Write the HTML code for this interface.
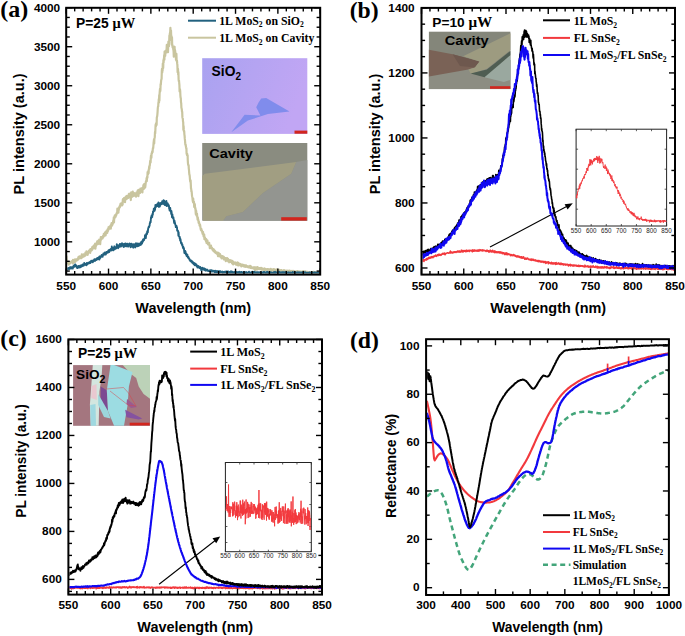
<!DOCTYPE html>
<html><head><meta charset="utf-8"><style>
html,body{margin:0;padding:0;background:#fff;}
svg{display:block;}
</style></head><body>
<svg width="685" height="636" viewBox="0 0 685 636">
<rect x="0" y="0" width="685" height="636" fill="#fff"/>
<clipPath id="ca"><rect x="67.2" y="8.8" width="252.0" height="264.8"/></clipPath>
<defs><linearGradient id="gsio" x1="0" y1="0" x2="1" y2="0.3"><stop offset="0" stop-color="#a9a2f0"/><stop offset="1" stop-color="#c1a6f4"/></linearGradient></defs>
<rect x="202.2" y="58.2" width="105.1" height="75.7" fill="url(#gsio)"/>
<polygon points="231.3,132.2 244.6,114.7 260.4,115.6 256.2,107.3 258.7,102.3 261.2,98.6 266.2,98.1 289.5,111.4 267.9,113.9 247.9,120.6" fill="#808cec"/>
<rect x="294.5" y="130.6" width="12.8" height="3.1" fill="#d2261e"/>
<rect x="202.2" y="143" width="105.1" height="77.7" fill="#8a8c80"/>
<polygon points="307.3,160 307.3,220.7 223,220.7 226.3,216.2 242.9,212.1 262.9,192.9 291.2,173.8 296.2,162.1" fill="#939590"/>
<polygon points="204.7,173.8 218.8,172.1 296.2,162.1 291.2,173.8 262.9,192.9 242.9,212.1 226.3,216.2 223,220.7 203,220.7 202.2,176.3" fill="#a19e82"/>
<rect x="281.2" y="217.2" width="25.6" height="3.4" fill="#d2261e"/>
<text x="211.6" y="76.1" font-family="Liberation Sans" font-size="13.8" font-weight="bold" text-anchor="start" fill="#000">SiO<tspan font-size="10" dy="3.8">2</tspan></text>
<text x="209.3" y="158" font-family="Liberation Sans" font-size="12.4" font-weight="bold" text-anchor="start" fill="#000" textLength="43.6" lengthAdjust="spacingAndGlyphs">Cavity</text>
<path d="M66.6 256.66 L66.8 259.68 L67 259.82 L67.2 263.25 L67.4 261.06 L67.6 261.95 L67.8 263.05 L68 261.89 L68.2 262.07 L68.4 262.22 L68.6 263.28 L68.8 264.52 L69 262.9 L69.2 262.04 L69.4 263.19 L69.6 262.34 L69.8 262.71 L70 263.51 L70.2 262.07 L70.4 262.56 L70.6 261.85 L70.8 262.31 L71 262.54 L71.2 261.57 L71.4 261.97 L71.6 261.97 L71.8 261.6 L72 261.13 L72.2 260.88 L72.4 261.74 L72.6 261.57 L72.8 263.35 L73 259.81 L73.2 261.61 L73.4 261.72 L73.6 262.37 L73.8 261.64 L74 260.54 L74.2 261.08 L74.4 261.39 L74.6 260.65 L74.8 261.37 L75 259.26 L75.2 261.9 L75.4 261.59 L75.6 260.11 L75.8 260.72 L76 260.18 L76.2 259.39 L76.4 259.98 L76.6 260.58 L76.8 259.39 L77 259.27 L77.2 259.39 L77.4 259.67 L77.6 260.21 L77.8 258.58 L78 259.37 L78.2 259.01 L78.4 257.23 L78.6 258.25 L78.8 258.36 L79 258.31 L79.2 258.47 L79.4 256.44 L79.6 258 L79.8 257.28 L80 256.54 L80.2 258.01 L80.4 258.06 L80.6 256.8 L80.8 257.91 L81 256.77 L81.2 257.02 L81.4 255.93 L81.6 258.03 L81.8 254.37 L82 256.39 L82.2 256.92 L82.4 254.5 L82.6 255.92 L82.8 255.89 L83 256.53 L83.2 256.76 L83.4 255.23 L83.6 254.26 L83.8 256.48 L84 256.22 L84.2 254.65 L84.4 255.22 L84.6 255.11 L84.8 255.14 L85 254.69 L85.2 255.6 L85.4 252.72 L85.6 255.01 L85.8 254.3 L86 253.63 L86.2 254.72 L86.4 251.47 L86.6 254.43 L86.8 253.6 L87 252.1 L87.2 253.35 L87.4 252.54 L87.6 254.98 L87.8 254.16 L88 252.75 L88.2 251.55 L88.4 251.52 L88.6 251.59 L88.8 251.22 L89 250.74 L89.2 250.86 L89.4 250.98 L89.6 250.6 L89.8 250.26 L90 249.87 L90.2 252.92 L90.4 249.01 L90.6 249.25 L90.8 250.42 L91 249.53 L91.2 250.05 L91.4 250.22 L91.6 250.47 L91.8 249.79 L92 247.94 L92.2 249.75 L92.4 246.81 L92.6 248.19 L92.8 247.62 L93 246.87 L93.2 248.26 L93.4 247.31 L93.6 248.27 L93.8 245.63 L94 247.69 L94.2 247.14 L94.4 246.57 L94.6 244.83 L94.8 245.77 L95 244.26 L95.2 243.51 L95.4 248.64 L95.6 246.12 L95.8 246.73 L96 244.27 L96.2 245.19 L96.4 244.97 L96.6 244.65 L96.8 243.81 L97 243.35 L97.2 241.24 L97.4 243.76 L97.6 243.34 L97.8 243.83 L98 242.15 L98.2 244.02 L98.4 241.51 L98.6 240.43 L98.8 242.49 L99 240.78 L99.2 239.72 L99.4 240.93 L99.6 241.37 L99.8 240.59 L100 240.62 L100.2 244.24 L100.4 240.49 L100.6 241.02 L100.8 237 L101 239.29 L101.2 239.49 L101.4 238.02 L101.6 237.22 L101.8 238.36 L102 237.34 L102.2 236.79 L102.4 238.46 L102.6 238.43 L102.8 237.05 L103 235.97 L103.2 236.8 L103.4 236.9 L103.6 236.44 L103.8 233.86 L104 234.86 L104.2 235.4 L104.4 235.45 L104.6 235.58 L104.8 235.11 L105 232.71 L105.2 232.94 L105.4 232.1 L105.6 235.31 L105.8 233.2 L106 233.37 L106.2 233.67 L106.4 231.84 L106.6 230.63 L106.8 231.21 L107 231.27 L107.2 232.93 L107.4 231.93 L107.6 229.38 L107.8 231.16 L108 230.98 L108.2 228.59 L108.4 229.44 L108.6 227.1 L108.8 229.41 L109 228.36 L109.2 226.84 L109.4 227.33 L109.6 228.17 L109.8 226.92 L110 227.65 L110.2 227.66 L110.4 225.67 L110.6 226.01 L110.8 228.69 L111 225.92 L111.2 224.41 L111.4 225.2 L111.6 223.15 L111.8 225.87 L112 224.58 L112.2 225.13 L112.4 224.54 L112.6 223.53 L112.8 223.88 L113 222.5 L113.2 221.01 L113.4 220.13 L113.6 220.41 L113.8 217.34 L114 222.4 L114.2 217.39 L114.4 219.01 L114.6 216.91 L114.8 215.48 L115 217.5 L115.2 216.7 L115.4 216.37 L115.6 216.79 L115.8 214.75 L116 215.57 L116.2 215.26 L116.4 213.65 L116.6 213.25 L116.8 213.9 L117 212.81 L117.2 212.52 L117.4 208.68 L117.6 211.58 L117.8 211.62 L118 210.54 L118.2 210.8 L118.4 212.57 L118.6 209.69 L118.8 210.11 L119 207.65 L119.2 207.26 L119.4 207.4 L119.6 206.28 L119.8 207.32 L120 205.66 L120.2 206.35 L120.4 204.22 L120.6 203.56 L120.8 204.57 L121 203.67 L121.2 203.9 L121.4 203.62 L121.6 203.65 L121.8 205.3 L122 205.44 L122.2 204.2 L122.4 202.33 L122.6 204.67 L122.8 200.02 L123 199.01 L123.2 202.01 L123.4 201.33 L123.6 200.84 L123.8 200.82 L124 198.12 L124.2 198.56 L124.4 201.78 L124.6 201.24 L124.8 198.45 L125 202.1 L125.2 197.5 L125.4 198.02 L125.6 199.08 L125.8 196.71 L126 197.56 L126.2 197.85 L126.4 197.35 L126.6 199.06 L126.8 198.49 L127 195.85 L127.2 196.32 L127.4 197.46 L127.6 196.96 L127.8 195.77 L128 197.44 L128.2 197.9 L128.4 195.64 L128.6 197.63 L128.8 193.94 L129 193.85 L129.2 196.88 L129.4 194.8 L129.6 194.46 L129.8 195.45 L130 194.73 L130.2 196.13 L130.4 193.38 L130.6 194.9 L130.8 200.07 L131 195.42 L131.2 192.3 L131.4 195.96 L131.6 195.78 L131.8 196.92 L132 194.97 L132.2 193.68 L132.4 196.67 L132.6 195.53 L132.8 191.69 L133 195.43 L133.2 193.88 L133.4 195.83 L133.6 193.54 L133.8 195.22 L134 194.27 L134.2 194.8 L134.4 193.83 L134.6 193.19 L134.8 193.86 L135 194.65 L135.2 194.28 L135.4 196.02 L135.6 194.17 L135.8 194.42 L136 196.57 L136.2 193.43 L136.4 194.05 L136.6 192.26 L136.8 193.14 L137 195.45 L137.2 193.34 L137.4 194.94 L137.6 191.01 L137.8 190.38 L138 192.82 L138.2 190.14 L138.4 196.12 L138.6 193.82 L138.8 189.88 L139 191.37 L139.2 190.59 L139.4 191.94 L139.6 191.06 L139.8 192.4 L140 193.05 L140.2 190.3 L140.4 188.66 L140.6 191.14 L140.8 189.84 L141 191.66 L141.2 189.47 L141.4 190.78 L141.6 189.82 L141.8 188.79 L142 188.17 L142.2 189.74 L142.4 192.31 L142.6 189.45 L142.8 187.7 L143 188.73 L143.2 187.53 L143.4 185.07 L143.6 187.24 L143.8 188.85 L144 185.61 L144.2 183.99 L144.4 186.17 L144.6 187.9 L144.8 186.11 L145 185.82 L145.2 187.4 L145.4 185.84 L145.6 183.87 L145.8 181.83 L146 181.76 L146.2 180.71 L146.4 181.54 L146.6 178.01 L146.8 181.18 L147 178.13 L147.2 176.45 L147.4 177.61 L147.6 172.01 L147.8 173.15 L148 172.52 L148.2 174.04 L148.4 170.91 L148.6 173.14 L148.8 169.02 L149 169.66 L149.2 166.57 L149.4 168.72 L149.6 165.3 L149.8 165.59 L150 162.82 L150.2 160.74 L150.4 161.17 L150.6 162.43 L150.8 157.68 L151 155.71 L151.2 156.79 L151.4 157.64 L151.6 153.32 L151.8 153.16 L152 153.4 L152.2 151.44 L152.4 151.53 L152.6 152.17 L152.8 149.05 L153 147.86 L153.2 148.27 L153.4 145.54 L153.6 142.57 L153.8 141.05 L154 139.4 L154.2 143.58 L154.4 138.4 L154.6 138.02 L154.8 136.71 L155 131.95 L155.2 133.33 L155.4 129.39 L155.6 124.79 L155.8 126.75 L156 123.4 L156.2 123.16 L156.4 122.82 L156.6 124.98 L156.8 117.77 L157 116.73 L157.2 116.11 L157.4 114.04 L157.6 111.64 L157.8 108.06 L158 106.61 L158.2 106.5 L158.4 102.79 L158.6 102.13 L158.8 99.19 L159 102.45 L159.2 95.21 L159.4 100.64 L159.6 93.63 L159.8 90.85 L160 88.79 L160.2 91.23 L160.4 90 L160.6 84.17 L160.8 84.96 L161 82.15 L161.2 80.19 L161.4 79.32 L161.6 78.96 L161.8 71.3 L162 68.91 L162.2 72.68 L162.4 70.44 L162.6 70.56 L162.8 63.62 L163 63.76 L163.2 68.09 L163.4 60.21 L163.6 62.7 L163.8 58.76 L164 58.42 L164.2 55 L164.4 59.81 L164.6 51.59 L164.8 52.22 L165 51.94 L165.2 55.9 L165.4 53.01 L165.6 53.1 L165.8 50.7 L166 50.55 L166.2 50.58 L166.4 52.5 L166.6 49.12 L166.8 44.78 L167 50.77 L167.2 48.15 L167.4 45.22 L167.6 47.27 L167.8 45.22 L168 52.17 L168.2 46.07 L168.4 41.56 L168.6 46.29 L168.8 42.51 L169 46.19 L169.2 41.9 L169.4 35.65 L169.6 36.99 L169.8 33.88 L170 33.12 L170.2 32.06 L170.4 27.74 L170.6 32.54 L170.8 29.99 L171 30.64 L171.2 35.89 L171.4 40.36 L171.6 36.33 L171.8 44.44 L172 37.5 L172.2 45.87 L172.4 44.93 L172.6 47.38 L172.8 46.23 L173 47.94 L173.2 49.2 L173.4 49.6 L173.6 51.81 L173.8 56.74 L174 50.32 L174.2 51.85 L174.4 48.37 L174.6 46.72 L174.8 55.98 L175 49.81 L175.2 51.41 L175.4 53.57 L175.6 56.18 L175.8 55.49 L176 59.93 L176.2 56.31 L176.4 53.75 L176.6 59.72 L176.8 61.25 L177 60.79 L177.2 63.68 L177.4 64.97 L177.6 72.13 L177.8 68.8 L178 69.05 L178.2 74.8 L178.4 72.14 L178.6 79.14 L178.8 81.09 L179 80.33 L179.2 82.92 L179.4 84.78 L179.6 91.49 L179.8 90.76 L180 89.26 L180.2 91.12 L180.4 95.56 L180.6 97.65 L180.8 98.03 L181 102.22 L181.2 103.16 L181.4 107.77 L181.6 108.41 L181.8 109.29 L182 111.72 L182.2 111.62 L182.4 117.15 L182.6 118.1 L182.8 118.45 L183 121.46 L183.2 122.11 L183.4 129.97 L183.6 126.14 L183.8 129.93 L184 131.53 L184.2 131.18 L184.4 134.58 L184.6 135.8 L184.8 138.69 L185 140.48 L185.2 143.17 L185.4 144.88 L185.6 144.34 L185.8 145.73 L186 147.18 L186.2 148.2 L186.4 148.1 L186.6 153.75 L186.8 153.92 L187 155.06 L187.2 153.88 L187.4 155.53 L187.6 155.16 L187.8 160.78 L188 163.56 L188.2 164.9 L188.4 165.27 L188.6 165.14 L188.8 168.57 L189 170.24 L189.2 173.09 L189.4 174.88 L189.6 174.88 L189.8 176.98 L190 179.88 L190.2 181.19 L190.4 181.88 L190.6 180.4 L190.8 184.42 L191 188.38 L191.2 188.88 L191.4 191.63 L191.6 191.12 L191.8 193.18 L192 195.6 L192.2 196.71 L192.4 197.47 L192.6 199.62 L192.8 201.03 L193 202.12 L193.2 198.66 L193.4 201.26 L193.6 202.35 L193.8 203.13 L194 202.12 L194.2 207.05 L194.4 204.54 L194.6 206.81 L194.8 204.03 L195 207.38 L195.2 208.42 L195.4 208.18 L195.6 211.17 L195.8 214.11 L196 210.4 L196.2 211.16 L196.4 215.43 L196.6 214.6 L196.8 214.19 L197 213.69 L197.2 217.12 L197.4 217.21 L197.6 219.71 L197.8 217.32 L198 218.98 L198.2 219.54 L198.4 220.38 L198.6 222.7 L198.8 223.12 L199 221.93 L199.2 223.28 L199.4 223.75 L199.6 225.76 L199.8 225.05 L200 224.49 L200.2 226.02 L200.4 226.94 L200.6 228.66 L200.8 229.63 L201 230.19 L201.2 229.62 L201.4 229.11 L201.6 230.94 L201.8 230.56 L202 230.57 L202.2 232.15 L202.4 232.78 L202.6 233.81 L202.8 232.28 L203 231.9 L203.2 234.85 L203.4 233.67 L203.6 236.34 L203.8 234.45 L204 235.48 L204.2 234.57 L204.4 239.27 L204.6 236.93 L204.8 237.77 L205 237.7 L205.2 238.42 L205.4 239.97 L205.6 239.57 L205.8 239.83 L206 241.48 L206.2 239.14 L206.4 242.13 L206.6 242.96 L206.8 240.17 L207 242.24 L207.2 240.94 L207.4 240.42 L207.6 242.04 L207.8 243.77 L208 244.31 L208.2 243.46 L208.4 243.25 L208.6 243.98 L208.8 243.98 L209 244.35 L209.2 242.85 L209.4 245.3 L209.6 245.68 L209.8 248.23 L210 246.99 L210.2 246.44 L210.4 246.9 L210.6 247.4 L210.8 246.64 L211 245.54 L211.2 247.09 L211.4 247.81 L211.6 248.37 L211.8 247.8 L212 247.83 L212.2 248.68 L212.4 249.2 L212.6 249.91 L212.8 249.35 L213 250.2 L213.2 249.06 L213.4 250.96 L213.6 250.35 L213.8 249.34 L214 250.57 L214.2 251.1 L214.4 250.21 L214.6 252.05 L214.8 251.27 L215 252.17 L215.2 251.04 L215.4 252.4 L215.6 252.96 L215.8 252.08 L216 252.48 L216.2 252.31 L216.4 253.29 L216.6 253.18 L216.8 253.76 L217 253.43 L217.2 252.52 L217.4 252.64 L217.6 253.56 L217.8 254.51 L218 256.23 L218.2 255.16 L218.4 254.02 L218.6 252.95 L218.8 255.29 L219 255 L219.2 254.09 L219.4 256.03 L219.6 255.41 L219.8 255.19 L220 254.04 L220.2 256.63 L220.4 256 L220.6 255.87 L220.8 255.4 L221 256.03 L221.2 257.5 L221.4 257.02 L221.6 258.38 L221.8 257.72 L222 257.25 L222.2 257.82 L222.4 257.34 L222.6 256.13 L222.8 256.95 L223 257.83 L223.2 256.91 L223.4 257.37 L223.6 256.89 L223.8 259.39 L224 257.07 L224.2 257.41 L224.4 257.65 L224.6 259.25 L224.8 259.48 L225 258.25 L225.2 259.26 L225.4 258.2 L225.6 259.02 L225.8 261.19 L226 259.97 L226.2 259.3 L226.4 258.4 L226.6 259.3 L226.8 258.61 L227 258.04 L227.2 260.31 L227.4 260.39 L227.6 260.19 L227.8 260.9 L228 258.94 L228.2 261.4 L228.4 259.59 L228.6 260.8 L228.8 260.95 L229 261.51 L229.2 262.3 L229.4 261.14 L229.6 260.68 L229.8 260.21 L230 261.33 L230.2 260.59 L230.4 260.29 L230.6 261.24 L230.8 261.98 L231 261.33 L231.2 260.86 L231.4 261.83 L231.6 260.88 L231.8 260.76 L232 263.03 L232.2 262.22 L232.4 263.57 L232.6 261.12 L232.8 263.03 L233 262.22 L233.2 264.37 L233.4 262.34 L233.6 262.25 L233.8 262.95 L234 262.85 L234.2 262.45 L234.4 263.51 L234.6 263.42 L234.8 263.63 L235 263.35 L235.2 262.63 L235.4 262.71 L235.6 263.69 L235.8 262.68 L236 264.6 L236.2 263.5 L236.4 262.98 L236.6 264.33 L236.8 263.66 L237 264.57 L237.2 263.95 L237.4 265.09 L237.6 263.66 L237.8 262.48 L238 263.01 L238.2 262.99 L238.4 264.59 L238.6 265.48 L238.8 264.17 L239 263.45 L239.2 264.89 L239.4 264.79 L239.6 264.29 L239.8 264.88 L240 264.67 L240.2 263.95 L240.4 265.25 L240.6 264.5 L240.8 264.26 L241 264.8 L241.2 266.06 L241.4 266.38 L241.6 266.06 L241.8 264.85 L242 264.56 L242.2 265.52 L242.4 265.24 L242.6 265.5 L242.8 264.72 L243 264.93 L243.2 264.86 L243.4 266.13 L243.6 266.37 L243.8 265.28 L244 266.16 L244.2 266.25 L244.4 265.41 L244.6 265.94 L244.8 266.51 L245 265.39 L245.2 266.89 L245.4 266.01 L245.6 266.23 L245.8 266.08 L246 265.34 L246.2 266.56 L246.4 266.38 L246.6 266.18 L246.8 266.35 L247 266.8 L247.2 266.49 L247.4 266.29 L247.6 266.72 L247.8 267.19 L248 266.79 L248.2 266.31 L248.4 267.37 L248.6 266.72 L248.8 267.31 L249 266.9 L249.2 266.45 L249.4 266.29 L249.6 266.56 L249.8 267.02 L250 265.82 L250.2 267.48 L250.4 267.96 L250.6 267.18 L250.8 266.69 L251 266.39 L251.2 267.59 L251.4 267.74 L251.6 267.56 L251.8 267.99 L252 267.2 L252.2 267.49 L252.4 267.85 L252.6 267.58 L252.8 268.05 L253 268.09 L253.2 267.67 L253.4 267.29 L253.6 267.47 L253.8 268.59 L254 267.25 L254.2 268.04 L254.4 267.45 L254.6 269.43 L254.8 267.73 L255 268.51 L255.2 267.59 L255.4 270.07 L255.6 267.44 L255.8 268.46 L256 267.55 L256.2 268.79 L256.4 267.61 L256.6 268.11 L256.8 267.47 L257 268.19 L257.2 268.45 L257.4 269.48 L257.6 267.17 L257.8 268.84 L258 268.58 L258.2 268.23 L258.4 268.48 L258.6 268.85 L258.8 268.63 L259 268.65 L259.2 268.25 L259.4 268.49 L259.6 269.02 L259.8 268.24 L260 268.49 L260.2 268.85 L260.4 269.02 L260.6 269.07 L260.8 268.76 L261 267.74 L261.2 269.35 L261.4 269.5 L261.6 269.63 L261.8 269.17 L262 269.47 L262.2 268.85 L262.4 268.41 L262.6 268.96 L262.8 268.93 L263 269.65 L263.2 269.56 L263.4 268.84 L263.6 268.91 L263.8 269.14 L264 269.22 L264.2 269.99 L264.4 268.94 L264.6 269.95 L264.8 268.48 L265 268.89 L265.2 270.21 L265.4 269.52 L265.6 269.37 L265.8 269.66 L266 269.24 L266.2 269.4 L266.4 269.51 L266.6 269.53 L266.8 269.62 L267 269.12 L267.2 269.65 L267.4 269.09 L267.6 269.81 L267.8 269.42 L268 269.66 L268.2 269.7 L268.4 269.16 L268.6 269.29 L268.8 269.52 L269 269.86 L269.2 270.14 L269.4 269.62 L269.6 269.3 L269.8 269.82 L270 269.69 L270.2 270.13 L270.4 270.39 L270.6 270.8 L270.8 268.9 L271 269.54 L271.2 269.77 L271.4 270.25 L271.6 270.21 L271.8 269.9 L272 270.3 L272.2 269.62 L272.4 269.73 L272.6 270.1 L272.8 269.4 L273 270.81 L273.2 269.59 L273.4 269.43 L273.6 270.21 L273.8 269.06 L274 269.85 L274.2 270.01 L274.4 270.79 L274.6 271.73 L274.8 270.25 L275 269.51 L275.2 270.33 L275.4 270.56 L275.6 269.76 L275.8 270.43 L276 271.09 L276.2 270.54 L276.4 269.9 L276.6 270.04 L276.8 269.5 L277 270.14 L277.2 270.09 L277.4 271.11 L277.6 269.63 L277.8 269.63 L278 270.55 L278.2 270.78 L278.4 270.21 L278.6 270.61 L278.8 270.87 L279 270.92 L279.2 270.75 L279.4 270.86 L279.6 269.82 L279.8 271.02 L280 270.71 L280.2 270.24 L280.4 270.47 L280.6 270.54 L280.8 270.43 L281 270.64 L281.2 270.55 L281.4 270.04 L281.6 271.85 L281.8 270.98 L282 271.91 L282.2 270.69 L282.4 271.64 L282.6 270.8 L282.8 271.65 L283 271.35 L283.2 271.29 L283.4 270.84 L283.6 271.05 L283.8 271.62 L284 270 L284.2 270.66 L284.4 270.4 L284.6 270.58 L284.8 271.35 L285 271.47 L285.2 270.98 L285.4 271.64 L285.6 270.75 L285.8 270.84 L286 271.2 L286.2 271.35 L286.4 271.11 L286.6 270.67 L286.8 271.48 L287 272.04 L287.2 271.05 L287.4 271.26 L287.6 270.73 L287.8 271.28 L288 270.86 L288.2 271.39 L288.4 272.06 L288.6 271.59 L288.8 271.01 L289 271.75 L289.2 270.56 L289.4 271.97 L289.6 271.55 L289.8 270.92 L290 271.28 L290.2 271.02 L290.4 272.4 L290.6 271.75 L290.8 271.02 L291 271.19 L291.2 271.59 L291.4 271.26 L291.6 271.65 L291.8 271.73 L292 270.89 L292.2 271.87 L292.4 272.37 L292.6 271.76 L292.8 271.91 L293 271.4 L293.2 271.41 L293.4 271.8 L293.6 271.26 L293.8 270.94 L294 272.08 L294.2 271.41 L294.4 271.82 L294.6 271.78 L294.8 271.93 L295 272.03 L295.2 272.01 L295.4 271.64 L295.6 272.16 L295.8 271.64 L296 271.97 L296.2 271.54 L296.4 271.87 L296.6 271.46 L296.8 272.49 L297 272.02 L297.2 271.55 L297.4 271.08 L297.6 271.57 L297.8 272.5 L298 271.63 L298.2 272.37 L298.4 271.85 L298.6 271.8 L298.8 271.49 L299 272.1 L299.2 272.44 L299.4 272.34 L299.6 272.24 L299.8 271.55 L300 272.07 L300.2 271.53 L300.4 271.66 L300.6 272.21 L300.8 271.59 L301 272.28 L301.2 271.94 L301.4 272.72 L301.6 272.02 L301.8 272.32 L302 272.55 L302.2 272.37 L302.4 272.41 L302.6 271.38 L302.8 272.54 L303 271.45 L303.2 271.87 L303.4 271.1 L303.6 272.03 L303.8 271.9 L304 272.09 L304.2 271.78 L304.4 272.14 L304.6 271.91 L304.8 272.15 L305 272.6 L305.2 271.32 L305.4 272.24 L305.6 272.21 L305.8 271.62 L306 272.1 L306.2 272.91 L306.4 272.46 L306.6 272.08 L306.8 272.64 L307 272.49 L307.2 271.8 L307.4 272.2 L307.6 272.35 L307.8 272.38 L308 272.53 L308.2 272.4 L308.4 272.43 L308.6 272.19 L308.8 272.27 L309 272.22 L309.2 272.66 L309.4 272.41 L309.6 272.22 L309.8 272.79 L310 273.5 L310.2 272.44 L310.4 273.04 L310.6 272.3 L310.8 272.62 L311 272.92 L311.2 273.02 L311.4 273.45 L311.6 272.38 L311.8 272.63 L312 273.17 L312.2 273.15 L312.4 272.28 L312.6 272.64 L312.8 273.06 L313 273.16 L313.2 272.28 L313.4 272.82 L313.6 271.78 L313.8 273.11 L314 273.43 L314.2 272.27 L314.4 272.64 L314.6 272.16 L314.8 272.56 L315 272.98 L315.2 273 L315.4 272.94 L315.6 272.22 L315.8 272.45 L316 273.56 L316.2 272.91 L316.4 272.65 L316.6 272.93 L316.8 272.61 L317 272.92 L317.2 272.56 L317.4 272.6 L317.6 272.26 L317.8 273.59 L318 273.19 L318.2 273.16 L318.4 273.26 L318.6 272.88 L318.8 272.51 L319 273.15 L319.2 273.23 L319.4 273.18 L319.6 272.83 L319.8 272.4" fill="none" stroke="#c9c59f" stroke-width="2.2" stroke-linejoin="round" stroke-linecap="round" clip-path="url(#ca)"/>
<path d="M66.6 270.35 L66.8 269.62 L67 269.36 L67.2 268.32 L67.4 268.99 L67.6 268.86 L67.8 268.9 L68 268.53 L68.2 268.73 L68.4 268.41 L68.6 267.9 L68.8 268.92 L69 268.83 L69.2 269.17 L69.4 268.24 L69.6 267.93 L69.8 267.79 L70 267.2 L70.2 268.47 L70.4 267.34 L70.6 267.25 L70.8 267.74 L71 268.61 L71.2 267.94 L71.4 267.27 L71.6 267.42 L71.8 268.11 L72 267.67 L72.2 267.32 L72.4 267.58 L72.6 268.03 L72.8 268.62 L73 266.84 L73.2 267.01 L73.4 266.76 L73.6 265.69 L73.8 266.26 L74 265.97 L74.2 266.92 L74.4 265.96 L74.6 264.88 L74.8 265.97 L75 265.24 L75.2 264.33 L75.4 265.03 L75.6 265.19 L75.8 265.35 L76 266.33 L76.2 265.44 L76.4 266.85 L76.6 267.64 L76.8 267.66 L77 267.89 L77.2 267.88 L77.4 268.06 L77.6 266.62 L77.8 267.63 L78 266.12 L78.2 266.73 L78.4 265.94 L78.6 267.49 L78.8 267.57 L79 266.65 L79.2 267.65 L79.4 266.21 L79.6 266.59 L79.8 266.5 L80 265.73 L80.2 266.49 L80.4 267.25 L80.6 265.49 L80.8 266.49 L81 265.81 L81.2 266.83 L81.4 266.01 L81.6 266.04 L81.8 265.95 L82 265.64 L82.2 264.62 L82.4 266.17 L82.6 264.49 L82.8 265.36 L83 265.52 L83.2 264.6 L83.4 265.12 L83.6 265.66 L83.8 264.89 L84 264.31 L84.2 263.04 L84.4 264.13 L84.6 264.3 L84.8 264.27 L85 263.94 L85.2 264.67 L85.4 264.03 L85.6 264.24 L85.8 264.64 L86 263.64 L86.2 263.9 L86.4 265.32 L86.6 264.46 L86.8 263.05 L87 263.71 L87.2 264.03 L87.4 264.36 L87.6 263.6 L87.8 263.09 L88 262.88 L88.2 263.65 L88.4 263.35 L88.6 262.74 L88.8 262.85 L89 262.62 L89.2 263.25 L89.4 262.26 L89.6 262.92 L89.8 263.06 L90 262.73 L90.2 261.79 L90.4 263.11 L90.6 261.7 L90.8 262.33 L91 261.47 L91.2 260.73 L91.4 261.92 L91.6 261.87 L91.8 261.53 L92 261.67 L92.2 260.96 L92.4 260.81 L92.6 261.09 L92.8 262.38 L93 261.56 L93.2 260.57 L93.4 261.19 L93.6 260.4 L93.8 260.31 L94 261.11 L94.2 260.07 L94.4 259.19 L94.6 259.61 L94.8 260.19 L95 260.12 L95.2 260.78 L95.4 259.33 L95.6 260.23 L95.8 259.92 L96 259.42 L96.2 260 L96.4 259.66 L96.6 258.61 L96.8 259.86 L97 258.14 L97.2 258.93 L97.4 258.79 L97.6 258.98 L97.8 258.05 L98 258.43 L98.2 258.25 L98.4 258.95 L98.6 257.55 L98.8 258.06 L99 257.71 L99.2 256.84 L99.4 259.6 L99.6 257.49 L99.8 256.34 L100 258.33 L100.2 256.39 L100.4 257.32 L100.6 257.56 L100.8 256.31 L101 256.34 L101.2 256.12 L101.4 256.28 L101.6 255.03 L101.8 255.17 L102 255.85 L102.2 256.59 L102.4 256.14 L102.6 256.82 L102.8 255.89 L103 254.82 L103.2 254.96 L103.4 253.34 L103.6 254 L103.8 253.79 L104 254.63 L104.2 254.77 L104.4 253.67 L104.6 253.48 L104.8 252.57 L105 253.52 L105.2 253.65 L105.4 253.65 L105.6 252.51 L105.8 254.55 L106 253.76 L106.2 252.57 L106.4 252.06 L106.6 252.07 L106.8 252.29 L107 251.99 L107.2 252.25 L107.4 252.32 L107.6 252.66 L107.8 252.33 L108 251.15 L108.2 251.42 L108.4 250.63 L108.6 250.32 L108.8 252.25 L109 250.15 L109.2 252.05 L109.4 249.97 L109.6 250.35 L109.8 250.92 L110 249.91 L110.2 250.09 L110.4 249.44 L110.6 249.12 L110.8 249.26 L111 248.73 L111.2 250.55 L111.4 248.9 L111.6 250.4 L111.8 246.53 L112 248.72 L112.2 249.07 L112.4 248.23 L112.6 249.31 L112.8 248.82 L113 247.92 L113.2 248.43 L113.4 250.38 L113.6 248.06 L113.8 248 L114 247.26 L114.2 247.66 L114.4 246.32 L114.6 247.18 L114.8 249.4 L115 248.09 L115.2 247.62 L115.4 247.94 L115.6 248.53 L115.8 247.31 L116 248.52 L116.2 247.56 L116.4 246.68 L116.6 247.96 L116.8 244.28 L117 245.77 L117.2 246.43 L117.4 245.31 L117.6 245.9 L117.8 245.4 L118 245.31 L118.2 248.23 L118.4 246.3 L118.6 245.63 L118.8 246.78 L119 245.33 L119.2 246.27 L119.4 245.73 L119.6 246.82 L119.8 244.04 L120 245.94 L120.2 245.32 L120.4 244.12 L120.6 246.08 L120.8 244.3 L121 246.5 L121.2 245.47 L121.4 245.61 L121.6 245.03 L121.8 245.74 L122 243.23 L122.2 244.96 L122.4 244.3 L122.6 245.11 L122.8 244.8 L123 245.38 L123.2 244.06 L123.4 246.47 L123.6 246.89 L123.8 244.61 L124 244.78 L124.2 245.05 L124.4 245.94 L124.6 246.52 L124.8 243.72 L125 244.27 L125.2 243.88 L125.4 243.85 L125.6 243.39 L125.8 245.21 L126 243.86 L126.2 246.28 L126.4 245.76 L126.6 244.04 L126.8 244.06 L127 244.47 L127.2 246.3 L127.4 244.3 L127.6 243.75 L127.8 245.08 L128 245.48 L128.2 244.58 L128.4 246.66 L128.6 245.45 L128.8 245.66 L129 244.52 L129.2 245.28 L129.4 245.2 L129.6 243.33 L129.8 245.65 L130 243.81 L130.2 245.42 L130.4 244.15 L130.6 247.29 L130.8 245.81 L131 246.31 L131.2 246.39 L131.4 244.42 L131.6 243.6 L131.8 245.38 L132 246.52 L132.2 245.84 L132.4 246.51 L132.6 246.69 L132.8 244.58 L133 246.2 L133.2 247.73 L133.4 245.52 L133.6 244.26 L133.8 245.88 L134 245.69 L134.2 246.48 L134.4 245.32 L134.6 246.19 L134.8 244.13 L135 246.82 L135.2 247.44 L135.4 247.15 L135.6 244.6 L135.8 246.18 L136 243.18 L136.2 246.02 L136.4 245.65 L136.6 244.75 L136.8 245.87 L137 245.61 L137.2 246.25 L137.4 245.43 L137.6 245.44 L137.8 243.4 L138 244.01 L138.2 244.53 L138.4 245.13 L138.6 244.75 L138.8 246.01 L139 243.77 L139.2 244.23 L139.4 244.56 L139.6 244.01 L139.8 244.55 L140 243.46 L140.2 245.16 L140.4 243.44 L140.6 244.62 L140.8 243.44 L141 244.69 L141.2 241.88 L141.4 243.49 L141.6 242.45 L141.8 242.89 L142 243.6 L142.2 241.23 L142.4 240.84 L142.6 240.91 L142.8 241.84 L143 239.55 L143.2 241.13 L143.4 239.52 L143.6 239.32 L143.8 239.72 L144 240.08 L144.2 238.76 L144.4 238.52 L144.6 238.59 L144.8 237.98 L145 235.21 L145.2 236.99 L145.4 237.06 L145.6 237.61 L145.8 238.08 L146 236.2 L146.2 235.09 L146.4 233.49 L146.6 234.02 L146.8 234.17 L147 234.11 L147.2 231.3 L147.4 231.86 L147.6 231.86 L147.8 232.34 L148 230 L148.2 228.5 L148.4 227.69 L148.6 227.38 L148.8 226.39 L149 227.33 L149.2 226.93 L149.4 225.88 L149.6 225.72 L149.8 223.21 L150 223.47 L150.2 221.92 L150.4 221.7 L150.6 222.33 L150.8 220.13 L151 217.23 L151.2 218.33 L151.4 217.03 L151.6 215.34 L151.8 215.47 L152 216.87 L152.2 217.1 L152.4 213.89 L152.6 215.11 L152.8 214.77 L153 211.37 L153.2 212.17 L153.4 211.62 L153.6 211.34 L153.8 208.62 L154 209.62 L154.2 210.86 L154.4 210.61 L154.6 210.84 L154.8 207.65 L155 209.97 L155.2 208.02 L155.4 205.05 L155.6 207.34 L155.8 205.56 L156 206.34 L156.2 205.24 L156.4 206.65 L156.6 205.25 L156.8 204.39 L157 205.82 L157.2 204.82 L157.4 203.9 L157.6 206.01 L157.8 203.82 L158 203.54 L158.2 203.68 L158.4 202.5 L158.6 203.71 L158.8 206.85 L159 203.34 L159.2 204.54 L159.4 203.14 L159.6 203.8 L159.8 206.51 L160 205.68 L160.2 203.72 L160.4 204.4 L160.6 203.22 L160.8 203.14 L161 202.81 L161.2 202.66 L161.4 204.05 L161.6 204.22 L161.8 203.89 L162 202.87 L162.2 201.16 L162.4 202.72 L162.6 201.49 L162.8 203.75 L163 203.28 L163.2 203.49 L163.4 202.06 L163.6 200.17 L163.8 203.79 L164 204.18 L164.2 200.7 L164.4 202.85 L164.6 204.28 L164.8 201.4 L165 205.16 L165.2 202.5 L165.4 201.64 L165.6 204.89 L165.8 203.59 L166 202.47 L166.2 204.55 L166.4 201.01 L166.6 205.99 L166.8 202.72 L167 204.29 L167.2 203.55 L167.4 204.79 L167.6 205.55 L167.8 203.56 L168 205.87 L168.2 204.79 L168.4 204.64 L168.6 205.71 L168.8 205.3 L169 206.21 L169.2 209.02 L169.4 208.19 L169.6 210.33 L169.8 209.91 L170 208.56 L170.2 207.95 L170.4 209.91 L170.6 211.54 L170.8 211.69 L171 211.13 L171.2 213.85 L171.4 210.97 L171.6 212.05 L171.8 214.22 L172 217.21 L172.2 215.57 L172.4 214.4 L172.6 216.84 L172.8 217.48 L173 218.34 L173.2 217.31 L173.4 217.43 L173.6 219.08 L173.8 220.01 L174 221.96 L174.2 223.11 L174.4 220.47 L174.6 221.31 L174.8 222.44 L175 222.83 L175.2 224.27 L175.4 224.88 L175.6 225.23 L175.8 227.04 L176 225.99 L176.2 225.63 L176.4 225.7 L176.6 226.9 L176.8 227.5 L177 227.24 L177.2 230.59 L177.4 230.71 L177.6 230.71 L177.8 230.87 L178 230.8 L178.2 232.14 L178.4 235.63 L178.6 232.12 L178.8 235.15 L179 236.39 L179.2 236.41 L179.4 236.57 L179.6 238.25 L179.8 237.02 L180 239.25 L180.2 240.71 L180.4 238.95 L180.6 239.78 L180.8 241.31 L181 242.72 L181.2 243.63 L181.4 243.6 L181.6 242.92 L181.8 243.07 L182 244.84 L182.2 245.49 L182.4 244.66 L182.6 246.18 L182.8 246.89 L183 247.98 L183.2 246.67 L183.4 248.48 L183.6 247.45 L183.8 248.55 L184 249.3 L184.2 251.09 L184.4 253.02 L184.6 250.91 L184.8 251.54 L185 252.38 L185.2 250.87 L185.4 253.01 L185.6 251.8 L185.8 254.49 L186 254.72 L186.2 254.36 L186.4 253.71 L186.6 255.99 L186.8 255.26 L187 255.49 L187.2 256.19 L187.4 254.79 L187.6 256.71 L187.8 257.44 L188 257.24 L188.2 257.39 L188.4 256.88 L188.6 258.31 L188.8 258.26 L189 258.39 L189.2 258.24 L189.4 259.5 L189.6 260.02 L189.8 259.65 L190 260.24 L190.2 260.76 L190.4 261.16 L190.6 260.45 L190.8 260.37 L191 260.45 L191.2 260.95 L191.4 261.51 L191.6 261.96 L191.8 261.26 L192 261.83 L192.2 261.27 L192.4 262.93 L192.6 262.04 L192.8 262.71 L193 262.2 L193.2 262.64 L193.4 262.57 L193.6 264.25 L193.8 263.57 L194 263.41 L194.2 263.1 L194.4 263.47 L194.6 264.36 L194.8 265.19 L195 263.47 L195.2 263.95 L195.4 264.56 L195.6 264.45 L195.8 264 L196 265.14 L196.2 265.72 L196.4 264.52 L196.6 265.71 L196.8 266.29 L197 266.44 L197.2 265.78 L197.4 267.46 L197.6 266.61 L197.8 265.98 L198 267.12 L198.2 266.08 L198.4 267.32 L198.6 266.27 L198.8 267.51 L199 266.89 L199.2 267.92 L199.4 267.83 L199.6 267.78 L199.8 267.69 L200 268.33 L200.2 266.93 L200.4 268.19 L200.6 268.29 L200.8 268.46 L201 268.69 L201.2 270.24 L201.4 268.51 L201.6 268.94 L201.8 268.7 L202 269.49 L202.2 267.78 L202.4 269.7 L202.6 268.6 L202.8 267.9 L203 268.56 L203.2 269.07 L203.4 269.32 L203.6 269.27 L203.8 269.75 L204 269.41 L204.2 269.46 L204.4 268.54 L204.6 269.84 L204.8 270.15 L205 269.53 L205.2 268.91 L205.4 269.22 L205.6 270.67 L205.8 269.67 L206 269.7 L206.2 269.68 L206.4 270.41 L206.6 269.88 L206.8 269.8 L207 269.56 L207.2 270.24 L207.4 270.78 L207.6 270.3 L207.8 270.8 L208 270.53 L208.2 270.55 L208.4 270.61 L208.6 270.58 L208.8 271.05 L209 270.85 L209.2 270.42 L209.4 270.76 L209.6 270.7 L209.8 270.98 L210 270.88 L210.2 271.01 L210.4 270.23 L210.6 271.05 L210.8 271.48 L211 270.37 L211.2 271.66 L211.4 271.13 L211.6 270.94 L211.8 270.29 L212 271.54 L212.2 270.7 L212.4 270.92 L212.6 271.39 L212.8 270.75 L213 270.8 L213.2 270.75 L213.4 271.21 L213.6 271.52 L213.8 271.47 L214 271.49 L214.2 271.2 L214.4 271.42 L214.6 271.11 L214.8 272.23 L215 271.51 L215.2 270.66 L215.4 271.04 L215.6 272.14 L215.8 270.96 L216 271.35 L216.2 271.71 L216.4 271.12 L216.6 272.01 L216.8 272.27 L217 271.29 L217.2 272.09 L217.4 271.29 L217.6 271.27 L217.8 271.78 L218 271.79 L218.2 271.47 L218.4 272.06 L218.6 271.16 L218.8 271.42 L219 271.34 L219.2 272.08 L219.4 272.11 L219.6 272.07 L219.8 271.31 L220 271.88 L220.2 272.02 L220.4 271.23 L220.6 271.55 L220.8 272.13 L221 272.16 L221.2 272 L221.4 272.12 L221.6 272.05 L221.8 271.99 L222 271.9 L222.2 271.62 L222.4 271.87 L222.6 271.82 L222.8 272.88 L223 272.1 L223.2 272 L223.4 271.93 L223.6 271.98 L223.8 271.93 L224 272.25 L224.2 272.04 L224.4 272.37 L224.6 271.8 L224.8 272.21 L225 272.42 L225.2 271.65 L225.4 272.16 L225.6 272.2 L225.8 271.99 L226 271.94 L226.2 271.43 L226.4 272.57 L226.6 271.79 L226.8 271.69 L227 272.41 L227.2 271.48 L227.4 272.54 L227.6 272.34 L227.8 272.41 L228 272.13 L228.2 271.75 L228.4 271.5 L228.6 272.76 L228.8 272.04 L229 272.03 L229.2 272.82 L229.4 272 L229.6 272.16 L229.8 272.16 L230 272.21 L230.2 271.88 L230.4 272.06 L230.6 272.75 L230.8 272.56 L231 271.19 L231.2 271.57 L231.4 272.42 L231.6 272.26 L231.8 272.17 L232 272.7 L232.2 271.66 L232.4 272.77 L232.6 272.38 L232.8 272.54 L233 272.44 L233.2 272.66 L233.4 272.26 L233.6 272.16 L233.8 272.65 L234 272.43 L234.2 271.92 L234.4 272.87 L234.6 272.83 L234.8 272.92 L235 272.42 L235.2 272.53 L235.4 272.27 L235.6 272.06 L235.8 272.44 L236 272.48 L236.2 272.18 L236.4 273.09 L236.6 271.85 L236.8 272.14 L237 272.2 L237.2 272.91 L237.4 272.36 L237.6 272.34 L237.8 272.14 L238 272.19 L238.2 271.99 L238.4 272.84 L238.6 272.69 L238.8 272.83 L239 272.24 L239.2 273.39 L239.4 272.13 L239.6 271.75 L239.8 272.39 L240 272.54 L240.2 272.77 L240.4 272.13 L240.6 272.71 L240.8 273.12 L241 272.2 L241.2 272.24 L241.4 271.9 L241.6 272.6 L241.8 272.82 L242 272.79 L242.2 272.82 L242.4 273.03 L242.6 272.57 L242.8 272.86 L243 272.18 L243.2 272.24 L243.4 272.61 L243.6 272.23 L243.8 272.73 L244 273.02 L244.2 272.67 L244.4 272.27 L244.6 272.26 L244.8 273.02 L245 272.25 L245.2 272.57 L245.4 272.44 L245.6 272.55 L245.8 272.93 L246 272.34 L246.2 272.03 L246.4 273.06 L246.6 272.62 L246.8 272.8 L247 272.53 L247.2 272.82 L247.4 272.99 L247.6 273.03 L247.8 272.44 L248 272.42 L248.2 272.68 L248.4 272.62 L248.6 272.75 L248.8 272.29 L249 271.72 L249.2 272.71 L249.4 272.82 L249.6 272.78 L249.8 273.14 L250 272.85 L250.2 272.41 L250.4 272.9 L250.6 272.52 L250.8 273 L251 272.63 L251.2 272.71 L251.4 272.63 L251.6 272.57 L251.8 272.02 L252 272.57 L252.2 271.74 L252.4 272.73 L252.6 272.91 L252.8 273.29 L253 272.69 L253.2 272.3 L253.4 271.99 L253.6 273.25 L253.8 272.05 L254 272.88 L254.2 271.74 L254.4 272.54 L254.6 272.8 L254.8 272.68 L255 272.55 L255.2 272.27 L255.4 272.24 L255.6 272.92 L255.8 272.72 L256 272.51 L256.2 272.64 L256.4 272.24 L256.6 272.93 L256.8 273.02 L257 272.29 L257.2 272.61 L257.4 272.95 L257.6 272.35 L257.8 273.3 L258 273.11 L258.2 272.48 L258.4 272.93 L258.6 273.17 L258.8 272.14 L259 272.8 L259.2 272.53 L259.4 272.51 L259.6 272.84 L259.8 272.42 L260 272.09 L260.2 272.09 L260.4 272.58 L260.6 272.82 L260.8 272.59 L261 272.54 L261.2 272.59 L261.4 273.05 L261.6 272.79 L261.8 272.34 L262 272.5 L262.2 273.03 L262.4 272.4 L262.6 272.47 L262.8 272.6 L263 272.23 L263.2 272.93 L263.4 271.84 L263.6 273.13 L263.8 272.46 L264 272.17 L264.2 272.72 L264.4 272.02 L264.6 272.81 L264.8 272.89 L265 272.42 L265.2 272.49 L265.4 272.96 L265.6 272.39 L265.8 272.64 L266 272.75 L266.2 273.18 L266.4 272.46 L266.6 272.65 L266.8 273.03 L267 271.74 L267.2 272.54 L267.4 271.97 L267.6 271.99 L267.8 273.33 L268 272.72 L268.2 273.17 L268.4 272.56 L268.6 272.84 L268.8 272.5 L269 272.46 L269.2 272.63 L269.4 272.7 L269.6 273.19 L269.8 272.59 L270 272.79 L270.2 272.57 L270.4 272.71 L270.6 272.2 L270.8 273.05 L271 272.48 L271.2 272.68 L271.4 272.59 L271.6 273.01 L271.8 272.85 L272 272.68 L272.2 272.73 L272.4 272.79 L272.6 272.94 L272.8 272.85 L273 273.13 L273.2 273.25 L273.4 272.9 L273.6 272.22 L273.8 273.29 L274 273.44 L274.2 272.56 L274.4 272.54 L274.6 271.97 L274.8 272.96 L275 272.34 L275.2 273.33 L275.4 271.83 L275.6 272.72 L275.8 272.93 L276 272.56 L276.2 272.42 L276.4 272.79 L276.6 272.52 L276.8 272.59 L277 272.69 L277.2 272.51 L277.4 272.63 L277.6 272.98 L277.8 272.58 L278 272.77 L278.2 272.45 L278.4 273.03 L278.6 272.27 L278.8 273.05 L279 271.67 L279.2 272.41 L279.4 272.17 L279.6 273.08 L279.8 272.82 L280 272.27 L280.2 272.53 L280.4 273.19 L280.6 272.71 L280.8 272.92 L281 272.21 L281.2 272.21 L281.4 272.93 L281.6 273.53 L281.8 272.55 L282 272.94 L282.2 272.41 L282.4 273.17 L282.6 272.58 L282.8 272.59 L283 272.08 L283.2 272.6 L283.4 272.8 L283.6 273.22 L283.8 272.34 L284 273.08 L284.2 272.63 L284.4 272.65 L284.6 272.42 L284.8 272.16 L285 272.33 L285.2 273.31 L285.4 272.34 L285.6 272.6 L285.8 273.13 L286 272.02 L286.2 272.91 L286.4 272.58 L286.6 272.82 L286.8 273.05 L287 272.7 L287.2 272.69 L287.4 273.01 L287.6 272.98 L287.8 272.51 L288 272.7 L288.2 272.3 L288.4 273.21 L288.6 272.35 L288.8 272.83 L289 273.37 L289.2 273.05 L289.4 272.67 L289.6 272.53 L289.8 272.56 L290 273.09 L290.2 272.9 L290.4 272.78 L290.6 273.68 L290.8 272.5 L291 272.62 L291.2 272.66 L291.4 272.87 L291.6 272.9 L291.8 272.7 L292 273.05 L292.2 272.98 L292.4 272.7 L292.6 271.96 L292.8 273.07 L293 272.48 L293.2 272.58 L293.4 272.75 L293.6 272.38 L293.8 272.53 L294 272.82 L294.2 272.68 L294.4 272.91 L294.6 272.51 L294.8 272.72 L295 272.44 L295.2 272.7 L295.4 272.9 L295.6 272.72 L295.8 272.32 L296 272.74 L296.2 272.86 L296.4 273.19 L296.6 272.8 L296.8 272.67 L297 272.42 L297.2 273.49 L297.4 272.49 L297.6 272.44 L297.8 272.77 L298 272.2 L298.2 273.19 L298.4 272.89 L298.6 272.99 L298.8 272.5 L299 272.66 L299.2 273.12 L299.4 273.14 L299.6 273.8 L299.8 273.21 L300 272.2 L300.2 272.87 L300.4 272.72 L300.6 273.22 L300.8 272.82 L301 273.01 L301.2 272.74 L301.4 273.06 L301.6 273.35 L301.8 272.65 L302 272.17 L302.2 272.51 L302.4 273.39 L302.6 272.94 L302.8 272.76 L303 272.54 L303.2 273.22 L303.4 272.97 L303.6 272.83 L303.8 272.69 L304 272.82 L304.2 272.77 L304.4 273.07 L304.6 273.31 L304.8 272.22 L305 272.39 L305.2 272.85 L305.4 272.91 L305.6 272.36 L305.8 272.68 L306 272.75 L306.2 272.74 L306.4 272.73 L306.6 272.86 L306.8 273.19 L307 273.14 L307.2 273.09 L307.4 272.99 L307.6 272.66 L307.8 272.74 L308 273.13 L308.2 272.94 L308.4 273.17 L308.6 272.99 L308.8 272.93 L309 273.05 L309.2 272.39 L309.4 272.86 L309.6 272.71 L309.8 273.2 L310 272.69 L310.2 272.99 L310.4 272.77 L310.6 273.08 L310.8 273.16 L311 272.85 L311.2 272.95 L311.4 272.98 L311.6 273.18 L311.8 272.81 L312 272.94 L312.2 272.78 L312.4 272.61 L312.6 272.98 L312.8 273.07 L313 272.66 L313.2 273.45 L313.4 272.68 L313.6 273.18 L313.8 273.06 L314 272.37 L314.2 272.93 L314.4 272.41 L314.6 272.9 L314.8 273.16 L315 273.55 L315.2 273.2 L315.4 272.44 L315.6 272.83 L315.8 273.44 L316 273.01 L316.2 273.53 L316.4 272.71 L316.6 272.77 L316.8 272.5 L317 272.83 L317.2 273.37 L317.4 272.65 L317.6 273.23 L317.8 273.11 L318 273.22 L318.2 272.88 L318.4 272.97 L318.6 273.67 L318.8 272.55 L319 273.22 L319.2 273.47 L319.4 273.12 L319.6 273.52 L319.8 271.99" fill="none" stroke="#22617f" stroke-width="1.9" stroke-linejoin="round" stroke-linecap="round" clip-path="url(#ca)"/>
<line x1="74.67" y1="274.6" x2="74.67" y2="271" stroke="#000" stroke-width="1.4"/>
<line x1="74.67" y1="7.8" x2="74.67" y2="11.4" stroke="#000" stroke-width="1.4"/>
<line x1="83.13" y1="274.6" x2="83.13" y2="271" stroke="#000" stroke-width="1.4"/>
<line x1="83.13" y1="7.8" x2="83.13" y2="11.4" stroke="#000" stroke-width="1.4"/>
<line x1="91.6" y1="274.6" x2="91.6" y2="271" stroke="#000" stroke-width="1.4"/>
<line x1="91.6" y1="7.8" x2="91.6" y2="11.4" stroke="#000" stroke-width="1.4"/>
<line x1="100.07" y1="274.6" x2="100.07" y2="271" stroke="#000" stroke-width="1.4"/>
<line x1="100.07" y1="7.8" x2="100.07" y2="11.4" stroke="#000" stroke-width="1.4"/>
<line x1="117" y1="274.6" x2="117" y2="271" stroke="#000" stroke-width="1.4"/>
<line x1="117" y1="7.8" x2="117" y2="11.4" stroke="#000" stroke-width="1.4"/>
<line x1="125.47" y1="274.6" x2="125.47" y2="271" stroke="#000" stroke-width="1.4"/>
<line x1="125.47" y1="7.8" x2="125.47" y2="11.4" stroke="#000" stroke-width="1.4"/>
<line x1="133.93" y1="274.6" x2="133.93" y2="271" stroke="#000" stroke-width="1.4"/>
<line x1="133.93" y1="7.8" x2="133.93" y2="11.4" stroke="#000" stroke-width="1.4"/>
<line x1="142.4" y1="274.6" x2="142.4" y2="271" stroke="#000" stroke-width="1.4"/>
<line x1="142.4" y1="7.8" x2="142.4" y2="11.4" stroke="#000" stroke-width="1.4"/>
<line x1="159.33" y1="274.6" x2="159.33" y2="271" stroke="#000" stroke-width="1.4"/>
<line x1="159.33" y1="7.8" x2="159.33" y2="11.4" stroke="#000" stroke-width="1.4"/>
<line x1="167.8" y1="274.6" x2="167.8" y2="271" stroke="#000" stroke-width="1.4"/>
<line x1="167.8" y1="7.8" x2="167.8" y2="11.4" stroke="#000" stroke-width="1.4"/>
<line x1="176.27" y1="274.6" x2="176.27" y2="271" stroke="#000" stroke-width="1.4"/>
<line x1="176.27" y1="7.8" x2="176.27" y2="11.4" stroke="#000" stroke-width="1.4"/>
<line x1="184.73" y1="274.6" x2="184.73" y2="271" stroke="#000" stroke-width="1.4"/>
<line x1="184.73" y1="7.8" x2="184.73" y2="11.4" stroke="#000" stroke-width="1.4"/>
<line x1="201.67" y1="274.6" x2="201.67" y2="271" stroke="#000" stroke-width="1.4"/>
<line x1="201.67" y1="7.8" x2="201.67" y2="11.4" stroke="#000" stroke-width="1.4"/>
<line x1="210.13" y1="274.6" x2="210.13" y2="271" stroke="#000" stroke-width="1.4"/>
<line x1="210.13" y1="7.8" x2="210.13" y2="11.4" stroke="#000" stroke-width="1.4"/>
<line x1="218.6" y1="274.6" x2="218.6" y2="271" stroke="#000" stroke-width="1.4"/>
<line x1="218.6" y1="7.8" x2="218.6" y2="11.4" stroke="#000" stroke-width="1.4"/>
<line x1="227.07" y1="274.6" x2="227.07" y2="271" stroke="#000" stroke-width="1.4"/>
<line x1="227.07" y1="7.8" x2="227.07" y2="11.4" stroke="#000" stroke-width="1.4"/>
<line x1="244" y1="274.6" x2="244" y2="271" stroke="#000" stroke-width="1.4"/>
<line x1="244" y1="7.8" x2="244" y2="11.4" stroke="#000" stroke-width="1.4"/>
<line x1="252.47" y1="274.6" x2="252.47" y2="271" stroke="#000" stroke-width="1.4"/>
<line x1="252.47" y1="7.8" x2="252.47" y2="11.4" stroke="#000" stroke-width="1.4"/>
<line x1="260.93" y1="274.6" x2="260.93" y2="271" stroke="#000" stroke-width="1.4"/>
<line x1="260.93" y1="7.8" x2="260.93" y2="11.4" stroke="#000" stroke-width="1.4"/>
<line x1="269.4" y1="274.6" x2="269.4" y2="271" stroke="#000" stroke-width="1.4"/>
<line x1="269.4" y1="7.8" x2="269.4" y2="11.4" stroke="#000" stroke-width="1.4"/>
<line x1="286.33" y1="274.6" x2="286.33" y2="271" stroke="#000" stroke-width="1.4"/>
<line x1="286.33" y1="7.8" x2="286.33" y2="11.4" stroke="#000" stroke-width="1.4"/>
<line x1="294.8" y1="274.6" x2="294.8" y2="271" stroke="#000" stroke-width="1.4"/>
<line x1="294.8" y1="7.8" x2="294.8" y2="11.4" stroke="#000" stroke-width="1.4"/>
<line x1="303.27" y1="274.6" x2="303.27" y2="271" stroke="#000" stroke-width="1.4"/>
<line x1="303.27" y1="7.8" x2="303.27" y2="11.4" stroke="#000" stroke-width="1.4"/>
<line x1="311.73" y1="274.6" x2="311.73" y2="271" stroke="#000" stroke-width="1.4"/>
<line x1="311.73" y1="7.8" x2="311.73" y2="11.4" stroke="#000" stroke-width="1.4"/>
<line x1="66.2" y1="274.6" x2="66.2" y2="268.6" stroke="#000" stroke-width="1.4"/>
<line x1="66.2" y1="7.8" x2="66.2" y2="13.8" stroke="#000" stroke-width="1.4"/>
<line x1="108.53" y1="274.6" x2="108.53" y2="268.6" stroke="#000" stroke-width="1.4"/>
<line x1="108.53" y1="7.8" x2="108.53" y2="13.8" stroke="#000" stroke-width="1.4"/>
<line x1="150.87" y1="274.6" x2="150.87" y2="268.6" stroke="#000" stroke-width="1.4"/>
<line x1="150.87" y1="7.8" x2="150.87" y2="13.8" stroke="#000" stroke-width="1.4"/>
<line x1="193.2" y1="274.6" x2="193.2" y2="268.6" stroke="#000" stroke-width="1.4"/>
<line x1="193.2" y1="7.8" x2="193.2" y2="13.8" stroke="#000" stroke-width="1.4"/>
<line x1="235.53" y1="274.6" x2="235.53" y2="268.6" stroke="#000" stroke-width="1.4"/>
<line x1="235.53" y1="7.8" x2="235.53" y2="13.8" stroke="#000" stroke-width="1.4"/>
<line x1="277.87" y1="274.6" x2="277.87" y2="268.6" stroke="#000" stroke-width="1.4"/>
<line x1="277.87" y1="7.8" x2="277.87" y2="13.8" stroke="#000" stroke-width="1.4"/>
<line x1="320.2" y1="274.6" x2="320.2" y2="268.6" stroke="#000" stroke-width="1.4"/>
<line x1="320.2" y1="7.8" x2="320.2" y2="13.8" stroke="#000" stroke-width="1.4"/>
<line x1="66.2" y1="271.08" x2="69.8" y2="271.08" stroke="#000" stroke-width="1.4"/>
<line x1="320.2" y1="271.08" x2="316.6" y2="271.08" stroke="#000" stroke-width="1.4"/>
<line x1="66.2" y1="261.33" x2="69.8" y2="261.33" stroke="#000" stroke-width="1.4"/>
<line x1="320.2" y1="261.33" x2="316.6" y2="261.33" stroke="#000" stroke-width="1.4"/>
<line x1="66.2" y1="251.57" x2="69.8" y2="251.57" stroke="#000" stroke-width="1.4"/>
<line x1="320.2" y1="251.57" x2="316.6" y2="251.57" stroke="#000" stroke-width="1.4"/>
<line x1="66.2" y1="232.06" x2="69.8" y2="232.06" stroke="#000" stroke-width="1.4"/>
<line x1="320.2" y1="232.06" x2="316.6" y2="232.06" stroke="#000" stroke-width="1.4"/>
<line x1="66.2" y1="222.31" x2="69.8" y2="222.31" stroke="#000" stroke-width="1.4"/>
<line x1="320.2" y1="222.31" x2="316.6" y2="222.31" stroke="#000" stroke-width="1.4"/>
<line x1="66.2" y1="212.55" x2="69.8" y2="212.55" stroke="#000" stroke-width="1.4"/>
<line x1="320.2" y1="212.55" x2="316.6" y2="212.55" stroke="#000" stroke-width="1.4"/>
<line x1="66.2" y1="193.04" x2="69.8" y2="193.04" stroke="#000" stroke-width="1.4"/>
<line x1="320.2" y1="193.04" x2="316.6" y2="193.04" stroke="#000" stroke-width="1.4"/>
<line x1="66.2" y1="183.29" x2="69.8" y2="183.29" stroke="#000" stroke-width="1.4"/>
<line x1="320.2" y1="183.29" x2="316.6" y2="183.29" stroke="#000" stroke-width="1.4"/>
<line x1="66.2" y1="173.53" x2="69.8" y2="173.53" stroke="#000" stroke-width="1.4"/>
<line x1="320.2" y1="173.53" x2="316.6" y2="173.53" stroke="#000" stroke-width="1.4"/>
<line x1="66.2" y1="154.02" x2="69.8" y2="154.02" stroke="#000" stroke-width="1.4"/>
<line x1="320.2" y1="154.02" x2="316.6" y2="154.02" stroke="#000" stroke-width="1.4"/>
<line x1="66.2" y1="144.27" x2="69.8" y2="144.27" stroke="#000" stroke-width="1.4"/>
<line x1="320.2" y1="144.27" x2="316.6" y2="144.27" stroke="#000" stroke-width="1.4"/>
<line x1="66.2" y1="134.51" x2="69.8" y2="134.51" stroke="#000" stroke-width="1.4"/>
<line x1="320.2" y1="134.51" x2="316.6" y2="134.51" stroke="#000" stroke-width="1.4"/>
<line x1="66.2" y1="115" x2="69.8" y2="115" stroke="#000" stroke-width="1.4"/>
<line x1="320.2" y1="115" x2="316.6" y2="115" stroke="#000" stroke-width="1.4"/>
<line x1="66.2" y1="105.25" x2="69.8" y2="105.25" stroke="#000" stroke-width="1.4"/>
<line x1="320.2" y1="105.25" x2="316.6" y2="105.25" stroke="#000" stroke-width="1.4"/>
<line x1="66.2" y1="95.5" x2="69.8" y2="95.5" stroke="#000" stroke-width="1.4"/>
<line x1="320.2" y1="95.5" x2="316.6" y2="95.5" stroke="#000" stroke-width="1.4"/>
<line x1="66.2" y1="75.98" x2="69.8" y2="75.98" stroke="#000" stroke-width="1.4"/>
<line x1="320.2" y1="75.98" x2="316.6" y2="75.98" stroke="#000" stroke-width="1.4"/>
<line x1="66.2" y1="66.23" x2="69.8" y2="66.23" stroke="#000" stroke-width="1.4"/>
<line x1="320.2" y1="66.23" x2="316.6" y2="66.23" stroke="#000" stroke-width="1.4"/>
<line x1="66.2" y1="56.48" x2="69.8" y2="56.48" stroke="#000" stroke-width="1.4"/>
<line x1="320.2" y1="56.48" x2="316.6" y2="56.48" stroke="#000" stroke-width="1.4"/>
<line x1="66.2" y1="36.97" x2="69.8" y2="36.97" stroke="#000" stroke-width="1.4"/>
<line x1="320.2" y1="36.97" x2="316.6" y2="36.97" stroke="#000" stroke-width="1.4"/>
<line x1="66.2" y1="27.21" x2="69.8" y2="27.21" stroke="#000" stroke-width="1.4"/>
<line x1="320.2" y1="27.21" x2="316.6" y2="27.21" stroke="#000" stroke-width="1.4"/>
<line x1="66.2" y1="17.45" x2="69.8" y2="17.45" stroke="#000" stroke-width="1.4"/>
<line x1="320.2" y1="17.45" x2="316.6" y2="17.45" stroke="#000" stroke-width="1.4"/>
<line x1="66.2" y1="241.82" x2="72.2" y2="241.82" stroke="#000" stroke-width="1.4"/>
<line x1="320.2" y1="241.82" x2="314.2" y2="241.82" stroke="#000" stroke-width="1.4"/>
<line x1="66.2" y1="202.8" x2="72.2" y2="202.8" stroke="#000" stroke-width="1.4"/>
<line x1="320.2" y1="202.8" x2="314.2" y2="202.8" stroke="#000" stroke-width="1.4"/>
<line x1="66.2" y1="163.78" x2="72.2" y2="163.78" stroke="#000" stroke-width="1.4"/>
<line x1="320.2" y1="163.78" x2="314.2" y2="163.78" stroke="#000" stroke-width="1.4"/>
<line x1="66.2" y1="124.76" x2="72.2" y2="124.76" stroke="#000" stroke-width="1.4"/>
<line x1="320.2" y1="124.76" x2="314.2" y2="124.76" stroke="#000" stroke-width="1.4"/>
<line x1="66.2" y1="85.74" x2="72.2" y2="85.74" stroke="#000" stroke-width="1.4"/>
<line x1="320.2" y1="85.74" x2="314.2" y2="85.74" stroke="#000" stroke-width="1.4"/>
<line x1="66.2" y1="46.72" x2="72.2" y2="46.72" stroke="#000" stroke-width="1.4"/>
<line x1="320.2" y1="46.72" x2="314.2" y2="46.72" stroke="#000" stroke-width="1.4"/>
<line x1="66.2" y1="7.7" x2="72.2" y2="7.7" stroke="#000" stroke-width="1.4"/>
<line x1="320.2" y1="7.7" x2="314.2" y2="7.7" stroke="#000" stroke-width="1.4"/>
<rect x="66.2" y="7.8" width="254" height="266.8" fill="none" stroke="#000" stroke-width="2"/>
<text x="66.2" y="289.7" font-family="Liberation Sans" font-size="11.8" font-weight="bold" text-anchor="middle" fill="#000">550</text>
<text x="108.53" y="289.7" font-family="Liberation Sans" font-size="11.8" font-weight="bold" text-anchor="middle" fill="#000">600</text>
<text x="150.87" y="289.7" font-family="Liberation Sans" font-size="11.8" font-weight="bold" text-anchor="middle" fill="#000">650</text>
<text x="193.2" y="289.7" font-family="Liberation Sans" font-size="11.8" font-weight="bold" text-anchor="middle" fill="#000">700</text>
<text x="235.53" y="289.7" font-family="Liberation Sans" font-size="11.8" font-weight="bold" text-anchor="middle" fill="#000">750</text>
<text x="277.87" y="289.7" font-family="Liberation Sans" font-size="11.8" font-weight="bold" text-anchor="middle" fill="#000">800</text>
<text x="320.2" y="289.7" font-family="Liberation Sans" font-size="11.8" font-weight="bold" text-anchor="middle" fill="#000">850</text>
<text x="60.2" y="245.62" font-family="Liberation Sans" font-size="11.8" font-weight="bold" text-anchor="end" fill="#000">1000</text>
<text x="60.2" y="206.6" font-family="Liberation Sans" font-size="11.8" font-weight="bold" text-anchor="end" fill="#000">1500</text>
<text x="60.2" y="167.58" font-family="Liberation Sans" font-size="11.8" font-weight="bold" text-anchor="end" fill="#000">2000</text>
<text x="60.2" y="128.56" font-family="Liberation Sans" font-size="11.8" font-weight="bold" text-anchor="end" fill="#000">2500</text>
<text x="60.2" y="89.54" font-family="Liberation Sans" font-size="11.8" font-weight="bold" text-anchor="end" fill="#000">3000</text>
<text x="60.2" y="50.52" font-family="Liberation Sans" font-size="11.8" font-weight="bold" text-anchor="end" fill="#000">3500</text>
<text x="60.2" y="11.5" font-family="Liberation Sans" font-size="11.8" font-weight="bold" text-anchor="end" fill="#000">4000</text>
<text x="193.2" y="313.2" font-family="Liberation Sans" font-size="14.3" font-weight="bold" text-anchor="middle" fill="#000" textLength="115.8" lengthAdjust="spacingAndGlyphs">Wavelength (nm)</text>
<text x="24.2" y="194.4" font-family="Liberation Sans" font-size="14.4" font-weight="bold" text-anchor="start" fill="#000" textLength="121" lengthAdjust="spacingAndGlyphs" transform="rotate(-90 24.2 194.4)">PL intensity (a.u.)</text>
<text x="0.3" y="16.5" font-family="Liberation Serif" font-size="22.8" font-weight="bold" text-anchor="start" fill="#000" textLength="28" lengthAdjust="spacingAndGlyphs">(a)</text>
<text x="76" y="28.4" font-family="Liberation Sans" font-size="13.8" font-weight="bold" text-anchor="start" fill="#000">P=25 <tspan font-family="Liberation Serif" font-size="14.5">μW</tspan></text>
<line x1="188" y1="20.7" x2="216" y2="20.7" stroke="#22617f" stroke-width="2"/>
<line x1="188" y1="37.7" x2="216" y2="37.7" stroke="#c9c59f" stroke-width="2"/>
<text x="219.2" y="24.5" font-family="Liberation Serif" font-size="11.8" font-weight="bold"><tspan>1L MoS</tspan><tspan font-size="7.6" dy="2.8">2</tspan><tspan dy="-2.8"> on SiO</tspan><tspan font-size="7.6" dy="2.8">2</tspan></text>
<text x="219.2" y="41.9" font-family="Liberation Serif" font-size="11.8" font-weight="bold"><tspan>1L MoS</tspan><tspan font-size="7.6" dy="2.8">2</tspan><tspan dy="-2.8"> on Cavity</tspan></text>
<clipPath id="cb"><rect x="422.5" y="8.9" width="251.5" height="264.70000000000005"/></clipPath>
<rect x="428.9" y="31.7" width="81.5" height="57.4" fill="#84867a"/>
<polygon points="428.9,70 510.4,60 510.4,89.1 428.9,89.1" fill="#8c8d82"/>
<polygon points="428.9,49.7 452.6,54.3 479.5,61.5 474.9,67.4 468.4,69.4 428.9,76.6" fill="#7a6256"/>
<polygon points="452.6,54.3 479.5,61.5 474.9,67.4 460,66" fill="#6e584e"/>
<polygon points="463.1,56.2 510.4,33.3 510.4,50.3 486.8,68.7 471,74 468.4,69.4 474.9,67.4 479.5,61.5" fill="#9d9b80"/>
<polygon points="470.5,73.5 486.8,69.5 510.4,51 510.4,55.2 488.5,75.8 484.5,77.2" fill="#4f5d52"/>
<polygon points="484.5,77.2 510.4,55.2 510.4,80 503.8,81.9" fill="#9aa89f"/>
<rect x="490" y="86.2" width="20.3" height="2.6" fill="#d2261e"/>
<text x="444.7" y="44.8" font-family="Liberation Sans" font-size="12.8" font-weight="bold" text-anchor="start" fill="#000" textLength="44" lengthAdjust="spacingAndGlyphs">Cavity</text>
<rect x="576.1" y="129.2" width="90.5" height="96.80000000000001" fill="#fff" stroke="#222" stroke-width="1"/>
<line x1="576.1" y1="226" x2="576.1" y2="224" stroke="#333" stroke-width="0.8"/>
<line x1="576.1" y1="129.2" x2="576.1" y2="131.2" stroke="#333" stroke-width="0.8"/>
<text x="576.1" y="233.4" font-family="Liberation Sans" font-size="6.4" font-weight="normal" text-anchor="middle" fill="#222" textLength="10.5" lengthAdjust="spacingAndGlyphs">550</text>
<line x1="591.18" y1="226" x2="591.18" y2="224" stroke="#333" stroke-width="0.8"/>
<line x1="591.18" y1="129.2" x2="591.18" y2="131.2" stroke="#333" stroke-width="0.8"/>
<text x="591.18" y="233.4" font-family="Liberation Sans" font-size="6.4" font-weight="normal" text-anchor="middle" fill="#222" textLength="10.5" lengthAdjust="spacingAndGlyphs">600</text>
<line x1="606.27" y1="226" x2="606.27" y2="224" stroke="#333" stroke-width="0.8"/>
<line x1="606.27" y1="129.2" x2="606.27" y2="131.2" stroke="#333" stroke-width="0.8"/>
<text x="606.27" y="233.4" font-family="Liberation Sans" font-size="6.4" font-weight="normal" text-anchor="middle" fill="#222" textLength="10.5" lengthAdjust="spacingAndGlyphs">650</text>
<line x1="621.35" y1="226" x2="621.35" y2="224" stroke="#333" stroke-width="0.8"/>
<line x1="621.35" y1="129.2" x2="621.35" y2="131.2" stroke="#333" stroke-width="0.8"/>
<text x="621.35" y="233.4" font-family="Liberation Sans" font-size="6.4" font-weight="normal" text-anchor="middle" fill="#222" textLength="10.5" lengthAdjust="spacingAndGlyphs">700</text>
<line x1="636.43" y1="226" x2="636.43" y2="224" stroke="#333" stroke-width="0.8"/>
<line x1="636.43" y1="129.2" x2="636.43" y2="131.2" stroke="#333" stroke-width="0.8"/>
<text x="636.43" y="233.4" font-family="Liberation Sans" font-size="6.4" font-weight="normal" text-anchor="middle" fill="#222" textLength="10.5" lengthAdjust="spacingAndGlyphs">750</text>
<line x1="651.52" y1="226" x2="651.52" y2="224" stroke="#333" stroke-width="0.8"/>
<line x1="651.52" y1="129.2" x2="651.52" y2="131.2" stroke="#333" stroke-width="0.8"/>
<text x="651.52" y="233.4" font-family="Liberation Sans" font-size="6.4" font-weight="normal" text-anchor="middle" fill="#222" textLength="10.5" lengthAdjust="spacingAndGlyphs">800</text>
<line x1="666.6" y1="226" x2="666.6" y2="224" stroke="#333" stroke-width="0.8"/>
<line x1="666.6" y1="129.2" x2="666.6" y2="131.2" stroke="#333" stroke-width="0.8"/>
<text x="666.6" y="233.4" font-family="Liberation Sans" font-size="6.4" font-weight="normal" text-anchor="middle" fill="#222" textLength="10.5" lengthAdjust="spacingAndGlyphs">850</text>
<line x1="576.1" y1="149.2" x2="578.1" y2="149.2" stroke="#333" stroke-width="0.8"/>
<line x1="666.6" y1="149.2" x2="664.6" y2="149.2" stroke="#333" stroke-width="0.8"/>
<line x1="576.1" y1="169.2" x2="578.1" y2="169.2" stroke="#333" stroke-width="0.8"/>
<line x1="666.6" y1="169.2" x2="664.6" y2="169.2" stroke="#333" stroke-width="0.8"/>
<line x1="576.1" y1="189.2" x2="578.1" y2="189.2" stroke="#333" stroke-width="0.8"/>
<line x1="666.6" y1="189.2" x2="664.6" y2="189.2" stroke="#333" stroke-width="0.8"/>
<line x1="576.1" y1="209.2" x2="578.1" y2="209.2" stroke="#333" stroke-width="0.8"/>
<line x1="666.6" y1="209.2" x2="664.6" y2="209.2" stroke="#333" stroke-width="0.8"/>
<path d="M576.4 197.12 L576.6 195.58 L576.8 198.26 L577 194.39 L577.2 194.17 L577.4 195.31 L577.6 191.59 L577.8 191.32 L578 191.64 L578.2 190.36 L578.4 188.65 L578.6 189.3 L578.8 188.52 L579 189.19 L579.2 185.71 L579.4 186.42 L579.6 188.3 L579.8 188.72 L580 183.79 L580.2 186.14 L580.4 183.49 L580.6 183.17 L580.8 182.66 L581 182.78 L581.2 184.21 L581.4 183.36 L581.6 182.01 L581.8 180.97 L582 181 L582.2 180.39 L582.4 181.16 L582.6 178.73 L582.8 179.14 L583 178.55 L583.2 178.16 L583.4 178.12 L583.6 177.6 L583.8 178.75 L584 176.29 L584.2 178.17 L584.4 175.06 L584.6 174.36 L584.8 174.74 L585 174.65 L585.2 174.07 L585.4 175.1 L585.6 174.42 L585.8 173.03 L586 171.35 L586.2 171.22 L586.4 172.97 L586.6 170.75 L586.8 168 L587 168.44 L587.2 168.12 L587.4 170.23 L587.6 167.88 L587.8 170.97 L588 168.11 L588.2 166.87 L588.4 165.6 L588.6 167.32 L588.8 165.08 L589 163.81 L589.2 165.57 L589.4 164.39 L589.6 165.88 L589.8 163.64 L590 159.07 L590.2 164.43 L590.4 160.06 L590.6 165.12 L590.8 165.34 L591 161.65 L591.2 160.31 L591.4 159.76 L591.6 163.11 L591.8 161.26 L592 160.48 L592.2 160.87 L592.4 164.35 L592.6 161.48 L592.8 161.95 L593 161.84 L593.2 162.06 L593.4 161.96 L593.6 159.01 L593.8 159.61 L594 158.58 L594.2 158.48 L594.4 161.24 L594.6 158.49 L594.8 159.03 L595 157.95 L595.2 158.01 L595.4 160.14 L595.6 158.15 L595.8 158.04 L596 159.56 L596.2 159.56 L596.4 160.01 L596.6 159.03 L596.8 155.99 L597 159.77 L597.2 159.58 L597.4 160.43 L597.6 157.52 L597.8 162.87 L598 157.01 L598.2 160.18 L598.4 159.18 L598.6 158.42 L598.8 160.59 L599 158.98 L599.2 155.86 L599.4 157.84 L599.6 160.56 L599.8 163.53 L600 157.87 L600.2 160.37 L600.4 162.87 L600.6 161.77 L600.8 160.47 L601 159.08 L601.2 158.76 L601.4 160.63 L601.6 161.47 L601.8 158.82 L602 159.95 L602.2 163.31 L602.4 162.48 L602.6 162.22 L602.8 163.03 L603 162.68 L603.2 165.62 L603.4 166.98 L603.6 167.92 L603.8 166.11 L604 166.44 L604.2 167.81 L604.4 168.5 L604.6 168.37 L604.8 168.27 L605 165.77 L605.2 164.61 L605.4 168.63 L605.6 167.47 L605.8 167.82 L606 166.88 L606.2 166.57 L606.4 170.91 L606.6 169.82 L606.8 167.87 L607 170.35 L607.2 170.54 L607.4 171.19 L607.6 174.04 L607.8 171.04 L608 169.55 L608.2 171.83 L608.4 171.19 L608.6 173.29 L608.8 173.16 L609 173.73 L609.2 172.79 L609.4 174.59 L609.6 173.65 L609.8 175.51 L610 174.74 L610.2 173.97 L610.4 176.68 L610.6 175.37 L610.8 178.82 L611 177.81 L611.2 178.25 L611.4 178.14 L611.6 178.32 L611.8 175.49 L612 180.91 L612.2 178.49 L612.4 181.33 L612.6 179.53 L612.8 180.61 L613 180.89 L613.2 180.18 L613.4 181.75 L613.6 183.02 L613.8 182.2 L614 181.45 L614.2 182.77 L614.4 184.26 L614.6 185.84 L614.8 185.82 L615 185.47 L615.2 184.17 L615.4 187.06 L615.6 186.29 L615.8 186.34 L616 188.22 L616.2 188.23 L616.4 188.46 L616.6 186.72 L616.8 187.81 L617 186.81 L617.2 189.62 L617.4 189.8 L617.6 191.33 L617.8 190.81 L618 190.47 L618.2 193.97 L618.4 190.44 L618.6 190.45 L618.8 191.75 L619 193.54 L619.2 192.87 L619.4 193.16 L619.6 192.74 L619.8 196.29 L620 194.17 L620.2 194.04 L620.4 195.61 L620.6 195.21 L620.8 196.31 L621 198.58 L621.2 196.9 L621.4 197.78 L621.6 197.83 L621.8 198.45 L622 200.03 L622.2 200.1 L622.4 199.51 L622.6 199.25 L622.8 200.56 L623 202.04 L623.2 201.48 L623.4 201.74 L623.6 200.27 L623.8 203.73 L624 201.38 L624.2 201.97 L624.4 203.31 L624.6 204.1 L624.8 204.45 L625 203.92 L625.2 204.73 L625.4 204.74 L625.6 203.81 L625.8 205.75 L626 205.61 L626.2 207.08 L626.4 206.8 L626.6 208.24 L626.8 208.25 L627 208.75 L627.2 209.34 L627.4 209.1 L627.6 208.51 L627.8 210.29 L628 208.29 L628.2 209.43 L628.4 210.57 L628.6 209.69 L628.8 210.91 L629 209.68 L629.2 210.17 L629.4 211.44 L629.6 211.82 L629.8 212.5 L630 211.51 L630.2 212.07 L630.4 212.58 L630.6 212.63 L630.8 211.19 L631 212.07 L631.2 214.12 L631.4 211.85 L631.6 213.75 L631.8 212.98 L632 214.46 L632.2 213.04 L632.4 213.96 L632.6 212.3 L632.8 214.24 L633 215.4 L633.2 213.3 L633.4 215.83 L633.6 214.34 L633.8 215.08 L634 212.89 L634.2 216.37 L634.4 214.85 L634.6 215.29 L634.8 214.82 L635 215.21 L635.2 217.16 L635.4 215.91 L635.6 217.22 L635.8 216.47 L636 217.03 L636.2 216.46 L636.4 217.35 L636.6 219.24 L636.8 217.78 L637 217.78 L637.2 217.1 L637.4 218.41 L637.6 218.79 L637.8 216.45 L638 216.81 L638.2 219.67 L638.4 218.44 L638.6 218.3 L638.8 218.73 L639 219.23 L639.2 219.08 L639.4 218.36 L639.6 220.21 L639.8 218.69 L640 218.08 L640.2 218.39 L640.4 218.79 L640.6 218.66 L640.8 218.87 L641 219.31 L641.2 216.63 L641.4 218.59 L641.6 219.95 L641.8 219.7 L642 218.82 L642.2 218.91 L642.4 220.28 L642.6 219.28 L642.8 219.11 L643 220.93 L643.2 219.31 L643.4 220.14 L643.6 219.63 L643.8 219.74 L644 219.04 L644.2 219.16 L644.4 220.73 L644.6 219 L644.8 220.08 L645 219.03 L645.2 219.76 L645.4 219.94 L645.6 218.81 L645.8 220.85 L646 219.92 L646.2 220.97 L646.4 219.44 L646.6 220.8 L646.8 221.86 L647 220.36 L647.2 219.76 L647.4 220.6 L647.6 220.39 L647.8 220.16 L648 220.26 L648.2 219.96 L648.4 220.7 L648.6 220.15 L648.8 219.84 L649 221.06 L649.2 220.39 L649.4 222.41 L649.6 220.38 L649.8 220.07 L650 220.22 L650.2 220.89 L650.4 220.16 L650.6 219.78 L650.8 221.84 L651 219.83 L651.2 221.79 L651.4 220.84 L651.6 220.01 L651.8 221.94 L652 220.65 L652.2 220.1 L652.4 220.87 L652.6 221.73 L652.8 221.33 L653 221.44 L653.2 222.1 L653.4 221.04 L653.6 221.16 L653.8 220.75 L654 219.91 L654.2 220.83 L654.4 222.07 L654.6 219.75 L654.8 221.89 L655 221.15 L655.2 220.35 L655.4 221.03 L655.6 222.23 L655.8 220.61 L656 221.56 L656.2 221.8 L656.4 220.41 L656.6 221.48 L656.8 221.42 L657 220.73 L657.2 221.53 L657.4 220.82 L657.6 220.68 L657.8 220.23 L658 221.36 L658.2 220.8 L658.4 220.72 L658.6 220.32 L658.8 220.18 L659 220.58 L659.2 221.63 L659.4 220.58 L659.6 222.13 L659.8 221.42 L660 221.25 L660.2 220.32 L660.4 222.49 L660.6 220.16 L660.8 221.52 L661 222.31 L661.2 221.01 L661.4 220.68 L661.6 221.14 L661.8 221.78 L662 222.08 L662.2 221.56 L662.4 220.41 L662.6 220.68 L662.8 221.28 L663 220.26 L663.2 220.97 L663.4 222.67 L663.6 220.4 L663.8 221.92 L664 220.48 L664.2 220.88 L664.4 221.07 L664.6 220.08 L664.8 221.04 L665 222 L665.2 221.6 L665.4 221.58 L665.6 220.55 L665.8 221 L666 221.24 L666.2 221.57" fill="none" stroke="#f2393d" stroke-width="0.9" stroke-linejoin="round" stroke-linecap="round"/>
<line x1="490" y1="247.1" x2="567.5" y2="206.1" stroke="#000" stroke-width="1.1"/>
<polygon points="572.8,203.3 564.6,204.3 567.6,209.4" fill="#000"/>
<path d="M422 260.86 L422.2 261.25 L422.4 260.94 L422.6 260.36 L422.8 259.57 L423 261.02 L423.2 261.04 L423.4 259.77 L423.6 261.11 L423.8 260.1 L424 261.4 L424.2 260.4 L424.4 259.9 L424.6 260.52 L424.8 259.94 L425 259.86 L425.2 259.76 L425.4 259.57 L425.6 259.84 L425.8 259.84 L426 259.55 L426.2 260.12 L426.4 258.62 L426.6 258.93 L426.8 259.43 L427 258.45 L427.2 259.6 L427.4 259.13 L427.6 258.65 L427.8 258.89 L428 258.3 L428.2 257.82 L428.4 258.79 L428.6 258.75 L428.8 258.29 L429 258.15 L429.2 257.12 L429.4 257.63 L429.6 257.71 L429.8 257.95 L430 258.39 L430.2 257.46 L430.4 257.26 L430.6 257.97 L430.8 257.4 L431 256.77 L431.2 257.86 L431.4 256.85 L431.6 256.91 L431.8 256.62 L432 257.18 L432.2 257.43 L432.4 256.71 L432.6 256.98 L432.8 256.52 L433 257.72 L433.2 257.28 L433.4 256.27 L433.6 256.71 L433.8 256.83 L434 256.53 L434.2 255.93 L434.4 256.14 L434.6 256.48 L434.8 256.29 L435 255.64 L435.2 256.17 L435.4 255.46 L435.6 254.9 L435.8 255.88 L436 256.17 L436.2 255.88 L436.4 256.29 L436.6 256.36 L436.8 255.68 L437 255.18 L437.2 255.39 L437.4 254.71 L437.6 255.29 L437.8 255.21 L438 255.28 L438.2 255.65 L438.4 254.15 L438.6 255.39 L438.8 254.76 L439 255.31 L439.2 254.98 L439.4 254.39 L439.6 255.2 L439.8 254.43 L440 254.95 L440.2 254.4 L440.4 254.4 L440.6 254.62 L440.8 255.38 L441 254.79 L441.2 254.43 L441.4 255.14 L441.6 254.36 L441.8 254.17 L442 253.82 L442.2 254.29 L442.4 254.22 L442.6 253.82 L442.8 253.22 L443 253.98 L443.2 254.05 L443.4 253.78 L443.6 253.49 L443.8 253.39 L444 253.62 L444.2 254.41 L444.4 253.82 L444.6 252.98 L444.8 253.97 L445 253.44 L445.2 254.65 L445.4 253.42 L445.6 253.49 L445.8 253.57 L446 253.57 L446.2 253.43 L446.4 253.39 L446.6 253.23 L446.8 253.05 L447 253.09 L447.2 252.69 L447.4 252.95 L447.6 252.85 L447.8 252.92 L448 252.88 L448.2 252.98 L448.4 253.21 L448.6 252.83 L448.8 252.98 L449 253.02 L449.2 252.73 L449.4 252.77 L449.6 252.96 L449.8 252 L450 253.03 L450.2 252.49 L450.4 251.01 L450.6 252.88 L450.8 252.06 L451 252.97 L451.2 252.1 L451.4 252.41 L451.6 252.78 L451.8 252.09 L452 251.97 L452.2 252.34 L452.4 252.97 L452.6 252.82 L452.8 252.93 L453 252.44 L453.2 252.46 L453.4 252.7 L453.6 252.44 L453.8 251.8 L454 252.49 L454.2 251.89 L454.4 251.71 L454.6 252.12 L454.8 251.99 L455 252.4 L455.2 252.1 L455.4 251.76 L455.6 251.9 L455.8 251.65 L456 251.74 L456.2 252.43 L456.4 252.02 L456.6 251.64 L456.8 251.64 L457 251.5 L457.2 251.66 L457.4 251.05 L457.6 251.97 L457.8 251.55 L458 251.97 L458.2 252.07 L458.4 251.75 L458.6 251.13 L458.8 251.02 L459 251.92 L459.2 251.91 L459.4 250.89 L459.6 251.07 L459.8 251.96 L460 251.48 L460.2 252.35 L460.4 251.65 L460.6 251.81 L460.8 251.34 L461 251.16 L461.2 250.69 L461.4 250.1 L461.6 251.81 L461.8 251.64 L462 251.04 L462.2 251.72 L462.4 250.57 L462.6 251.93 L462.8 251.41 L463 251.94 L463.2 250.41 L463.4 251.79 L463.6 251.55 L463.8 251.27 L464 250.71 L464.2 251.25 L464.4 251.19 L464.6 250.78 L464.8 250.42 L465 250.54 L465.2 250.77 L465.4 251.5 L465.6 251.51 L465.8 251.72 L466 251.17 L466.2 250.28 L466.4 250.58 L466.6 250.38 L466.8 250.77 L467 251.49 L467.2 250.78 L467.4 250.65 L467.6 251.07 L467.8 251.15 L468 251.24 L468.2 250.37 L468.4 250.38 L468.6 250.56 L468.8 251.09 L469 250.83 L469.2 250.29 L469.4 251.57 L469.6 250.46 L469.8 250.64 L470 250.64 L470.2 250.3 L470.4 250.64 L470.6 250.67 L470.8 250.75 L471 250.77 L471.2 250.37 L471.4 250.19 L471.6 251.08 L471.8 250.48 L472 251.07 L472.2 250.77 L472.4 251.76 L472.6 250.5 L472.8 249.79 L473 250.38 L473.2 251.06 L473.4 251.36 L473.6 251.29 L473.8 250.79 L474 251.21 L474.2 250.04 L474.4 250.22 L474.6 250.05 L474.8 250.74 L475 251.05 L475.2 250.48 L475.4 250.64 L475.6 250.24 L475.8 250.28 L476 250.5 L476.2 251.13 L476.4 250.65 L476.6 250.66 L476.8 250.91 L477 250.71 L477.2 250.09 L477.4 251.2 L477.6 250.35 L477.8 250.42 L478 250.37 L478.2 250.68 L478.4 250.31 L478.6 250.57 L478.8 251.18 L479 250.05 L479.2 249.57 L479.4 250.98 L479.6 250.53 L479.8 250.71 L480 250.73 L480.2 250.25 L480.4 250.49 L480.6 249.64 L480.8 250.38 L481 250.46 L481.2 249.9 L481.4 250.12 L481.6 250.38 L481.8 250.58 L482 250.37 L482.2 251.08 L482.4 250.79 L482.6 250.83 L482.8 249.68 L483 250.3 L483.2 250.59 L483.4 250.33 L483.6 250.62 L483.8 250.27 L484 250.16 L484.2 250.53 L484.4 250.6 L484.6 250.44 L484.8 250.57 L485 251.04 L485.2 250.85 L485.4 251 L485.6 250.92 L485.8 250.72 L486 250.54 L486.2 251.53 L486.4 250.79 L486.6 251.1 L486.8 250.49 L487 250.15 L487.2 250.26 L487.4 250.69 L487.6 250.32 L487.8 251.23 L488 250.71 L488.2 250.7 L488.4 251.66 L488.6 250.8 L488.8 250.78 L489 252.21 L489.2 251.22 L489.4 251.1 L489.6 250.88 L489.8 251.67 L490 251.66 L490.2 250.07 L490.4 251.17 L490.6 251.33 L490.8 251.49 L491 250.68 L491.2 251.27 L491.4 252.08 L491.6 251.85 L491.8 250.92 L492 251.54 L492.2 251.09 L492.4 251.82 L492.6 250.17 L492.8 251.91 L493 251.66 L493.2 252.04 L493.4 251.07 L493.6 251.51 L493.8 251.17 L494 251.91 L494.2 251.82 L494.4 252.62 L494.6 252.12 L494.8 250.81 L495 251.99 L495.2 251.93 L495.4 252.37 L495.6 252.24 L495.8 251.62 L496 251.86 L496.2 252.53 L496.4 251.72 L496.6 252.16 L496.8 251.66 L497 252.66 L497.2 252.7 L497.4 252.25 L497.6 251.82 L497.8 252.06 L498 252.22 L498.2 252.19 L498.4 252.49 L498.6 251.74 L498.8 251.86 L499 252.04 L499.2 252.88 L499.4 252 L499.6 252.63 L499.8 252.98 L500 251.97 L500.2 251.79 L500.4 251.85 L500.6 252.94 L500.8 252.92 L501 252.69 L501.2 252.36 L501.4 252.88 L501.6 252.2 L501.8 253.13 L502 252.98 L502.2 253 L502.4 253.67 L502.6 252.6 L502.8 252.61 L503 253.34 L503.2 253.69 L503.4 252.8 L503.6 252.8 L503.8 253.23 L504 253.61 L504.2 253.04 L504.4 253.86 L504.6 254.42 L504.8 253.45 L505 253.3 L505.2 254.56 L505.4 253.02 L505.6 254.17 L505.8 254.16 L506 253.06 L506.2 254.08 L506.4 254.47 L506.6 253.68 L506.8 252.86 L507 253.59 L507.2 254.84 L507.4 253.56 L507.6 254.52 L507.8 253.53 L508 253.93 L508.2 253.85 L508.4 254.18 L508.6 254.5 L508.8 254.35 L509 253.98 L509.2 254.38 L509.4 254.39 L509.6 254.33 L509.8 254.3 L510 254.3 L510.2 254.77 L510.4 255.66 L510.6 254.77 L510.8 254.9 L511 254.45 L511.2 254.63 L511.4 255.58 L511.6 254.83 L511.8 255.23 L512 255.47 L512.2 254.87 L512.4 255.68 L512.6 255.56 L512.8 255.55 L513 254.95 L513.2 255.44 L513.4 254.57 L513.6 255.53 L513.8 255.59 L514 255.39 L514.2 255.79 L514.4 255.05 L514.6 255.42 L514.8 255.12 L515 255.87 L515.2 255.67 L515.4 256.38 L515.6 255.63 L515.8 256.25 L516 256.07 L516.2 256.25 L516.4 256.51 L516.6 256.91 L516.8 256.87 L517 255.72 L517.2 256.6 L517.4 255.96 L517.6 256.61 L517.8 256.14 L518 257.01 L518.2 256.98 L518.4 256.7 L518.6 256.28 L518.8 256.06 L519 256.2 L519.2 256.75 L519.4 257.19 L519.6 257.39 L519.8 257.48 L520 256.66 L520.2 257.09 L520.4 257.55 L520.6 257.46 L520.8 257.21 L521 256.74 L521.2 258.16 L521.4 257.37 L521.6 256.73 L521.8 257.66 L522 257.66 L522.2 257.52 L522.4 257.6 L522.6 257.15 L522.8 258.33 L523 257.74 L523.2 256.98 L523.4 257.76 L523.6 256.74 L523.8 258.05 L524 257.67 L524.2 258.21 L524.4 258.46 L524.6 258.15 L524.8 259.29 L525 258.35 L525.2 258.6 L525.4 258.4 L525.6 258.31 L525.8 258.13 L526 259.02 L526.2 258.89 L526.4 259.29 L526.6 258.39 L526.8 258.36 L527 258.64 L527.2 258.81 L527.4 258.77 L527.6 258.03 L527.8 258.85 L528 259.05 L528.2 259.19 L528.4 258.89 L528.6 259.06 L528.8 259.62 L529 259.71 L529.2 259.24 L529.4 259.24 L529.6 259.29 L529.8 259.71 L530 259.44 L530.2 259.48 L530.4 260.08 L530.6 259.23 L530.8 259.08 L531 259.52 L531.2 260.41 L531.4 259.89 L531.6 259 L531.8 260.12 L532 259.86 L532.2 259.93 L532.4 259.16 L532.6 259.58 L532.8 259.68 L533 260.32 L533.2 259.61 L533.4 259.64 L533.6 259.41 L533.8 260.45 L534 259.97 L534.2 260.53 L534.4 260.18 L534.6 260.53 L534.8 259.94 L535 260.61 L535.2 260.15 L535.4 260.1 L535.6 260.9 L535.8 259.96 L536 260.6 L536.2 260.74 L536.4 260.73 L536.6 260.69 L536.8 261.15 L537 260.45 L537.2 261.44 L537.4 261.46 L537.6 260.98 L537.8 260.86 L538 260.41 L538.2 260.56 L538.4 260.69 L538.6 261.12 L538.8 261.78 L539 260.41 L539.2 261.56 L539.4 261.26 L539.6 261.38 L539.8 261.34 L540 261 L540.2 261.17 L540.4 261.41 L540.6 261.92 L540.8 261.32 L541 262.09 L541.2 262.02 L541.4 261.45 L541.6 261.75 L541.8 262.18 L542 261.13 L542.2 261.33 L542.4 262.11 L542.6 262.11 L542.8 261.48 L543 261.4 L543.2 262.09 L543.4 262.46 L543.6 261.71 L543.8 261.55 L544 262.5 L544.2 262.4 L544.4 261.52 L544.6 261.69 L544.8 262 L545 262.6 L545.2 262.52 L545.4 262.22 L545.6 261.42 L545.8 263.38 L546 261.97 L546.2 263.09 L546.4 263.08 L546.6 262.67 L546.8 262.63 L547 262.12 L547.2 261.99 L547.4 262.12 L547.6 261.93 L547.8 262.52 L548 262.01 L548.2 263.27 L548.4 263.79 L548.6 261.63 L548.8 262.11 L549 263.04 L549.2 262.9 L549.4 262.67 L549.6 262.77 L549.8 263.05 L550 262.67 L550.2 263.21 L550.4 263.52 L550.6 263.56 L550.8 263.83 L551 263.16 L551.2 263.28 L551.4 262.32 L551.6 263.01 L551.8 262.7 L552 263.69 L552.2 264.03 L552.4 263.03 L552.6 263.04 L552.8 262.99 L553 263.22 L553.2 262.9 L553.4 263.71 L553.6 263.2 L553.8 264.07 L554 263.74 L554.2 263.23 L554.4 263.14 L554.6 263.83 L554.8 263.27 L555 262.71 L555.2 263.37 L555.4 263.13 L555.6 264.46 L555.8 263.53 L556 263.32 L556.2 262.57 L556.4 264.15 L556.6 263.87 L556.8 263.64 L557 263.57 L557.2 263.77 L557.4 264.05 L557.6 263.81 L557.8 263.53 L558 263.87 L558.2 262.8 L558.4 263.55 L558.6 263.66 L558.8 263.53 L559 263.78 L559.2 264.22 L559.4 263.86 L559.6 263.3 L559.8 264.1 L560 264.4 L560.2 264.43 L560.4 264.32 L560.6 264.53 L560.8 264.03 L561 262.91 L561.2 263.91 L561.4 263.59 L561.6 264.23 L561.8 264.48 L562 263.91 L562.2 264.65 L562.4 263.67 L562.6 264.55 L562.8 263.86 L563 263.99 L563.2 263.81 L563.4 264.48 L563.6 265.08 L563.8 264.15 L564 264.27 L564.2 264.68 L564.4 264.1 L564.6 264.51 L564.8 264.39 L565 264.12 L565.2 263.98 L565.4 265.04 L565.6 264.55 L565.8 264.26 L566 265.12 L566.2 264.68 L566.4 264.17 L566.6 264.19 L566.8 264.67 L567 264.46 L567.2 264.92 L567.4 264.23 L567.6 264.17 L567.8 264.73 L568 265.16 L568.2 264.66 L568.4 266.01 L568.6 265.9 L568.8 264.9 L569 264.58 L569.2 265.09 L569.4 264.8 L569.6 265.01 L569.8 265.25 L570 265.1 L570.2 264.27 L570.4 265.96 L570.6 264.79 L570.8 265.11 L571 265.49 L571.2 265.26 L571.4 265.3 L571.6 265.48 L571.8 264.77 L572 265.46 L572.2 265.72 L572.4 265.24 L572.6 265.9 L572.8 266.07 L573 265.3 L573.2 265.84 L573.4 265.54 L573.6 265.97 L573.8 265.35 L574 264.83 L574.2 265.93 L574.4 265.84 L574.6 265.73 L574.8 265.16 L575 265.32 L575.2 265.75 L575.4 265.63 L575.6 265.26 L575.8 265.58 L576 265.9 L576.2 265.34 L576.4 265.62 L576.6 265.38 L576.8 266.11 L577 265.69 L577.2 265.73 L577.4 266.19 L577.6 265.97 L577.8 265.59 L578 266.3 L578.2 265.21 L578.4 265.3 L578.6 266.02 L578.8 265.8 L579 266.41 L579.2 266.02 L579.4 266 L579.6 266.4 L579.8 265.73 L580 265.36 L580.2 266.31 L580.4 265.7 L580.6 266.22 L580.8 265.68 L581 265.99 L581.2 265.89 L581.4 265.74 L581.6 265.84 L581.8 266.33 L582 266.1 L582.2 266.41 L582.4 265.79 L582.6 265.85 L582.8 265.66 L583 265.79 L583.2 266.17 L583.4 266.17 L583.6 266.43 L583.8 266.7 L584 266.51 L584.2 266.19 L584.4 265.92 L584.6 266.98 L584.8 266.57 L585 265.12 L585.2 266.44 L585.4 266.79 L585.6 266.19 L585.8 266.58 L586 266.36 L586.2 266.58 L586.4 266.4 L586.6 266.67 L586.8 266.48 L587 266.71 L587.2 266.28 L587.4 266.72 L587.6 266.33 L587.8 265.73 L588 266.6 L588.2 266.61 L588.4 266.17 L588.6 267.15 L588.8 266.4 L589 266.9 L589.2 266.46 L589.4 266.7 L589.6 266.82 L589.8 267.08 L590 266.38 L590.2 266.14 L590.4 267.39 L590.6 266.72 L590.8 267.7 L591 266.68 L591.2 266.09 L591.4 266.9 L591.6 267.08 L591.8 266.92 L592 266.61 L592.2 266.98 L592.4 266.26 L592.6 266.21 L592.8 266.78 L593 267.15 L593.2 265.85 L593.4 266.98 L593.6 266.71 L593.8 266.49 L594 266.95 L594.2 266.86 L594.4 266.95 L594.6 267.22 L594.8 267.14 L595 267.42 L595.2 267.4 L595.4 266.69 L595.6 266.95 L595.8 266.08 L596 266.75 L596.2 266.34 L596.4 266.71 L596.6 266.93 L596.8 267.19 L597 266.82 L597.2 268.05 L597.4 267.07 L597.6 266.38 L597.8 267.87 L598 266.97 L598.2 266.94 L598.4 267.42 L598.6 266.84 L598.8 267.75 L599 267.96 L599.2 267.74 L599.4 267.25 L599.6 266.96 L599.8 267.5 L600 267.62 L600.2 267.43 L600.4 267.35 L600.6 267.86 L600.8 267.27 L601 266.76 L601.2 266.66 L601.4 267.43 L601.6 267.97 L601.8 267.33 L602 267.19 L602.2 267.04 L602.4 267.81 L602.6 266.69 L602.8 267.02 L603 267.99 L603.2 267.24 L603.4 267.32 L603.6 267.98 L603.8 267.93 L604 267.55 L604.2 267.97 L604.4 266.54 L604.6 266.95 L604.8 267.43 L605 266.97 L605.2 267.12 L605.4 267.03 L605.6 267.49 L605.8 267.1 L606 267.9 L606.2 267.49 L606.4 268.05 L606.6 266.81 L606.8 266.58 L607 267.45 L607.2 267.48 L607.4 267.82 L607.6 267.85 L607.8 267.28 L608 268 L608.2 267.42 L608.4 267.4 L608.6 267.97 L608.8 267.9 L609 267.63 L609.2 267.62 L609.4 268.49 L609.6 267.5 L609.8 267.61 L610 267.66 L610.2 267.33 L610.4 268.2 L610.6 268.36 L610.8 267.85 L611 266.81 L611.2 266.84 L611.4 267.67 L611.6 267.3 L611.8 267.35 L612 267.51 L612.2 267.34 L612.4 267.48 L612.6 267.61 L612.8 267.84 L613 267.76 L613.2 267.75 L613.4 266.53 L613.6 267.39 L613.8 268.26 L614 268.2 L614.2 268.47 L614.4 267.35 L614.6 267.43 L614.8 267.63 L615 268.18 L615.2 267.69 L615.4 267.86 L615.6 267.74 L615.8 267.77 L616 267.48 L616.2 268.06 L616.4 266.41 L616.6 267.71 L616.8 267.45 L617 267.84 L617.2 268.2 L617.4 267.6 L617.6 268.24 L617.8 267.78 L618 267.99 L618.2 267.76 L618.4 267.98 L618.6 268.43 L618.8 267.44 L619 267.46 L619.2 267.42 L619.4 267.21 L619.6 267.35 L619.8 268.41 L620 267.82 L620.2 268.19 L620.4 267.96 L620.6 268.74 L620.8 268.08 L621 268 L621.2 268.82 L621.4 267.4 L621.6 267.5 L621.8 267.61 L622 267.35 L622.2 267.92 L622.4 268.1 L622.6 268.58 L622.8 266.94 L623 268.42 L623.2 268.66 L623.4 267.63 L623.6 268.18 L623.8 268.74 L624 267.65 L624.2 268.08 L624.4 268.1 L624.6 267.85 L624.8 268.02 L625 267.72 L625.2 267.44 L625.4 268.35 L625.6 268.02 L625.8 268.45 L626 267.94 L626.2 267.76 L626.4 267.62 L626.6 267.59 L626.8 267.79 L627 268.23 L627.2 268.37 L627.4 268.31 L627.6 267.81 L627.8 268.23 L628 268.81 L628.2 268.06 L628.4 268.11 L628.6 268.41 L628.8 268.63 L629 267.67 L629.2 268.21 L629.4 268.49 L629.6 267.79 L629.8 268.34 L630 268.2 L630.2 268.2 L630.4 268.21 L630.6 268.3 L630.8 267.86 L631 267.64 L631.2 268.45 L631.4 268.67 L631.6 269.05 L631.8 268.07 L632 268.44 L632.2 268.18 L632.4 267.93 L632.6 268.38 L632.8 268.13 L633 268.23 L633.2 267.95 L633.4 267.78 L633.6 268.07 L633.8 268.83 L634 268.49 L634.2 268.61 L634.4 268.09 L634.6 267.71 L634.8 268.56 L635 268.09 L635.2 267.98 L635.4 267.91 L635.6 268.68 L635.8 268.85 L636 268.9 L636.2 269.21 L636.4 268.04 L636.6 268.06 L636.8 267.94 L637 269.12 L637.2 267.85 L637.4 268.43 L637.6 268.73 L637.8 267.48 L638 268.78 L638.2 268.87 L638.4 268.44 L638.6 267.96 L638.8 268.82 L639 268.6 L639.2 268.92 L639.4 268.18 L639.6 267.56 L639.8 268.4 L640 268.71 L640.2 267.73 L640.4 268.02 L640.6 267.84 L640.8 268.72 L641 267.51 L641.2 268.95 L641.4 267.94 L641.6 268.76 L641.8 268.26 L642 268.1 L642.2 268.22 L642.4 268.61 L642.6 268.16 L642.8 268.48 L643 268.17 L643.2 268.48 L643.4 268.41 L643.6 268.95 L643.8 267.79 L644 268.61 L644.2 268.62 L644.4 268.13 L644.6 268.02 L644.8 268.52 L645 268.87 L645.2 268.61 L645.4 268.79 L645.6 267.7 L645.8 269.21 L646 268.9 L646.2 268.23 L646.4 267.95 L646.6 268.66 L646.8 268.78 L647 268.4 L647.2 268.29 L647.4 268.68 L647.6 268.58 L647.8 268.88 L648 269.04 L648.2 268.39 L648.4 268.85 L648.6 268.11 L648.8 269.1 L649 267.83 L649.2 268.21 L649.4 268.31 L649.6 268.92 L649.8 268.16 L650 268.99 L650.2 268.69 L650.4 268.9 L650.6 269.28 L650.8 268.3 L651 268.47 L651.2 269.43 L651.4 268.87 L651.6 267.96 L651.8 269.05 L652 268.62 L652.2 268.79 L652.4 269.03 L652.6 268.38 L652.8 269.09 L653 268.91 L653.2 268.13 L653.4 268.06 L653.6 268.83 L653.8 269.02 L654 268.14 L654.2 269.05 L654.4 268.82 L654.6 269.26 L654.8 269.16 L655 268.18 L655.2 269.51 L655.4 268.21 L655.6 268.42 L655.8 268.21 L656 268.39 L656.2 268.57 L656.4 268.52 L656.6 268.53 L656.8 268.47 L657 268.15 L657.2 269.08 L657.4 268.85 L657.6 269.3 L657.8 268.54 L658 268.54 L658.2 268.67 L658.4 269.36 L658.6 268.69 L658.8 268.92 L659 269.02 L659.2 269.2 L659.4 268.03 L659.6 268.91 L659.8 268.4 L660 268.92 L660.2 268.85 L660.4 268.57 L660.6 268.5 L660.8 269.22 L661 268.39 L661.2 269.16 L661.4 269.22 L661.6 268.75 L661.8 268.69 L662 268.49 L662.2 268.12 L662.4 268.79 L662.6 268.56 L662.8 269.73 L663 268.45 L663.2 268.93 L663.4 269.13 L663.6 269.51 L663.8 269.16 L664 268.99 L664.2 269.38 L664.4 269.28 L664.6 268.83 L664.8 268.74 L665 268.25 L665.2 268.41 L665.4 267.71 L665.6 268.37 L665.8 268.5 L666 268.98 L666.2 268.06 L666.4 269.14 L666.6 269.34 L666.8 269.19 L667 268.93 L667.2 269.35 L667.4 268.82 L667.6 269.57 L667.8 268.41 L668 268.99 L668.2 268.6 L668.4 269.5 L668.6 269.35 L668.8 269.49 L669 268.95 L669.2 269.23 L669.4 268.93 L669.6 268.3 L669.8 269.2 L670 268.95 L670.2 268.7 L670.4 268.16 L670.6 269.15 L670.8 268.77 L671 268.17 L671.2 268.5 L671.4 268.96 L671.6 268.93 L671.8 269.08 L672 269.65 L672.2 268.65 L672.4 268.42 L672.6 268.47 L672.8 268.16 L673 269.17 L673.2 269.22 L673.4 269.99 L673.6 269.14 L673.8 269.2" fill="none" stroke="#f2393d" stroke-width="1.5" stroke-linejoin="round" stroke-linecap="round" clip-path="url(#cb)"/>
<path d="M422 254.88 L422.2 253.01 L422.4 253.32 L422.6 253.52 L422.8 252.42 L423 252.96 L423.2 252.84 L423.4 251.29 L423.6 253.47 L423.8 253.02 L424 251.91 L424.2 252.19 L424.4 252.67 L424.6 251.95 L424.8 251.88 L425 250.78 L425.2 252.4 L425.4 251.98 L425.6 252.06 L425.8 250.5 L426 253.13 L426.2 251.84 L426.4 251.35 L426.6 253.35 L426.8 251.57 L427 250.35 L427.2 251.19 L427.4 249.56 L427.6 252.33 L427.8 251.04 L428 250.71 L428.2 252.19 L428.4 249.82 L428.6 251.6 L428.8 249.32 L429 250.44 L429.2 249.9 L429.4 252.08 L429.6 252.24 L429.8 250.36 L430 251.27 L430.2 250.29 L430.4 250.83 L430.6 249.59 L430.8 248.66 L431 248.47 L431.2 250.24 L431.4 251.75 L431.6 249.93 L431.8 249.12 L432 251.13 L432.2 249.56 L432.4 249.33 L432.6 249.34 L432.8 248.89 L433 248.62 L433.2 247.51 L433.4 249.1 L433.6 248.45 L433.8 249.47 L434 247.97 L434.2 246.48 L434.4 247.96 L434.6 249.44 L434.8 247.46 L435 246.89 L435.2 246.49 L435.4 246.49 L435.6 247.03 L435.8 246.11 L436 248.39 L436.2 246.66 L436.4 246.88 L436.6 247.96 L436.8 247.89 L437 246.2 L437.2 246.56 L437.4 246.79 L437.6 245.81 L437.8 244.23 L438 246.31 L438.2 246.39 L438.4 245.82 L438.6 244.44 L438.8 244.97 L439 244.46 L439.2 244.59 L439.4 245.92 L439.6 245.99 L439.8 245.05 L440 244.79 L440.2 244.76 L440.4 243.96 L440.6 243.75 L440.8 243.04 L441 243.47 L441.2 245.5 L441.4 244.04 L441.6 242.75 L441.8 242.47 L442 241.95 L442.2 242.98 L442.4 242.84 L442.6 240.94 L442.8 242.63 L443 241.47 L443.2 243.22 L443.4 241.85 L443.6 243.2 L443.8 240.95 L444 240.95 L444.2 241.36 L444.4 241.93 L444.6 241.3 L444.8 239.38 L445 240.6 L445.2 240.27 L445.4 239.66 L445.6 239.28 L445.8 241.46 L446 239.18 L446.2 238.56 L446.4 239.84 L446.6 239.16 L446.8 238.77 L447 239.44 L447.2 238.96 L447.4 238.65 L447.6 239.05 L447.8 238.18 L448 237.08 L448.2 237.13 L448.4 236.77 L448.6 237.29 L448.8 235.78 L449 234.8 L449.2 236.53 L449.4 234.86 L449.6 234 L449.8 236.15 L450 234.8 L450.2 235.81 L450.4 234.51 L450.6 233.66 L450.8 233.28 L451 233.78 L451.2 233.77 L451.4 232.94 L451.6 233.24 L451.8 231.66 L452 233.01 L452.2 230.83 L452.4 232.24 L452.6 232.9 L452.8 233.04 L453 233.42 L453.2 229.65 L453.4 231.83 L453.6 232.02 L453.8 231.48 L454 229.13 L454.2 230.28 L454.4 231.55 L454.6 227.61 L454.8 229.44 L455 229.83 L455.2 227.55 L455.4 228.64 L455.6 226.51 L455.8 226.48 L456 226.16 L456.2 226.96 L456.4 226.33 L456.6 227.18 L456.8 224.75 L457 225.33 L457.2 226.24 L457.4 225.47 L457.6 223.03 L457.8 224.95 L458 223.33 L458.2 223.99 L458.4 223.58 L458.6 224.3 L458.8 222.72 L459 220.15 L459.2 220.38 L459.4 222.47 L459.6 221.01 L459.8 222.31 L460 220.99 L460.2 219.49 L460.4 221.3 L460.6 218.78 L460.8 217.01 L461 221.51 L461.2 216.53 L461.4 219.21 L461.6 219.25 L461.8 217.99 L462 215.5 L462.2 218.38 L462.4 215.13 L462.6 214.92 L462.8 215.77 L463 216.82 L463.2 215.91 L463.4 216.2 L463.6 214.35 L463.8 214.35 L464 212.85 L464.2 213.51 L464.4 214.28 L464.6 212.85 L464.8 213.46 L465 211.84 L465.2 211.47 L465.4 211.9 L465.6 211.27 L465.8 211.89 L466 211.03 L466.2 212.62 L466.4 209.84 L466.6 209.48 L466.8 208.1 L467 209.07 L467.2 209.54 L467.4 207.4 L467.6 207.9 L467.8 208.51 L468 207.07 L468.2 206.19 L468.4 207.71 L468.6 206.2 L468.8 206.19 L469 206.77 L469.2 206.33 L469.4 204 L469.6 203.35 L469.8 203.97 L470 203 L470.2 200.28 L470.4 203.97 L470.6 201.91 L470.8 202.41 L471 199.48 L471.2 202.28 L471.4 199.38 L471.6 199.59 L471.8 197.46 L472 198.68 L472.2 198.19 L472.4 197.84 L472.6 198.28 L472.8 197.39 L473 198.24 L473.2 195.93 L473.4 194.86 L473.6 195.82 L473.8 196.35 L474 196.85 L474.2 195.94 L474.4 192.12 L474.6 194.71 L474.8 195.87 L475 193.66 L475.2 192.56 L475.4 193.38 L475.6 191.97 L475.8 193.24 L476 192.05 L476.2 193.69 L476.4 192.17 L476.6 190.2 L476.8 191.75 L477 191.93 L477.2 189.58 L477.4 189.5 L477.6 186.62 L477.8 190.81 L478 188.47 L478.2 186.07 L478.4 186.3 L478.6 188.2 L478.8 189.33 L479 187.89 L479.2 188.43 L479.4 185.98 L479.6 185.4 L479.8 188.3 L480 187.51 L480.2 186.55 L480.4 188.18 L480.6 184.8 L480.8 185.34 L481 187.17 L481.2 188.11 L481.4 185.31 L481.6 187.48 L481.8 184.05 L482 185.18 L482.2 184.28 L482.4 182.09 L482.6 184.54 L482.8 185.33 L483 183.62 L483.2 183.57 L483.4 185.5 L483.6 181.57 L483.8 181.06 L484 182.12 L484.2 181.2 L484.4 184.7 L484.6 183.08 L484.8 181.26 L485 181.49 L485.2 186.35 L485.4 181.24 L485.6 180.9 L485.8 182.31 L486 182.67 L486.2 181.96 L486.4 180.21 L486.6 179.74 L486.8 182.16 L487 181.11 L487.2 178.71 L487.4 182.67 L487.6 181.99 L487.8 180.42 L488 180.28 L488.2 180.89 L488.4 179.46 L488.6 178.4 L488.8 180.72 L489 178.07 L489.2 180.62 L489.4 177.86 L489.6 179.72 L489.8 179.58 L490 182.27 L490.2 178.07 L490.4 177.48 L490.6 178.53 L490.8 177.77 L491 178.49 L491.2 179.91 L491.4 180.36 L491.6 181.61 L491.8 178.07 L492 182.94 L492.2 181.94 L492.4 178.72 L492.6 175.63 L492.8 178.81 L493 178.99 L493.2 175.49 L493.4 178.9 L493.6 178.45 L493.8 177.55 L494 179.55 L494.2 180.05 L494.4 177.81 L494.6 178.77 L494.8 177.4 L495 177.12 L495.2 178.28 L495.4 178.82 L495.6 177.12 L495.8 174.58 L496 178.56 L496.2 175.24 L496.4 177.65 L496.6 179.97 L496.8 177.21 L497 175.36 L497.2 174.82 L497.4 178.54 L497.6 176.61 L497.8 177.23 L498 177.55 L498.2 175.84 L498.4 175.13 L498.6 173.82 L498.8 170.24 L499 172.1 L499.2 173.75 L499.4 173.06 L499.6 173.32 L499.8 171.88 L500 171.61 L500.2 171.82 L500.4 168.51 L500.6 168.6 L500.8 165.75 L501 168.81 L501.2 166.48 L501.4 166.26 L501.6 166.95 L501.8 165.29 L502 162.56 L502.2 162.91 L502.4 158.47 L502.6 160.41 L502.8 158.97 L503 155.22 L503.2 158.94 L503.4 154.71 L503.6 155.92 L503.8 153.13 L504 154.35 L504.2 153.8 L504.4 149.24 L504.6 146.99 L504.8 148.15 L505 148.63 L505.2 145.5 L505.4 143.97 L505.6 144.68 L505.8 138.16 L506 140.53 L506.2 138.23 L506.4 139.95 L506.6 137.12 L506.8 135.37 L507 135.56 L507.2 132.55 L507.4 133.93 L507.6 131.67 L507.8 131.09 L508 129.39 L508.2 131.1 L508.4 128.23 L508.6 128.23 L508.8 127.05 L509 123.69 L509.2 125.01 L509.4 123.53 L509.6 122.37 L509.8 120.02 L510 118.88 L510.2 119.96 L510.4 121.39 L510.6 114.92 L510.8 116.32 L511 113.64 L511.2 114.69 L511.4 113.06 L511.6 113.22 L511.8 105.23 L512 108.3 L512.2 106.67 L512.4 107.37 L512.6 105.34 L512.8 104.59 L513 106.13 L513.2 107.47 L513.4 97.76 L513.6 101.47 L513.8 101.65 L514 100.05 L514.2 98.33 L514.4 95.32 L514.6 94.93 L514.8 96.87 L515 96.28 L515.2 93.11 L515.4 89.98 L515.6 90.37 L515.8 88.31 L516 88.38 L516.2 86.08 L516.4 83.15 L516.6 83.21 L516.8 79 L517 81.37 L517.2 80.53 L517.4 74.3 L517.6 75.89 L517.8 71.5 L518 74.04 L518.2 72.13 L518.4 68.29 L518.6 69.21 L518.8 64.75 L519 62.68 L519.2 61.14 L519.4 60.27 L519.6 58.13 L519.8 57.33 L520 53.96 L520.2 55.05 L520.4 53.87 L520.6 49.06 L520.8 45.54 L521 48.58 L521.2 48.12 L521.4 44.16 L521.6 40.7 L521.8 43.02 L522 44.82 L522.2 36.81 L522.4 41.08 L522.6 38.72 L522.8 36.94 L523 39.24 L523.2 34.84 L523.4 37.72 L523.6 39.38 L523.8 36.44 L524 33.67 L524.2 31.18 L524.4 31.71 L524.6 29.96 L524.8 37.08 L525 33 L525.2 31.25 L525.4 30.65 L525.6 31.1 L525.8 32.63 L526 30.62 L526.2 37.01 L526.4 31.81 L526.6 31.88 L526.8 34.4 L527 37.03 L527.2 37.01 L527.4 33.47 L527.6 35.49 L527.8 35.75 L528 37.1 L528.2 37.1 L528.4 35.14 L528.6 35.08 L528.8 38.76 L529 36.48 L529.2 42.49 L529.4 40.23 L529.6 38.52 L529.8 40.56 L530 40.72 L530.2 42.08 L530.4 44.95 L530.6 40.52 L530.8 40.28 L531 45.63 L531.2 45.29 L531.4 46.81 L531.6 48.28 L531.8 47.92 L532 51.02 L532.2 48.59 L532.4 51.76 L532.6 51.13 L532.8 51.8 L533 56.74 L533.2 58.02 L533.4 54.27 L533.6 57.4 L533.8 61.76 L534 64.84 L534.2 62.81 L534.4 65.31 L534.6 64.35 L534.8 73.8 L535 71.3 L535.2 73.76 L535.4 74.95 L535.6 77.19 L535.8 78.25 L536 78.12 L536.2 81.98 L536.4 82.43 L536.6 86.54 L536.8 84.33 L537 86.43 L537.2 90.46 L537.4 93.32 L537.6 92.8 L537.8 92.8 L538 95.53 L538.2 96.41 L538.4 102.49 L538.6 102.18 L538.8 104.43 L539 104.21 L539.2 104.2 L539.4 108.98 L539.6 111.46 L539.8 111.12 L540 111.67 L540.2 115.38 L540.4 114.52 L540.6 118.39 L540.8 117.65 L541 119.15 L541.2 123.88 L541.4 125.52 L541.6 130.33 L541.8 128.61 L542 131.21 L542.2 131.25 L542.4 132.36 L542.6 135.84 L542.8 141.5 L543 140.35 L543.2 145.65 L543.4 147.55 L543.6 146.11 L543.8 150.64 L544 149.62 L544.2 152.39 L544.4 151.51 L544.6 154.71 L544.8 152.95 L545 156.74 L545.2 156.29 L545.4 158.09 L545.6 160.57 L545.8 161.11 L546 162 L546.2 164.51 L546.4 165.88 L546.6 163.78 L546.8 168.02 L547 169.45 L547.2 168.55 L547.4 171.53 L547.6 170.22 L547.8 175.61 L548 174.38 L548.2 175.87 L548.4 179.01 L548.6 178.3 L548.8 180.64 L549 179.53 L549.2 181.49 L549.4 181.59 L549.6 184.56 L549.8 187.6 L550 187.75 L550.2 189.98 L550.4 188.64 L550.6 190.18 L550.8 192.09 L551 194.85 L551.2 195.91 L551.4 196.75 L551.6 198.95 L551.8 199.25 L552 200.73 L552.2 203.72 L552.4 202.49 L552.6 204.66 L552.8 207.62 L553 206.81 L553.2 208.65 L553.4 208.04 L553.6 212.23 L553.8 207.94 L554 210.21 L554.2 211.15 L554.4 215.21 L554.6 214.43 L554.8 214.44 L555 213.96 L555.2 216.67 L555.4 217.11 L555.6 216.88 L555.8 216.67 L556 217.85 L556.2 220.1 L556.4 220.91 L556.6 221.31 L556.8 221.72 L557 220.52 L557.2 223.23 L557.4 222.63 L557.6 224.45 L557.8 225.51 L558 224.81 L558.2 224.98 L558.4 227.76 L558.6 227.58 L558.8 227 L559 224.92 L559.2 228.63 L559.4 229.85 L559.6 230.84 L559.8 229.37 L560 229.86 L560.2 230.53 L560.4 232.34 L560.6 230.64 L560.8 232.2 L561 231.78 L561.2 233.45 L561.4 231.97 L561.6 234.4 L561.8 233.9 L562 234.59 L562.2 235.77 L562.4 236.79 L562.6 234.28 L562.8 237.42 L563 237.35 L563.2 236.87 L563.4 238.95 L563.6 238.1 L563.8 239.56 L564 238.04 L564.2 238.13 L564.4 240.54 L564.6 241.81 L564.8 240.64 L565 241.22 L565.2 240.22 L565.4 239.72 L565.6 241.1 L565.8 243.07 L566 240.15 L566.2 241.77 L566.4 240.72 L566.6 242.94 L566.8 243.95 L567 242.23 L567.2 243.3 L567.4 245.19 L567.6 244.14 L567.8 243.32 L568 243.51 L568.2 243.11 L568.4 245.92 L568.6 244.75 L568.8 246.63 L569 246.68 L569.2 245.5 L569.4 245.83 L569.6 247.22 L569.8 246.84 L570 247.14 L570.2 245.61 L570.4 248.09 L570.6 246.68 L570.8 245.62 L571 247.27 L571.2 248.37 L571.4 250.02 L571.6 248 L571.8 247.33 L572 250.53 L572.2 248.96 L572.4 248.75 L572.6 248.2 L572.8 248.41 L573 250.72 L573.2 249.35 L573.4 249.26 L573.6 249.43 L573.8 251.37 L574 249.65 L574.2 250.83 L574.4 250.66 L574.6 250.77 L574.8 249.95 L575 251.39 L575.2 252.33 L575.4 251.05 L575.6 250.44 L575.8 250.25 L576 251.63 L576.2 251.37 L576.4 251.63 L576.6 251.85 L576.8 250.73 L577 252.74 L577.2 252.4 L577.4 252.26 L577.6 252.63 L577.8 253.33 L578 252.72 L578.2 252.09 L578.4 253.87 L578.6 252.66 L578.8 252.53 L579 251.96 L579.2 253.36 L579.4 252.61 L579.6 253.15 L579.8 254.05 L580 253.82 L580.2 254.73 L580.4 254.26 L580.6 253.79 L580.8 253.96 L581 253.92 L581.2 254.95 L581.4 254.55 L581.6 254.31 L581.8 255.42 L582 254.92 L582.2 254.58 L582.4 253.85 L582.6 255.5 L582.8 255.44 L583 255.39 L583.2 255.11 L583.4 254.9 L583.6 255.47 L583.8 255.93 L584 255.75 L584.2 255.83 L584.4 255.67 L584.6 256.4 L584.8 256.41 L585 255.74 L585.2 257 L585.4 257.12 L585.6 257.22 L585.8 256.59 L586 256.63 L586.2 255.97 L586.4 257.53 L586.6 255.4 L586.8 256.82 L587 256.94 L587.2 257.93 L587.4 257.36 L587.6 256.71 L587.8 256.44 L588 257.05 L588.2 257.76 L588.4 257.79 L588.6 257.68 L588.8 257.38 L589 257.81 L589.2 258.79 L589.4 257.29 L589.6 258.2 L589.8 259.45 L590 258.73 L590.2 258.04 L590.4 258.93 L590.6 257.95 L590.8 258.58 L591 259.78 L591.2 260.09 L591.4 257.5 L591.6 259.34 L591.8 260.31 L592 258.54 L592.2 259.19 L592.4 260.16 L592.6 258.75 L592.8 259.5 L593 259.18 L593.2 257.88 L593.4 259.59 L593.6 259.26 L593.8 260.12 L594 261.02 L594.2 260.05 L594.4 259.35 L594.6 259.99 L594.8 259.87 L595 260.51 L595.2 258.79 L595.4 259.04 L595.6 258.47 L595.8 260.42 L596 260.02 L596.2 259.63 L596.4 259.62 L596.6 259.78 L596.8 259.58 L597 260.06 L597.2 259.98 L597.4 261.37 L597.6 260.66 L597.8 259.9 L598 260.12 L598.2 261.42 L598.4 260.94 L598.6 260.88 L598.8 261.22 L599 261.88 L599.2 259.96 L599.4 260.33 L599.6 259.68 L599.8 261.29 L600 260.73 L600.2 260.57 L600.4 260.55 L600.6 261.6 L600.8 261.07 L601 260.84 L601.2 262.12 L601.4 260.57 L601.6 260.46 L601.8 263.17 L602 261.16 L602.2 261.08 L602.4 261 L602.6 261.45 L602.8 262.12 L603 262.14 L603.2 262.03 L603.4 261.51 L603.6 260.72 L603.8 261.97 L604 262.85 L604.2 262.58 L604.4 261.78 L604.6 262.47 L604.8 261.7 L605 261.96 L605.2 261.2 L605.4 261.86 L605.6 262.2 L605.8 262.03 L606 262.7 L606.2 263.49 L606.4 263.14 L606.6 262.08 L606.8 261.82 L607 261.91 L607.2 261.73 L607.4 262.44 L607.6 262.73 L607.8 262.6 L608 262.64 L608.2 262.65 L608.4 262.49 L608.6 262.11 L608.8 263.79 L609 263.36 L609.2 262.09 L609.4 262.12 L609.6 262.37 L609.8 262.81 L610 263.65 L610.2 263.52 L610.4 263.58 L610.6 263.62 L610.8 263.66 L611 263.44 L611.2 263.28 L611.4 262.93 L611.6 261.89 L611.8 262.98 L612 264.28 L612.2 262.77 L612.4 262.74 L612.6 263.84 L612.8 263.25 L613 262.91 L613.2 264.27 L613.4 263.69 L613.6 263.8 L613.8 262.96 L614 263.68 L614.2 263.63 L614.4 263.91 L614.6 264.18 L614.8 264.19 L615 263.59 L615.2 263.95 L615.4 262.79 L615.6 263.97 L615.8 264.02 L616 263.35 L616.2 263.12 L616.4 263.61 L616.6 262.88 L616.8 263.91 L617 263.9 L617.2 263.12 L617.4 263.79 L617.6 264.47 L617.8 264.48 L618 264.47 L618.2 263.75 L618.4 263.65 L618.6 263.63 L618.8 264.29 L619 265.43 L619.2 264.85 L619.4 264.98 L619.6 264.85 L619.8 262.97 L620 263.9 L620.2 263.77 L620.4 264.86 L620.6 265.16 L620.8 263.68 L621 264.14 L621.2 264.49 L621.4 263.84 L621.6 263.77 L621.8 263.76 L622 264.77 L622.2 263.65 L622.4 264.96 L622.6 264.32 L622.8 264.75 L623 265.27 L623.2 263.89 L623.4 263.81 L623.6 264.61 L623.8 263.71 L624 263.92 L624.2 264.32 L624.4 264.51 L624.6 263.64 L624.8 264.2 L625 264.82 L625.2 265.32 L625.4 263.25 L625.6 265.32 L625.8 265.07 L626 263.85 L626.2 263.63 L626.4 264.82 L626.6 264.31 L626.8 264.68 L627 265.14 L627.2 264.39 L627.4 264.73 L627.6 264.94 L627.8 265.21 L628 265.77 L628.2 265.75 L628.4 264.85 L628.6 264.57 L628.8 266.2 L629 265.14 L629.2 265.02 L629.4 264.09 L629.6 265.26 L629.8 264.31 L630 264.52 L630.2 264 L630.4 264.51 L630.6 264.89 L630.8 263.93 L631 264.32 L631.2 264.84 L631.4 264.12 L631.6 264.14 L631.8 264.41 L632 264.07 L632.2 265.32 L632.4 264.35 L632.6 265.44 L632.8 265.55 L633 264.26 L633.2 265.03 L633.4 264.72 L633.6 264.33 L633.8 264.84 L634 264.9 L634.2 265.5 L634.4 265.7 L634.6 264.41 L634.8 264.85 L635 265.43 L635.2 265.84 L635.4 263.63 L635.6 265.92 L635.8 265.05 L636 266.1 L636.2 264.91 L636.4 264.67 L636.6 265.22 L636.8 265.92 L637 265.23 L637.2 263.78 L637.4 265.65 L637.6 264.26 L637.8 264.65 L638 264.55 L638.2 264.15 L638.4 264.51 L638.6 264.69 L638.8 264.92 L639 265.27 L639.2 265.11 L639.4 264.42 L639.6 265.22 L639.8 265.94 L640 265.93 L640.2 265.44 L640.4 265.75 L640.6 265.92 L640.8 266.22 L641 266.43 L641.2 265.21 L641.4 265.25 L641.6 266.32 L641.8 266.38 L642 266.37 L642.2 264.02 L642.4 265.32 L642.6 263.49 L642.8 265.92 L643 265.51 L643.2 265.52 L643.4 265.41 L643.6 266.29 L643.8 265.34 L644 266.15 L644.2 265.86 L644.4 265.75 L644.6 265.83 L644.8 265.62 L645 264.9 L645.2 266 L645.4 266.01 L645.6 265.5 L645.8 266.03 L646 266.14 L646.2 264.83 L646.4 265.53 L646.6 265.36 L646.8 265.09 L647 265.83 L647.2 265.14 L647.4 265.39 L647.6 265.81 L647.8 265.88 L648 265.87 L648.2 267.03 L648.4 265.39 L648.6 265.85 L648.8 264.98 L649 266 L649.2 266.41 L649.4 266.46 L649.6 265.35 L649.8 265.57 L650 266.51 L650.2 265.7 L650.4 266.34 L650.6 265.19 L650.8 266.61 L651 266.4 L651.2 266.07 L651.4 265.32 L651.6 265.71 L651.8 265.91 L652 265.98 L652.2 265.77 L652.4 265.71 L652.6 265.96 L652.8 266.68 L653 264.66 L653.2 265.04 L653.4 264.95 L653.6 265.47 L653.8 264.85 L654 266.22 L654.2 265.96 L654.4 265.75 L654.6 265.51 L654.8 266.01 L655 266.03 L655.2 266.13 L655.4 265.51 L655.6 266.33 L655.8 265.08 L656 266.7 L656.2 264.14 L656.4 265.62 L656.6 265.27 L656.8 266.46 L657 265.11 L657.2 267.08 L657.4 265.09 L657.6 267.22 L657.8 266.29 L658 266.05 L658.2 266.3 L658.4 267.34 L658.6 266.58 L658.8 264.73 L659 266.77 L659.2 266.21 L659.4 265.12 L659.6 266.54 L659.8 265.38 L660 266.21 L660.2 266.24 L660.4 265.73 L660.6 266.5 L660.8 265.52 L661 266.25 L661.2 265.82 L661.4 266.04 L661.6 267.29 L661.8 266.23 L662 265.53 L662.2 266.11 L662.4 265.73 L662.6 266.2 L662.8 266.29 L663 266.25 L663.2 266.26 L663.4 265.89 L663.6 266.49 L663.8 266.85 L664 265.87 L664.2 266.21 L664.4 266.29 L664.6 266.99 L664.8 266.9 L665 265.84 L665.2 266.32 L665.4 265.41 L665.6 265.73 L665.8 266.31 L666 266.68 L666.2 266.87 L666.4 266.14 L666.6 265.53 L666.8 266.57 L667 266.24 L667.2 266.6 L667.4 266.45 L667.6 266.78 L667.8 266.75 L668 266.87 L668.2 266.12 L668.4 266.97 L668.6 266.1 L668.8 266.45 L669 267.5 L669.2 266.63 L669.4 265.75 L669.6 267.3 L669.8 267.02 L670 267.11 L670.2 266.57 L670.4 266.66 L670.6 266.34 L670.8 266.07 L671 267.38 L671.2 266.28 L671.4 266.22 L671.6 266.25 L671.8 267.6 L672 267.03 L672.2 266.32 L672.4 266.51 L672.6 266.84 L672.8 267.06 L673 265.63 L673.2 267.09 L673.4 266.45 L673.6 266.19 L673.8 266.37" fill="none" stroke="#000" stroke-width="1.6" stroke-linejoin="round" stroke-linecap="round" clip-path="url(#cb)"/>
<path d="M422 256.58 L422.2 257.3 L422.4 254.69 L422.6 255.05 L422.8 254.2 L423 258 L423.2 257.33 L423.4 257.63 L423.6 256.36 L423.8 256.41 L424 254.51 L424.2 257 L424.4 254.35 L424.6 254.64 L424.8 254.78 L425 254.33 L425.2 255.63 L425.4 254.62 L425.6 254.66 L425.8 254.45 L426 255.69 L426.2 253.94 L426.4 254.22 L426.6 254.65 L426.8 252.79 L427 253.7 L427.2 254.48 L427.4 254.93 L427.6 253.98 L427.8 253.16 L428 254.89 L428.2 253.35 L428.4 253.47 L428.6 253.5 L428.8 253.18 L429 252.65 L429.2 253.43 L429.4 251.89 L429.6 252.35 L429.8 252.31 L430 251.74 L430.2 252.51 L430.4 252.45 L430.6 252.27 L430.8 251.95 L431 252.45 L431.2 253.36 L431.4 252.62 L431.6 248.81 L431.8 252.5 L432 249.69 L432.2 249.65 L432.4 251.24 L432.6 249.79 L432.8 252.28 L433 251.39 L433.2 249.91 L433.4 249.03 L433.6 250.7 L433.8 251.39 L434 250.24 L434.2 251.74 L434.4 250.39 L434.6 250.51 L434.8 249.37 L435 249.87 L435.2 249.19 L435.4 247.53 L435.6 251.42 L435.8 248.87 L436 248.99 L436.2 249.98 L436.4 248.72 L436.6 248.69 L436.8 248.75 L437 247.14 L437.2 249.51 L437.4 248.29 L437.6 247.24 L437.8 248.55 L438 247.87 L438.2 246.49 L438.4 247.4 L438.6 247.11 L438.8 247.29 L439 247.18 L439.2 247.36 L439.4 245.38 L439.6 246.38 L439.8 245.34 L440 246.55 L440.2 244.64 L440.4 243.66 L440.6 245.19 L440.8 247.93 L441 246.42 L441.2 245.24 L441.4 247.42 L441.6 244.66 L441.8 244.51 L442 245.38 L442.2 244.69 L442.4 244.16 L442.6 243.62 L442.8 243.86 L443 244.81 L443.2 242.32 L443.4 242.79 L443.6 244.63 L443.8 245.65 L444 241.14 L444.2 243.22 L444.4 244.28 L444.6 242.26 L444.8 241.74 L445 243.4 L445.2 241.43 L445.4 241.08 L445.6 241.06 L445.8 240.06 L446 238.86 L446.2 242.28 L446.4 242.65 L446.6 240.98 L446.8 240.36 L447 240.89 L447.2 240 L447.4 238.2 L447.6 238.55 L447.8 240.04 L448 239 L448.2 237.59 L448.4 237.5 L448.6 239.77 L448.8 236.98 L449 239.55 L449.2 238.65 L449.4 236.87 L449.6 237.36 L449.8 237.63 L450 237.62 L450.2 237.27 L450.4 238.27 L450.6 237.5 L450.8 235.72 L451 235.83 L451.2 234.79 L451.4 234.94 L451.6 235.32 L451.8 232.44 L452 234.81 L452.2 234.39 L452.4 233.89 L452.6 232.46 L452.8 232.97 L453 232.48 L453.2 232.97 L453.4 230.07 L453.6 232.1 L453.8 232.69 L454 230.89 L454.2 230.53 L454.4 232.1 L454.6 233.94 L454.8 231.37 L455 231.12 L455.2 230.13 L455.4 230.64 L455.6 230.13 L455.8 228.09 L456 229.27 L456.2 229.58 L456.4 227.4 L456.6 228.33 L456.8 229.03 L457 228.4 L457.2 226.93 L457.4 229.03 L457.6 227.52 L457.8 225.71 L458 223.39 L458.2 224.98 L458.4 225.2 L458.6 224.27 L458.8 224.43 L459 226.01 L459.2 224.73 L459.4 225.04 L459.6 221.48 L459.8 222.81 L460 224.07 L460.2 221.17 L460.4 224.16 L460.6 219.99 L460.8 220.41 L461 222.71 L461.2 217.91 L461.4 221.2 L461.6 218.35 L461.8 218.14 L462 219.28 L462.2 218.82 L462.4 219.24 L462.6 218.03 L462.8 217.51 L463 216.09 L463.2 217.55 L463.4 213.77 L463.6 217.31 L463.8 216.43 L464 217.54 L464.2 217.24 L464.4 213.33 L464.6 215.52 L464.8 213.41 L465 213.43 L465.2 214.69 L465.4 213.94 L465.6 213.57 L465.8 212.54 L466 212.52 L466.2 210.48 L466.4 210.73 L466.6 211.97 L466.8 209.31 L467 209.64 L467.2 211.06 L467.4 209.67 L467.6 208.28 L467.8 209.37 L468 210.31 L468.2 206.94 L468.4 205.85 L468.6 207.61 L468.8 205.9 L469 206.18 L469.2 205.49 L469.4 204.64 L469.6 205.34 L469.8 205.23 L470 203.08 L470.2 205.44 L470.4 205.46 L470.6 202.97 L470.8 203.04 L471 204.4 L471.2 200.18 L471.4 200.05 L471.6 200.57 L471.8 200.61 L472 201.09 L472.2 200.18 L472.4 196.89 L472.6 200.51 L472.8 200.35 L473 196.97 L473.2 198.68 L473.4 196.68 L473.6 196.63 L473.8 195.91 L474 198.72 L474.2 195 L474.4 195.82 L474.6 196.34 L474.8 194.04 L475 194.59 L475.2 194.49 L475.4 196.74 L475.6 192.24 L475.8 193.75 L476 193.78 L476.2 192.8 L476.4 194.83 L476.6 192.61 L476.8 191.71 L477 193.23 L477.2 193.59 L477.4 190.3 L477.6 192.5 L477.8 192 L478 190.67 L478.2 189.33 L478.4 191.49 L478.6 190.9 L478.8 188.36 L479 188.75 L479.2 191.76 L479.4 188.04 L479.6 185.79 L479.8 188.09 L480 188.52 L480.2 189.11 L480.4 187.27 L480.6 190.49 L480.8 186.71 L481 187.49 L481.2 188.6 L481.4 186.91 L481.6 183.08 L481.8 187.44 L482 186.59 L482.2 185.02 L482.4 187.53 L482.6 187.23 L482.8 184.71 L483 183.17 L483.2 182.51 L483.4 184.73 L483.6 183.99 L483.8 184.49 L484 180.6 L484.2 184.38 L484.4 182.41 L484.6 183.54 L484.8 187.26 L485 183.82 L485.2 185.2 L485.4 184.16 L485.6 184.55 L485.8 183.58 L486 183.04 L486.2 184.75 L486.4 181.1 L486.6 181.97 L486.8 183.54 L487 182.94 L487.2 185.62 L487.4 182.58 L487.6 182.29 L487.8 182.79 L488 179.94 L488.2 184.29 L488.4 181.49 L488.6 182.82 L488.8 180.54 L489 179.62 L489.2 181.44 L489.4 181.12 L489.6 182.17 L489.8 180.51 L490 184.9 L490.2 181.33 L490.4 179.33 L490.6 180.88 L490.8 182.99 L491 181.08 L491.2 179.34 L491.4 179.96 L491.6 181.84 L491.8 182.86 L492 179.46 L492.2 182.7 L492.4 179.39 L492.6 183.53 L492.8 180.06 L493 178.51 L493.2 179.92 L493.4 180.22 L493.6 181.36 L493.8 181.79 L494 181 L494.2 178.6 L494.4 180.13 L494.6 179.39 L494.8 180.02 L495 179.17 L495.2 178.5 L495.4 183.44 L495.6 178.89 L495.8 176.55 L496 178.52 L496.2 180.77 L496.4 179.66 L496.6 177.52 L496.8 180.25 L497 181.94 L497.2 176.27 L497.4 178.27 L497.6 179.19 L497.8 179.73 L498 178.09 L498.2 178.79 L498.4 175.33 L498.6 178.92 L498.8 174.91 L499 172.73 L499.2 175.43 L499.4 174.73 L499.6 172.59 L499.8 172.61 L500 173.3 L500.2 171.26 L500.4 170.16 L500.6 171.58 L500.8 170.4 L501 167.08 L501.2 167.66 L501.4 165.71 L501.6 166.19 L501.8 166.03 L502 165.47 L502.2 162.27 L502.4 162.39 L502.6 159.69 L502.8 161.32 L503 159.46 L503.2 157.57 L503.4 157.69 L503.6 153.15 L503.8 153.49 L504 154.18 L504.2 155.31 L504.4 151.23 L504.6 151.75 L504.8 152.1 L505 147.89 L505.2 148.59 L505.4 145.78 L505.6 149.1 L505.8 144.54 L506 144.41 L506.2 140.5 L506.4 140.77 L506.6 138 L506.8 139.61 L507 133.68 L507.2 137.7 L507.4 133.03 L507.6 132.14 L507.8 128.28 L508 128.29 L508.2 126.5 L508.4 124.49 L508.6 123.57 L508.8 118.72 L509 114.37 L509.2 119.34 L509.4 113.58 L509.6 115.88 L509.8 110.59 L510 110.78 L510.2 114.63 L510.4 112 L510.6 107.53 L510.8 105.16 L511 106.71 L511.2 99.47 L511.4 105.37 L511.6 100.29 L511.8 98.69 L512 99.49 L512.2 97.1 L512.4 95.95 L512.6 98.15 L512.8 95.42 L513 93.1 L513.2 94.49 L513.4 94.03 L513.6 93.58 L513.8 90.61 L514 88.82 L514.2 91.72 L514.4 88.38 L514.6 89.52 L514.8 84.07 L515 83.93 L515.2 85.54 L515.4 84.86 L515.6 84.5 L515.8 84.74 L516 84.14 L516.2 79.57 L516.4 79.36 L516.6 79.93 L516.8 77.73 L517 76.37 L517.2 79.35 L517.4 76.67 L517.6 69.39 L517.8 70.75 L518 70.17 L518.2 73.64 L518.4 65.27 L518.6 68.84 L518.8 67.04 L519 64.21 L519.2 66.11 L519.4 62.64 L519.6 58.96 L519.8 58.76 L520 63.08 L520.2 57.91 L520.4 61.02 L520.6 57.49 L520.8 52.44 L521 51.66 L521.2 55 L521.4 56.4 L521.6 51.79 L521.8 50.19 L522 49.43 L522.2 48.8 L522.4 48.3 L522.6 46.66 L522.8 46.57 L523 46.12 L523.2 47.74 L523.4 47.12 L523.6 52.26 L523.8 56.28 L524 56.75 L524.2 54.44 L524.4 58.9 L524.6 59.63 L524.8 51.91 L525 57.11 L525.2 55.57 L525.4 51.57 L525.6 47.72 L525.8 52.83 L526 53.16 L526.2 52.4 L526.4 52.55 L526.6 52.67 L526.8 50.6 L527 53.46 L527.2 54.68 L527.4 53.17 L527.6 51.18 L527.8 58.83 L528 55.58 L528.2 54.01 L528.4 60.14 L528.6 62.14 L528.8 61.52 L529 62.7 L529.2 65.62 L529.4 62.11 L529.6 65.66 L529.8 65.39 L530 69.73 L530.2 68.98 L530.4 75.56 L530.6 72.69 L530.8 71.15 L531 71.53 L531.2 79.57 L531.4 80.79 L531.6 79.3 L531.8 79.82 L532 83.02 L532.2 81.96 L532.4 76.88 L532.6 82.81 L532.8 86.43 L533 88.89 L533.2 90.23 L533.4 92.3 L533.6 89.82 L533.8 91.86 L534 93.64 L534.2 97.15 L534.4 93.78 L534.6 96.36 L534.8 101.24 L535 100.29 L535.2 102.85 L535.4 100.46 L535.6 106.01 L535.8 109.12 L536 109.46 L536.2 110.36 L536.4 111.36 L536.6 113.09 L536.8 114.75 L537 119.52 L537.2 119.73 L537.4 118.27 L537.6 120.16 L537.8 121.21 L538 120.95 L538.2 125 L538.4 125.26 L538.6 129.11 L538.8 128.39 L539 130.53 L539.2 132.84 L539.4 131.9 L539.6 135.86 L539.8 134.14 L540 138.17 L540.2 137.58 L540.4 138.55 L540.6 142.67 L540.8 142.44 L541 142.84 L541.2 145.05 L541.4 147.11 L541.6 150.67 L541.8 149.54 L542 151.86 L542.2 155.71 L542.4 159.36 L542.6 157.31 L542.8 160.75 L543 163.97 L543.2 164.28 L543.4 167.63 L543.6 168.24 L543.8 167.1 L544 172.73 L544.2 172.74 L544.4 177.87 L544.6 175.86 L544.8 179.41 L545 179.75 L545.2 180.17 L545.4 181.29 L545.6 183.87 L545.8 185.9 L546 185.75 L546.2 187.91 L546.4 189.49 L546.6 190.63 L546.8 195.11 L547 195.76 L547.2 193.12 L547.4 198.01 L547.6 198.41 L547.8 200.95 L548 200.01 L548.2 200.95 L548.4 202.23 L548.6 201.75 L548.8 204.14 L549 207.16 L549.2 207.4 L549.4 208.57 L549.6 207.38 L549.8 207.43 L550 206.89 L550.2 210.08 L550.4 213.12 L550.6 213.05 L550.8 213.1 L551 214.32 L551.2 214.04 L551.4 214.03 L551.6 215.39 L551.8 213.35 L552 213.83 L552.2 214.83 L552.4 214.47 L552.6 217.69 L552.8 218.03 L553 218.6 L553.2 218.43 L553.4 219.31 L553.6 218.68 L553.8 222.77 L554 222.41 L554.2 222.29 L554.4 223.81 L554.6 222.09 L554.8 223.87 L555 223.78 L555.2 224.05 L555.4 224.87 L555.6 225.46 L555.8 223.8 L556 227.75 L556.2 225.07 L556.4 227.1 L556.6 226.8 L556.8 227.05 L557 227.38 L557.2 227.92 L557.4 228.76 L557.6 230.45 L557.8 230.91 L558 229.93 L558.2 234.04 L558.4 231.06 L558.6 232.17 L558.8 232.27 L559 233.19 L559.2 231.7 L559.4 232.88 L559.6 232.37 L559.8 234.25 L560 234.46 L560.2 235.91 L560.4 235.25 L560.6 236.85 L560.8 236.17 L561 239.09 L561.2 236.87 L561.4 238.16 L561.6 236.67 L561.8 238.42 L562 241.02 L562.2 236.79 L562.4 240.53 L562.6 240.03 L562.8 239.78 L563 241.56 L563.2 239.83 L563.4 240.43 L563.6 241.3 L563.8 243.04 L564 241.14 L564.2 242.7 L564.4 242.77 L564.6 243.15 L564.8 244.5 L565 242.51 L565.2 243.52 L565.4 243.69 L565.6 245.47 L565.8 246.61 L566 245.41 L566.2 246.02 L566.4 246.03 L566.6 245.76 L566.8 245.79 L567 245.39 L567.2 248.74 L567.4 246.8 L567.6 247.03 L567.8 247.55 L568 247.19 L568.2 247.24 L568.4 247.95 L568.6 248.56 L568.8 248 L569 249.62 L569.2 247.14 L569.4 249.14 L569.6 250.06 L569.8 249.35 L570 248.26 L570.2 249.76 L570.4 248.91 L570.6 250.26 L570.8 251.16 L571 251.7 L571.2 249.63 L571.4 250.09 L571.6 250.13 L571.8 251.18 L572 251.79 L572.2 249.59 L572.4 252.19 L572.6 252.99 L572.8 249.66 L573 251.97 L573.2 251.2 L573.4 251.68 L573.6 251.42 L573.8 252.99 L574 252.89 L574.2 252.51 L574.4 252.93 L574.6 254.53 L574.8 252.11 L575 252.51 L575.2 251.2 L575.4 252.61 L575.6 253.24 L575.8 252.03 L576 254.41 L576.2 253.63 L576.4 253.47 L576.6 252.99 L576.8 254.35 L577 253.7 L577.2 255.09 L577.4 253.5 L577.6 254.69 L577.8 254.2 L578 255.57 L578.2 254.54 L578.4 255.79 L578.6 254.98 L578.8 254.77 L579 255.73 L579.2 255.93 L579.4 255.85 L579.6 255.96 L579.8 256.78 L580 255.68 L580.2 254.59 L580.4 256.09 L580.6 256.9 L580.8 255.31 L581 256.34 L581.2 257.29 L581.4 256.15 L581.6 256.68 L581.8 256.38 L582 257.11 L582.2 257.25 L582.4 255.88 L582.6 256.32 L582.8 258.42 L583 258.75 L583.2 257.56 L583.4 258.29 L583.6 257.23 L583.8 256.74 L584 257.8 L584.2 259.52 L584.4 258.57 L584.6 257.52 L584.8 259.2 L585 259 L585.2 258.52 L585.4 257.69 L585.6 257.65 L585.8 258.73 L586 257.72 L586.2 259.08 L586.4 257.64 L586.6 257.97 L586.8 260.32 L587 258.69 L587.2 258.05 L587.4 258.82 L587.6 259.53 L587.8 259.48 L588 258.84 L588.2 259.5 L588.4 260.23 L588.6 258.86 L588.8 258.03 L589 258.93 L589.2 258.66 L589.4 259.1 L589.6 260.14 L589.8 257.12 L590 260.05 L590.2 261.04 L590.4 261.25 L590.6 260.4 L590.8 258.78 L591 259.96 L591.2 259.97 L591.4 259.48 L591.6 258.56 L591.8 260.46 L592 260.75 L592.2 259.65 L592.4 262.52 L592.6 259.12 L592.8 261.02 L593 259.42 L593.2 260.07 L593.4 260.53 L593.6 259.12 L593.8 260.6 L594 259.11 L594.2 260.98 L594.4 260.91 L594.6 261.6 L594.8 260.41 L595 261.03 L595.2 259.92 L595.4 260.85 L595.6 260.72 L595.8 260.82 L596 260.67 L596.2 259.98 L596.4 261.28 L596.6 260.89 L596.8 260.18 L597 261.42 L597.2 262.31 L597.4 260.87 L597.6 260.4 L597.8 261.89 L598 261.31 L598.2 261.85 L598.4 261.38 L598.6 262.59 L598.8 262.57 L599 260.41 L599.2 260.96 L599.4 261.68 L599.6 262.86 L599.8 261.89 L600 262.87 L600.2 262.27 L600.4 262.25 L600.6 260.7 L600.8 262.22 L601 261.87 L601.2 261.71 L601.4 261.56 L601.6 261.23 L601.8 262.14 L602 263.15 L602.2 262.2 L602.4 261.82 L602.6 262.09 L602.8 261.65 L603 262.14 L603.2 262.83 L603.4 262.79 L603.6 262.92 L603.8 262.58 L604 262.76 L604.2 261.89 L604.4 263.75 L604.6 261.98 L604.8 262.64 L605 263.18 L605.2 261.08 L605.4 263.6 L605.6 262.68 L605.8 262.36 L606 263.06 L606.2 263.22 L606.4 263.18 L606.6 264.06 L606.8 262.83 L607 262.79 L607.2 261.8 L607.4 263.54 L607.6 264.21 L607.8 263.72 L608 262.37 L608.2 262.64 L608.4 262.47 L608.6 264.05 L608.8 264.36 L609 263.21 L609.2 263.02 L609.4 263.2 L609.6 262.48 L609.8 263.82 L610 263.41 L610.2 264.92 L610.4 263.22 L610.6 263.75 L610.8 264.57 L611 263.8 L611.2 263.11 L611.4 264.56 L611.6 264.43 L611.8 264.06 L612 263.31 L612.2 263.65 L612.4 263.12 L612.6 263.19 L612.8 264.23 L613 264.23 L613.2 264.78 L613.4 264.86 L613.6 264 L613.8 262.88 L614 264.7 L614.2 264.5 L614.4 263.8 L614.6 264.33 L614.8 264.66 L615 264.7 L615.2 264.04 L615.4 264.79 L615.6 262.74 L615.8 263.41 L616 264.74 L616.2 264.15 L616.4 265.03 L616.6 264.5 L616.8 264.33 L617 264.51 L617.2 263.88 L617.4 264.91 L617.6 265.27 L617.8 264.93 L618 265.2 L618.2 263.63 L618.4 264.87 L618.6 264.72 L618.8 265.63 L619 264.02 L619.2 265.24 L619.4 264.43 L619.6 264.96 L619.8 264.59 L620 264.55 L620.2 264.55 L620.4 264.59 L620.6 264.87 L620.8 263.87 L621 264.31 L621.2 263.93 L621.4 265.08 L621.6 264.75 L621.8 264.83 L622 264.08 L622.2 264.68 L622.4 265.08 L622.6 265.01 L622.8 265.49 L623 265.92 L623.2 265.17 L623.4 266.9 L623.6 264.93 L623.8 266 L624 263.59 L624.2 264.17 L624.4 265.23 L624.6 264.61 L624.8 265.36 L625 264.88 L625.2 264.24 L625.4 265.92 L625.6 265.05 L625.8 265.18 L626 264.66 L626.2 265.35 L626.4 265.33 L626.6 264.75 L626.8 264.54 L627 265.26 L627.2 264.59 L627.4 264.64 L627.6 265.26 L627.8 265.37 L628 265.83 L628.2 265.57 L628.4 266.51 L628.6 264.87 L628.8 264.54 L629 264.39 L629.2 264.38 L629.4 265.08 L629.6 264.92 L629.8 264.49 L630 265.83 L630.2 265.73 L630.4 264.56 L630.6 264.47 L630.8 266.09 L631 264.86 L631.2 265.21 L631.4 264.67 L631.6 265.57 L631.8 264.53 L632 265.93 L632.2 266.2 L632.4 264.56 L632.6 266.22 L632.8 265.78 L633 265.69 L633.2 266.51 L633.4 265.31 L633.6 264.8 L633.8 265.87 L634 265 L634.2 265.96 L634.4 265.73 L634.6 265.19 L634.8 266.13 L635 265.7 L635.2 265.17 L635.4 266.04 L635.6 265.02 L635.8 266.26 L636 265.79 L636.2 265.71 L636.4 266.13 L636.6 267.07 L636.8 265.01 L637 266.88 L637.2 266.06 L637.4 266.56 L637.6 265.99 L637.8 265.91 L638 265.78 L638.2 265.56 L638.4 266.54 L638.6 264.92 L638.8 267.33 L639 266.09 L639.2 266.07 L639.4 266.03 L639.6 266.67 L639.8 265.69 L640 266.86 L640.2 266.2 L640.4 265.95 L640.6 265.82 L640.8 267.12 L641 264.9 L641.2 265.44 L641.4 265.82 L641.6 265.5 L641.8 266.4 L642 265.78 L642.2 265.85 L642.4 265.83 L642.6 265.1 L642.8 265.7 L643 265.56 L643.2 266.9 L643.4 266.96 L643.6 266.79 L643.8 265.41 L644 265.81 L644.2 264.86 L644.4 264.97 L644.6 265.81 L644.8 265.24 L645 266.07 L645.2 266.49 L645.4 266.12 L645.6 265.54 L645.8 266.17 L646 266.39 L646.2 266.06 L646.4 265.71 L646.6 265.4 L646.8 266.48 L647 266.76 L647.2 265.87 L647.4 266 L647.6 266.07 L647.8 265.9 L648 266.36 L648.2 266.53 L648.4 264.97 L648.6 265.34 L648.8 266.76 L649 266.23 L649.2 266.18 L649.4 266.01 L649.6 266.8 L649.8 266.12 L650 267.09 L650.2 266.57 L650.4 265.51 L650.6 267.03 L650.8 266.14 L651 266.65 L651.2 265.39 L651.4 265.8 L651.6 267.39 L651.8 266.8 L652 266.35 L652.2 267.4 L652.4 266.01 L652.6 267.01 L652.8 266.06 L653 265.91 L653.2 265.96 L653.4 266.78 L653.6 265.85 L653.8 267.11 L654 266.19 L654.2 266.48 L654.4 265.79 L654.6 266.51 L654.8 266.46 L655 265.93 L655.2 267.16 L655.4 267.21 L655.6 267.19 L655.8 266.63 L656 266.16 L656.2 267.24 L656.4 266.04 L656.6 266.99 L656.8 265.5 L657 266.73 L657.2 266.72 L657.4 266.01 L657.6 266.93 L657.8 266.87 L658 266.19 L658.2 267.08 L658.4 265.15 L658.6 266.96 L658.8 266.32 L659 266.73 L659.2 266.59 L659.4 268.25 L659.6 266.94 L659.8 267.14 L660 266.77 L660.2 267.47 L660.4 267.33 L660.6 266.07 L660.8 266.45 L661 265.91 L661.2 268.46 L661.4 266.91 L661.6 266.76 L661.8 267.14 L662 267.95 L662.2 266.42 L662.4 268 L662.6 267.28 L662.8 265.91 L663 267.78 L663.2 266.87 L663.4 266.52 L663.6 267.24 L663.8 267.07 L664 267.13 L664.2 265.4 L664.4 267.27 L664.6 267.26 L664.8 266.38 L665 266.44 L665.2 266.73 L665.4 266.97 L665.6 266.79 L665.8 266.58 L666 266.99 L666.2 266.68 L666.4 265.92 L666.6 268.03 L666.8 267.49 L667 266.73 L667.2 267.01 L667.4 266.64 L667.6 265.64 L667.8 267.74 L668 267.15 L668.2 267.99 L668.4 266.92 L668.6 267.38 L668.8 267.34 L669 267.25 L669.2 266.68 L669.4 266.82 L669.6 266.78 L669.8 266.62 L670 266.9 L670.2 267.55 L670.4 268.61 L670.6 266.51 L670.8 266.61 L671 268.36 L671.2 266.88 L671.4 266.55 L671.6 267.11 L671.8 266.38 L672 266.58 L672.2 268.25 L672.4 266.08 L672.6 266.92 L672.8 268.25 L673 268.12 L673.2 268.64 L673.4 267.93 L673.6 266.93 L673.8 266.99" fill="none" stroke="#1008f2" stroke-width="2.0" stroke-linejoin="round" stroke-linecap="round" clip-path="url(#cb)"/>
<line x1="429.95" y1="274.6" x2="429.95" y2="271" stroke="#000" stroke-width="1.4"/>
<line x1="429.95" y1="7.9" x2="429.95" y2="11.5" stroke="#000" stroke-width="1.4"/>
<line x1="438.4" y1="274.6" x2="438.4" y2="271" stroke="#000" stroke-width="1.4"/>
<line x1="438.4" y1="7.9" x2="438.4" y2="11.5" stroke="#000" stroke-width="1.4"/>
<line x1="446.85" y1="274.6" x2="446.85" y2="271" stroke="#000" stroke-width="1.4"/>
<line x1="446.85" y1="7.9" x2="446.85" y2="11.5" stroke="#000" stroke-width="1.4"/>
<line x1="455.3" y1="274.6" x2="455.3" y2="271" stroke="#000" stroke-width="1.4"/>
<line x1="455.3" y1="7.9" x2="455.3" y2="11.5" stroke="#000" stroke-width="1.4"/>
<line x1="472.2" y1="274.6" x2="472.2" y2="271" stroke="#000" stroke-width="1.4"/>
<line x1="472.2" y1="7.9" x2="472.2" y2="11.5" stroke="#000" stroke-width="1.4"/>
<line x1="480.65" y1="274.6" x2="480.65" y2="271" stroke="#000" stroke-width="1.4"/>
<line x1="480.65" y1="7.9" x2="480.65" y2="11.5" stroke="#000" stroke-width="1.4"/>
<line x1="489.1" y1="274.6" x2="489.1" y2="271" stroke="#000" stroke-width="1.4"/>
<line x1="489.1" y1="7.9" x2="489.1" y2="11.5" stroke="#000" stroke-width="1.4"/>
<line x1="497.55" y1="274.6" x2="497.55" y2="271" stroke="#000" stroke-width="1.4"/>
<line x1="497.55" y1="7.9" x2="497.55" y2="11.5" stroke="#000" stroke-width="1.4"/>
<line x1="514.45" y1="274.6" x2="514.45" y2="271" stroke="#000" stroke-width="1.4"/>
<line x1="514.45" y1="7.9" x2="514.45" y2="11.5" stroke="#000" stroke-width="1.4"/>
<line x1="522.9" y1="274.6" x2="522.9" y2="271" stroke="#000" stroke-width="1.4"/>
<line x1="522.9" y1="7.9" x2="522.9" y2="11.5" stroke="#000" stroke-width="1.4"/>
<line x1="531.35" y1="274.6" x2="531.35" y2="271" stroke="#000" stroke-width="1.4"/>
<line x1="531.35" y1="7.9" x2="531.35" y2="11.5" stroke="#000" stroke-width="1.4"/>
<line x1="539.8" y1="274.6" x2="539.8" y2="271" stroke="#000" stroke-width="1.4"/>
<line x1="539.8" y1="7.9" x2="539.8" y2="11.5" stroke="#000" stroke-width="1.4"/>
<line x1="556.7" y1="274.6" x2="556.7" y2="271" stroke="#000" stroke-width="1.4"/>
<line x1="556.7" y1="7.9" x2="556.7" y2="11.5" stroke="#000" stroke-width="1.4"/>
<line x1="565.15" y1="274.6" x2="565.15" y2="271" stroke="#000" stroke-width="1.4"/>
<line x1="565.15" y1="7.9" x2="565.15" y2="11.5" stroke="#000" stroke-width="1.4"/>
<line x1="573.6" y1="274.6" x2="573.6" y2="271" stroke="#000" stroke-width="1.4"/>
<line x1="573.6" y1="7.9" x2="573.6" y2="11.5" stroke="#000" stroke-width="1.4"/>
<line x1="582.05" y1="274.6" x2="582.05" y2="271" stroke="#000" stroke-width="1.4"/>
<line x1="582.05" y1="7.9" x2="582.05" y2="11.5" stroke="#000" stroke-width="1.4"/>
<line x1="598.95" y1="274.6" x2="598.95" y2="271" stroke="#000" stroke-width="1.4"/>
<line x1="598.95" y1="7.9" x2="598.95" y2="11.5" stroke="#000" stroke-width="1.4"/>
<line x1="607.4" y1="274.6" x2="607.4" y2="271" stroke="#000" stroke-width="1.4"/>
<line x1="607.4" y1="7.9" x2="607.4" y2="11.5" stroke="#000" stroke-width="1.4"/>
<line x1="615.85" y1="274.6" x2="615.85" y2="271" stroke="#000" stroke-width="1.4"/>
<line x1="615.85" y1="7.9" x2="615.85" y2="11.5" stroke="#000" stroke-width="1.4"/>
<line x1="624.3" y1="274.6" x2="624.3" y2="271" stroke="#000" stroke-width="1.4"/>
<line x1="624.3" y1="7.9" x2="624.3" y2="11.5" stroke="#000" stroke-width="1.4"/>
<line x1="641.2" y1="274.6" x2="641.2" y2="271" stroke="#000" stroke-width="1.4"/>
<line x1="641.2" y1="7.9" x2="641.2" y2="11.5" stroke="#000" stroke-width="1.4"/>
<line x1="649.65" y1="274.6" x2="649.65" y2="271" stroke="#000" stroke-width="1.4"/>
<line x1="649.65" y1="7.9" x2="649.65" y2="11.5" stroke="#000" stroke-width="1.4"/>
<line x1="658.1" y1="274.6" x2="658.1" y2="271" stroke="#000" stroke-width="1.4"/>
<line x1="658.1" y1="7.9" x2="658.1" y2="11.5" stroke="#000" stroke-width="1.4"/>
<line x1="666.55" y1="274.6" x2="666.55" y2="271" stroke="#000" stroke-width="1.4"/>
<line x1="666.55" y1="7.9" x2="666.55" y2="11.5" stroke="#000" stroke-width="1.4"/>
<line x1="421.5" y1="274.6" x2="421.5" y2="268.6" stroke="#000" stroke-width="1.4"/>
<line x1="421.5" y1="7.9" x2="421.5" y2="13.9" stroke="#000" stroke-width="1.4"/>
<line x1="463.75" y1="274.6" x2="463.75" y2="268.6" stroke="#000" stroke-width="1.4"/>
<line x1="463.75" y1="7.9" x2="463.75" y2="13.9" stroke="#000" stroke-width="1.4"/>
<line x1="506" y1="274.6" x2="506" y2="268.6" stroke="#000" stroke-width="1.4"/>
<line x1="506" y1="7.9" x2="506" y2="13.9" stroke="#000" stroke-width="1.4"/>
<line x1="548.25" y1="274.6" x2="548.25" y2="268.6" stroke="#000" stroke-width="1.4"/>
<line x1="548.25" y1="7.9" x2="548.25" y2="13.9" stroke="#000" stroke-width="1.4"/>
<line x1="590.5" y1="274.6" x2="590.5" y2="268.6" stroke="#000" stroke-width="1.4"/>
<line x1="590.5" y1="7.9" x2="590.5" y2="13.9" stroke="#000" stroke-width="1.4"/>
<line x1="632.75" y1="274.6" x2="632.75" y2="268.6" stroke="#000" stroke-width="1.4"/>
<line x1="632.75" y1="7.9" x2="632.75" y2="13.9" stroke="#000" stroke-width="1.4"/>
<line x1="675" y1="274.6" x2="675" y2="268.6" stroke="#000" stroke-width="1.4"/>
<line x1="675" y1="7.9" x2="675" y2="13.9" stroke="#000" stroke-width="1.4"/>
<line x1="421.5" y1="251.72" x2="425.1" y2="251.72" stroke="#000" stroke-width="1.4"/>
<line x1="675" y1="251.72" x2="671.4" y2="251.72" stroke="#000" stroke-width="1.4"/>
<line x1="421.5" y1="235.47" x2="425.1" y2="235.47" stroke="#000" stroke-width="1.4"/>
<line x1="675" y1="235.47" x2="671.4" y2="235.47" stroke="#000" stroke-width="1.4"/>
<line x1="421.5" y1="219.22" x2="425.1" y2="219.22" stroke="#000" stroke-width="1.4"/>
<line x1="675" y1="219.22" x2="671.4" y2="219.22" stroke="#000" stroke-width="1.4"/>
<line x1="421.5" y1="186.71" x2="425.1" y2="186.71" stroke="#000" stroke-width="1.4"/>
<line x1="675" y1="186.71" x2="671.4" y2="186.71" stroke="#000" stroke-width="1.4"/>
<line x1="421.5" y1="170.45" x2="425.1" y2="170.45" stroke="#000" stroke-width="1.4"/>
<line x1="675" y1="170.45" x2="671.4" y2="170.45" stroke="#000" stroke-width="1.4"/>
<line x1="421.5" y1="154.19" x2="425.1" y2="154.19" stroke="#000" stroke-width="1.4"/>
<line x1="675" y1="154.19" x2="671.4" y2="154.19" stroke="#000" stroke-width="1.4"/>
<line x1="421.5" y1="121.69" x2="425.1" y2="121.69" stroke="#000" stroke-width="1.4"/>
<line x1="675" y1="121.69" x2="671.4" y2="121.69" stroke="#000" stroke-width="1.4"/>
<line x1="421.5" y1="105.43" x2="425.1" y2="105.43" stroke="#000" stroke-width="1.4"/>
<line x1="675" y1="105.43" x2="671.4" y2="105.43" stroke="#000" stroke-width="1.4"/>
<line x1="421.5" y1="89.18" x2="425.1" y2="89.18" stroke="#000" stroke-width="1.4"/>
<line x1="675" y1="89.18" x2="671.4" y2="89.18" stroke="#000" stroke-width="1.4"/>
<line x1="421.5" y1="56.66" x2="425.1" y2="56.66" stroke="#000" stroke-width="1.4"/>
<line x1="675" y1="56.66" x2="671.4" y2="56.66" stroke="#000" stroke-width="1.4"/>
<line x1="421.5" y1="40.41" x2="425.1" y2="40.41" stroke="#000" stroke-width="1.4"/>
<line x1="675" y1="40.41" x2="671.4" y2="40.41" stroke="#000" stroke-width="1.4"/>
<line x1="421.5" y1="24.16" x2="425.1" y2="24.16" stroke="#000" stroke-width="1.4"/>
<line x1="675" y1="24.16" x2="671.4" y2="24.16" stroke="#000" stroke-width="1.4"/>
<line x1="421.5" y1="267.98" x2="427.5" y2="267.98" stroke="#000" stroke-width="1.4"/>
<line x1="675" y1="267.98" x2="669" y2="267.98" stroke="#000" stroke-width="1.4"/>
<line x1="421.5" y1="202.96" x2="427.5" y2="202.96" stroke="#000" stroke-width="1.4"/>
<line x1="675" y1="202.96" x2="669" y2="202.96" stroke="#000" stroke-width="1.4"/>
<line x1="421.5" y1="137.94" x2="427.5" y2="137.94" stroke="#000" stroke-width="1.4"/>
<line x1="675" y1="137.94" x2="669" y2="137.94" stroke="#000" stroke-width="1.4"/>
<line x1="421.5" y1="72.92" x2="427.5" y2="72.92" stroke="#000" stroke-width="1.4"/>
<line x1="675" y1="72.92" x2="669" y2="72.92" stroke="#000" stroke-width="1.4"/>
<line x1="421.5" y1="7.9" x2="427.5" y2="7.9" stroke="#000" stroke-width="1.4"/>
<line x1="675" y1="7.9" x2="669" y2="7.9" stroke="#000" stroke-width="1.4"/>
<rect x="421.5" y="7.9" width="253.5" height="266.7" fill="none" stroke="#000" stroke-width="2"/>
<text x="421.5" y="290" font-family="Liberation Sans" font-size="11.8" font-weight="bold" text-anchor="middle" fill="#000">550</text>
<text x="463.75" y="290" font-family="Liberation Sans" font-size="11.8" font-weight="bold" text-anchor="middle" fill="#000">600</text>
<text x="506" y="290" font-family="Liberation Sans" font-size="11.8" font-weight="bold" text-anchor="middle" fill="#000">650</text>
<text x="548.25" y="290" font-family="Liberation Sans" font-size="11.8" font-weight="bold" text-anchor="middle" fill="#000">700</text>
<text x="590.5" y="290" font-family="Liberation Sans" font-size="11.8" font-weight="bold" text-anchor="middle" fill="#000">750</text>
<text x="632.75" y="290" font-family="Liberation Sans" font-size="11.8" font-weight="bold" text-anchor="middle" fill="#000">800</text>
<text x="675" y="290" font-family="Liberation Sans" font-size="11.8" font-weight="bold" text-anchor="middle" fill="#000">850</text>
<text x="414.6" y="271.78" font-family="Liberation Sans" font-size="11.8" font-weight="bold" text-anchor="end" fill="#000">600</text>
<text x="414.6" y="206.76" font-family="Liberation Sans" font-size="11.8" font-weight="bold" text-anchor="end" fill="#000">800</text>
<text x="414.6" y="141.74" font-family="Liberation Sans" font-size="11.8" font-weight="bold" text-anchor="end" fill="#000">1000</text>
<text x="414.6" y="76.72" font-family="Liberation Sans" font-size="11.8" font-weight="bold" text-anchor="end" fill="#000">1200</text>
<text x="414.6" y="11.7" font-family="Liberation Sans" font-size="11.8" font-weight="bold" text-anchor="end" fill="#000">1400</text>
<text x="548.2" y="313.2" font-family="Liberation Sans" font-size="14.3" font-weight="bold" text-anchor="middle" fill="#000" textLength="115.8" lengthAdjust="spacingAndGlyphs">Wavelength (nm)</text>
<text x="380.1" y="194.2" font-family="Liberation Sans" font-size="14.4" font-weight="bold" text-anchor="start" fill="#000" textLength="120.5" lengthAdjust="spacingAndGlyphs" transform="rotate(-90 380.1 194.2)">PL intensity (a.u.)</text>
<text x="349.7" y="17.9" font-family="Liberation Serif" font-size="22.8" font-weight="bold" text-anchor="start" fill="#000" textLength="29" lengthAdjust="spacingAndGlyphs">(b)</text>
<text x="432.3" y="27.2" font-family="Liberation Sans" font-size="13.7" font-weight="bold" text-anchor="start" fill="#000">P=10 <tspan font-family="Liberation Serif" font-size="15.2">μW</tspan></text>
<line x1="543" y1="20.3" x2="570" y2="20.3" stroke="#000" stroke-width="2"/>
<line x1="543" y1="37.9" x2="570" y2="37.9" stroke="#f2393d" stroke-width="2"/>
<line x1="543" y1="55" x2="570" y2="55" stroke="#1008f2" stroke-width="2"/>
<text x="573.7" y="24.9" font-family="Liberation Serif" font-size="11.8" font-weight="bold"><tspan>1L MoS</tspan><tspan font-size="7.6" dy="2.8">2</tspan></text>
<text x="573.7" y="42.3" font-family="Liberation Serif" font-size="11.8" font-weight="bold"><tspan>FL SnSe</tspan><tspan font-size="7.6" dy="2.8">2</tspan></text>
<text x="573.7" y="59.4" font-family="Liberation Serif" font-size="11.8" font-weight="bold"><tspan>1L MoS</tspan><tspan font-size="7.6" dy="2.8">2</tspan><tspan dy="-2.8">/FL SnSe</tspan><tspan font-size="7.6" dy="2.8">2</tspan></text>
<clipPath id="cc"><rect x="69.4" y="340.4" width="251.6" height="253.20000000000005"/></clipPath>
<rect x="73.1" y="365.1" width="76.9" height="60.7" fill="#a4767f"/>
<polygon points="122.7,365.1 150,365.1 150,398.8 143.6,393.9 138.7,386.5 136.2,378 131.3,374.3" fill="#bcd2b8"/>
<polygon points="92.8,365.1 102.3,365.1 101.6,376.9 99.4,391.5 98.7,425.8 90.7,425.8 89.9,404.6 91.4,384.2" fill="#d3e6df"/><polygon points="90.2,405 95.5,404 96,425.8 90.7,425.8" fill="#9fd8e0"/>
<polygon points="91.6,386 96.5,384 96.8,400 91.2,398" fill="#e9c8d0"/>
<polygon points="100.7,386.5 106.8,390.3 108,411.1 100.7,402.5" fill="#7c4a92"/>
<polygon points="98.2,393.9 108,411.1 110.5,418.4 104,417 98.2,404.9" fill="#9cd6dc"/>
<polygon points="110.5,365.1 114.1,365.1 132.5,371.9 128.9,386.5 127.6,404.9 124,425.8 114.1,425.8 108,411.1 106.8,390.3 109.2,374.3" fill="#9cdce2"/>
<polygon points="125.2,409.8 142.3,418.4 138.7,419.6 126.4,417.2" fill="#8552a0"/>
<polygon points="127,399 137,407 131,408 126.5,404" fill="#9a5a90"/>
<polyline points="106.5,389 123.5,387.5 128.5,393 136,406 128,405 110,391" fill="none" stroke="#d8454a" stroke-width="0.5"/>
<rect x="129.7" y="422.7" width="20" height="2.8" fill="#d2261e"/>
<text x="76.1" y="378.6" font-family="Liberation Sans" font-size="13.6" font-weight="bold" text-anchor="start" fill="#000">SiO<tspan font-size="10.5" dy="4">2</tspan></text>
<rect x="225.4" y="462.5" width="85.9" height="89.20000000000005" fill="#fff" stroke="#222" stroke-width="1"/>
<line x1="225.4" y1="551.7" x2="225.4" y2="549.7" stroke="#333" stroke-width="0.8"/>
<line x1="225.4" y1="462.5" x2="225.4" y2="464.5" stroke="#333" stroke-width="0.8"/>
<text x="225.4" y="557.7" font-family="Liberation Sans" font-size="6.4" font-weight="normal" text-anchor="middle" fill="#222" textLength="10.5" lengthAdjust="spacingAndGlyphs">550</text>
<line x1="239.72" y1="551.7" x2="239.72" y2="549.7" stroke="#333" stroke-width="0.8"/>
<line x1="239.72" y1="462.5" x2="239.72" y2="464.5" stroke="#333" stroke-width="0.8"/>
<text x="239.72" y="557.7" font-family="Liberation Sans" font-size="6.4" font-weight="normal" text-anchor="middle" fill="#222" textLength="10.5" lengthAdjust="spacingAndGlyphs">600</text>
<line x1="254.03" y1="551.7" x2="254.03" y2="549.7" stroke="#333" stroke-width="0.8"/>
<line x1="254.03" y1="462.5" x2="254.03" y2="464.5" stroke="#333" stroke-width="0.8"/>
<text x="254.03" y="557.7" font-family="Liberation Sans" font-size="6.4" font-weight="normal" text-anchor="middle" fill="#222" textLength="10.5" lengthAdjust="spacingAndGlyphs">650</text>
<line x1="268.35" y1="551.7" x2="268.35" y2="549.7" stroke="#333" stroke-width="0.8"/>
<line x1="268.35" y1="462.5" x2="268.35" y2="464.5" stroke="#333" stroke-width="0.8"/>
<text x="268.35" y="557.7" font-family="Liberation Sans" font-size="6.4" font-weight="normal" text-anchor="middle" fill="#222" textLength="10.5" lengthAdjust="spacingAndGlyphs">700</text>
<line x1="282.67" y1="551.7" x2="282.67" y2="549.7" stroke="#333" stroke-width="0.8"/>
<line x1="282.67" y1="462.5" x2="282.67" y2="464.5" stroke="#333" stroke-width="0.8"/>
<text x="282.67" y="557.7" font-family="Liberation Sans" font-size="6.4" font-weight="normal" text-anchor="middle" fill="#222" textLength="10.5" lengthAdjust="spacingAndGlyphs">750</text>
<line x1="296.98" y1="551.7" x2="296.98" y2="549.7" stroke="#333" stroke-width="0.8"/>
<line x1="296.98" y1="462.5" x2="296.98" y2="464.5" stroke="#333" stroke-width="0.8"/>
<text x="296.98" y="557.7" font-family="Liberation Sans" font-size="6.4" font-weight="normal" text-anchor="middle" fill="#222" textLength="10.5" lengthAdjust="spacingAndGlyphs">800</text>
<line x1="311.3" y1="551.7" x2="311.3" y2="549.7" stroke="#333" stroke-width="0.8"/>
<line x1="311.3" y1="462.5" x2="311.3" y2="464.5" stroke="#333" stroke-width="0.8"/>
<text x="311.3" y="557.7" font-family="Liberation Sans" font-size="6.4" font-weight="normal" text-anchor="middle" fill="#222" textLength="10.5" lengthAdjust="spacingAndGlyphs">850</text>
<line x1="225.4" y1="482.5" x2="227.4" y2="482.5" stroke="#333" stroke-width="0.8"/>
<line x1="311.3" y1="482.5" x2="309.3" y2="482.5" stroke="#333" stroke-width="0.8"/>
<line x1="225.4" y1="504.5" x2="227.4" y2="504.5" stroke="#333" stroke-width="0.8"/>
<line x1="311.3" y1="504.5" x2="309.3" y2="504.5" stroke="#333" stroke-width="0.8"/>
<line x1="225.4" y1="526.5" x2="227.4" y2="526.5" stroke="#333" stroke-width="0.8"/>
<line x1="311.3" y1="526.5" x2="309.3" y2="526.5" stroke="#333" stroke-width="0.8"/>
<line x1="225.4" y1="542.5" x2="227.4" y2="542.5" stroke="#333" stroke-width="0.8"/>
<line x1="311.3" y1="542.5" x2="309.3" y2="542.5" stroke="#333" stroke-width="0.8"/>
<path d="M226 510.8 L226.18 507.69 L226.36 506.75 L226.54 496.36 L226.72 509.08 L226.9 507.6 L227.08 506.58 L227.26 510.68 L227.44 511.21 L227.62 504.09 L227.8 504.97 L227.98 506.96 L228.16 512.57 L228.34 511.97 L228.52 484.5 L228.7 503.93 L228.88 512.86 L229.06 516.9 L229.24 509.21 L229.42 506.09 L229.6 514.65 L229.78 507.92 L229.96 512.9 L230.14 516.87 L230.32 512.47 L230.5 509.82 L230.68 512.99 L230.86 506.41 L231.04 508.65 L231.22 506.76 L231.4 508.55 L231.58 507.21 L231.76 508.67 L231.94 507.74 L232.12 510.01 L232.3 509.9 L232.48 511.03 L232.66 516.35 L232.84 502.2 L233.02 515.86 L233.2 508.51 L233.38 503.74 L233.56 508.84 L233.74 510.12 L233.92 514.81 L234.1 504.6 L234.28 510.74 L234.46 510.27 L234.64 501.63 L234.82 504.03 L235 512.61 L235.18 513.07 L235.36 514.96 L235.54 517.59 L235.72 511.64 L235.9 510.34 L236.08 515.55 L236.26 505.71 L236.44 515.44 L236.62 511.61 L236.8 502.19 L236.98 516.05 L237.16 505.95 L237.34 509.41 L237.52 520.11 L237.7 511.78 L237.88 507.21 L238.06 517.25 L238.24 504.56 L238.42 507.67 L238.6 512.22 L238.78 511.92 L238.96 512.58 L239.14 511.51 L239.32 516.18 L239.5 514.59 L239.68 512.57 L239.86 506.42 L240.04 506.27 L240.22 500.53 L240.4 512.98 L240.58 500.92 L240.76 513.88 L240.94 518.51 L241.12 504.54 L241.3 506.34 L241.48 507.33 L241.66 513.59 L241.84 505.45 L242.02 508.96 L242.2 507.06 L242.38 508.36 L242.56 515.75 L242.74 499.71 L242.92 509.87 L243.1 510.82 L243.28 513.62 L243.46 503.42 L243.64 514.83 L243.82 511.55 L244 513.65 L244.18 509.79 L244.36 501.56 L244.54 506.31 L244.72 513.33 L244.9 509.57 L245.08 509.15 L245.26 524.24 L245.44 519.93 L245.62 509.17 L245.8 518.62 L245.98 499.76 L246.16 499.49 L246.34 513.48 L246.52 508.05 L246.7 512.08 L246.88 511.77 L247.06 508.86 L247.24 512.55 L247.42 510 L247.6 501.92 L247.78 510.32 L247.96 510.15 L248.14 518.06 L248.32 503.84 L248.5 509.34 L248.68 507.22 L248.86 508.62 L249.04 517.23 L249.22 511.08 L249.4 507.04 L249.58 510.01 L249.76 512.96 L249.94 504.52 L250.12 508.03 L250.3 516.71 L250.48 513.42 L250.66 509.11 L250.84 507.04 L251.02 508.61 L251.2 501.92 L251.38 513.91 L251.56 511.03 L251.74 510.08 L251.92 503.21 L252.1 506.02 L252.28 511.94 L252.46 510.73 L252.64 513.42 L252.82 511.97 L253 514.08 L253.18 506.36 L253.36 507.08 L253.54 505.48 L253.72 504.14 L253.9 513.54 L254.08 512.19 L254.26 511.4 L254.44 504.19 L254.62 504.83 L254.8 509.56 L254.98 507.94 L255.16 510.54 L255.34 506.64 L255.52 513.18 L255.7 518.72 L255.88 517.54 L256.06 517.89 L256.24 510.55 L256.42 514.67 L256.6 508.48 L256.78 514.75 L256.96 508.57 L257.14 508.08 L257.32 507.38 L257.5 513.88 L257.68 511.89 L257.86 511.51 L258.04 505.2 L258.22 511.4 L258.4 503.85 L258.58 517.91 L258.76 510.24 L258.94 490 L259.12 510.47 L259.3 503.42 L259.48 504.49 L259.66 510.99 L259.84 518.34 L260.02 505.88 L260.2 507.9 L260.38 511.11 L260.56 503.29 L260.74 503.29 L260.92 509.51 L261.1 511.32 L261.28 509.72 L261.46 519.01 L261.64 510.91 L261.82 513.48 L262 519.47 L262.18 520.03 L262.36 504.27 L262.54 510.14 L262.72 517.58 L262.9 505.43 L263.08 507.67 L263.26 505.92 L263.44 505.66 L263.62 506.8 L263.8 513.15 L263.98 518.43 L264.16 519.73 L264.34 504.55 L264.52 503.03 L264.7 512.26 L264.88 510.95 L265.06 514.31 L265.24 512.05 L265.42 504.09 L265.6 514.74 L265.78 502.87 L265.96 509.53 L266.14 514.38 L266.32 514.61 L266.5 520.51 L266.68 501.67 L266.86 514.68 L267.04 516.39 L267.22 511.55 L267.4 516.23 L267.58 507.91 L267.76 516.39 L267.94 515.86 L268.12 508.6 L268.3 510.15 L268.48 512.47 L268.66 510.27 L268.84 518.47 L269.02 514.33 L269.2 519.83 L269.38 519.2 L269.56 513.88 L269.74 512.7 L269.92 509.11 L270.1 509.82 L270.28 509.87 L270.46 515.42 L270.64 509.54 L270.82 514.19 L271 514.76 L271.18 511.49 L271.36 513 L271.54 520.86 L271.72 521.69 L271.9 510.23 L272.08 513.08 L272.26 512.25 L272.44 512.74 L272.62 521.46 L272.8 517.41 L272.98 520.19 L273.16 522.7 L273.34 512.08 L273.52 513.32 L273.7 514.44 L273.88 519.2 L274.06 513.86 L274.24 517.42 L274.42 519.95 L274.6 526.29 L274.78 516.54 L274.96 510.63 L275.14 506.98 L275.32 519.85 L275.5 516.68 L275.68 510.01 L275.86 512.11 L276.04 512.4 L276.22 506.54 L276.4 515.81 L276.58 510.84 L276.76 513.23 L276.94 518.22 L277.12 514.23 L277.3 517.32 L277.48 516.76 L277.66 514.91 L277.84 515.01 L278.02 523.73 L278.2 514 L278.38 522.65 L278.56 510.47 L278.74 518.38 L278.92 515.72 L279.1 511.42 L279.28 502.24 L279.46 522.62 L279.64 509.44 L279.82 510.38 L280 521.86 L280.18 515.32 L280.36 516.41 L280.54 513.87 L280.72 507.91 L280.9 519.29 L281.08 510.81 L281.26 516.24 L281.44 517.95 L281.62 520.89 L281.8 514.19 L281.98 513.79 L282.16 514.15 L282.34 506.42 L282.52 511.69 L282.7 510.51 L282.88 509.83 L283.06 516.18 L283.24 513.9 L283.42 523.08 L283.6 522.58 L283.78 506.42 L283.96 516.06 L284.14 510.69 L284.32 518.18 L284.5 516.29 L284.68 520.02 L284.86 523.81 L285.04 519.25 L285.22 514.18 L285.4 503.6 L285.58 509.97 L285.76 511.57 L285.94 513.34 L286.12 510.86 L286.3 523.57 L286.48 514.95 L286.66 522 L286.84 514.17 L287.02 523.75 L287.2 510.07 L287.38 518.73 L287.56 509.49 L287.74 518.02 L287.92 523.53 L288.1 508.09 L288.28 511.77 L288.46 517.15 L288.64 515.1 L288.82 509.44 L289 521.59 L289.18 516.3 L289.36 522.28 L289.54 517.62 L289.72 510.58 L289.9 513.82 L290.08 522.79 L290.26 509.52 L290.44 513.96 L290.62 519.1 L290.8 521.1 L290.98 520.22 L291.16 501.42 L291.34 526.31 L291.52 515.52 L291.7 516.39 L291.88 516.34 L292.06 515.26 L292.24 511.75 L292.42 514.84 L292.6 522.78 L292.78 509.91 L292.96 496.53 L293.14 519.06 L293.32 518.13 L293.5 520.03 L293.68 524.84 L293.86 513.09 L294.04 517.44 L294.22 519.02 L294.4 522.54 L294.58 521.58 L294.76 512.62 L294.94 510.08 L295.12 522.04 L295.3 508.99 L295.48 522.08 L295.66 514.88 L295.84 515.08 L296.02 512.54 L296.2 524.14 L296.38 518.23 L296.56 514.89 L296.74 519.82 L296.92 516.5 L297.1 519.78 L297.28 523.28 L297.46 515.7 L297.64 519.45 L297.82 519.3 L298 522.47 L298.18 519.9 L298.36 517.22 L298.54 514 L298.72 518.52 L298.9 512.11 L299.08 520.29 L299.26 517.45 L299.44 519.82 L299.62 514.71 L299.8 513.38 L299.98 512.86 L300.16 522.58 L300.34 516.24 L300.52 516.2 L300.7 508.74 L300.88 517.07 L301.06 500.76 L301.24 523.93 L301.42 516.25 L301.6 517.53 L301.78 510.59 L301.96 512.21 L302.14 520.39 L302.32 516.51 L302.5 519.59 L302.68 523.65 L302.86 520.75 L303.04 508.47 L303.22 512.88 L303.4 512.17 L303.58 513.28 L303.76 507.68 L303.94 507.84 L304.12 514.14 L304.3 514.86 L304.48 520.22 L304.66 516.21 L304.84 524.61 L305.02 509.04 L305.2 511.15 L305.38 519.04 L305.56 516.55 L305.74 513.13 L305.92 521.59 L306.1 523.14 L306.28 524.23 L306.46 516.04 L306.64 517.94 L306.82 519.09 L307 518.29 L307.18 522.93 L307.36 515.7 L307.54 519.85 L307.72 507.48 L307.9 521.74 L308.08 526 L308.26 518.03 L308.44 523.15 L308.62 510.22 L308.8 516.61 L308.98 510.83 L309.16 519.78 L309.34 520.78 L309.52 511.71 L309.7 514.25 L309.88 515.52 L310.06 529.98 L310.24 518.02 L310.42 518.97 L310.6 520.15 L310.78 519.86" fill="none" stroke="#f2393d" stroke-width="0.95" stroke-linejoin="miter"/>
<line x1="159.1" y1="584.3" x2="215.8" y2="540" stroke="#000" stroke-width="1.1"/>
<polygon points="220.2,536.6 212.5,538.3 216.2,543.2" fill="#000"/>
<path d="M69.2 588.14 L69.45 587.79 L69.7 588.07 L69.95 587.49 L70.2 588.22 L70.45 587.53 L70.7 587.99 L70.95 587.95 L71.2 587.75 L71.45 588.85 L71.7 587.81 L71.95 588.12 L72.2 588.31 L72.45 587.62 L72.7 588.38 L72.95 587.94 L73.2 588.28 L73.45 587.7 L73.7 587.66 L73.95 588.34 L74.2 588.12 L74.45 588.01 L74.7 588.16 L74.95 588.13 L75.2 587.62 L75.45 587.3 L75.7 587.46 L75.95 587.43 L76.2 587.3 L76.45 587.77 L76.7 587.8 L76.95 587.95 L77.2 588.02 L77.45 587.84 L77.7 587.88 L77.95 587.97 L78.2 587.65 L78.45 587.74 L78.7 587.96 L78.95 587.74 L79.2 587.77 L79.45 587.91 L79.7 588.34 L79.95 588.04 L80.2 587.84 L80.45 587.76 L80.7 587.9 L80.95 588.61 L81.2 586.99 L81.45 588.1 L81.7 588 L81.95 588.19 L82.2 587.59 L82.45 588.56 L82.7 588.23 L82.95 587.91 L83.2 587.97 L83.45 587.71 L83.7 587.94 L83.95 587.88 L84.2 588.2 L84.45 588.03 L84.7 587.89 L84.95 588.12 L85.2 588.08 L85.45 587.98 L85.7 587.45 L85.95 588.22 L86.2 587.56 L86.45 587.61 L86.7 587.88 L86.95 588.06 L87.2 588.33 L87.45 587.4 L87.7 588.34 L87.95 588.39 L88.2 587.76 L88.45 587.84 L88.7 587.72 L88.95 587.71 L89.2 587.49 L89.45 587.38 L89.7 587.83 L89.95 587.97 L90.2 588.43 L90.45 587.58 L90.7 587.26 L90.95 587.93 L91.2 587.74 L91.45 587.98 L91.7 587.76 L91.95 587.5 L92.2 587.67 L92.45 588.11 L92.7 587.95 L92.95 587.58 L93.2 588.13 L93.45 587.43 L93.7 587.7 L93.95 587.92 L94.2 587.45 L94.45 587.5 L94.7 587.86 L94.95 587.83 L95.2 587.77 L95.45 587.68 L95.7 587.51 L95.95 587.61 L96.2 588.75 L96.45 587.65 L96.7 588.29 L96.95 587.66 L97.2 588.24 L97.45 588.2 L97.7 587.96 L97.95 587.63 L98.2 587.41 L98.45 588.11 L98.7 587.43 L98.95 587.43 L99.2 588.27 L99.45 588.24 L99.7 587.81 L99.95 587.73 L100.2 587.6 L100.45 587.9 L100.7 587.65 L100.95 587.33 L101.2 587.56 L101.45 587.86 L101.7 587.3 L101.95 587.48 L102.2 587.81 L102.45 588.27 L102.7 587.82 L102.95 587.77 L103.2 588.34 L103.45 587.43 L103.7 587.53 L103.95 588 L104.2 588.06 L104.45 587.87 L104.7 586.95 L104.95 587.95 L105.2 587.92 L105.45 587.73 L105.7 587.91 L105.95 588.13 L106.2 587.72 L106.45 587.42 L106.7 587.14 L106.95 587.71 L107.2 587.47 L107.45 587.51 L107.7 587.34 L107.95 587.75 L108.2 587.89 L108.45 587.79 L108.7 587.32 L108.95 587.92 L109.2 587.74 L109.45 586.9 L109.7 587.82 L109.95 587.02 L110.2 587.29 L110.45 587.94 L110.7 587.81 L110.95 587.42 L111.2 587.34 L111.45 587.7 L111.7 587.06 L111.95 587.71 L112.2 587.5 L112.45 587.8 L112.7 587.54 L112.95 587.24 L113.2 587.62 L113.45 587.45 L113.7 587.13 L113.95 587.2 L114.2 587.24 L114.45 587.55 L114.7 587.76 L114.95 587.52 L115.2 587.16 L115.45 587.4 L115.7 587.68 L115.95 587.83 L116.2 587.22 L116.45 587.58 L116.7 587.37 L116.95 586.84 L117.2 587.09 L117.45 587.31 L117.7 587.32 L117.95 587.35 L118.2 587.28 L118.45 587.57 L118.7 587.16 L118.95 586.97 L119.2 587.59 L119.45 587.25 L119.7 587.67 L119.95 587.18 L120.2 587.82 L120.45 587.05 L120.7 587.05 L120.95 587.62 L121.2 587.94 L121.45 587.16 L121.7 587.87 L121.95 587.85 L122.2 587.62 L122.45 587.32 L122.7 586.72 L122.95 586.91 L123.2 587.13 L123.45 587.52 L123.7 587.31 L123.95 587.16 L124.2 587.38 L124.45 586.86 L124.7 587.46 L124.95 587.06 L125.2 587.72 L125.45 587.39 L125.7 587.11 L125.95 587.17 L126.2 586.85 L126.45 587.38 L126.7 587.02 L126.95 587.29 L127.2 587.66 L127.45 587.42 L127.7 587.46 L127.95 588.11 L128.2 587.52 L128.45 587.64 L128.7 587.23 L128.95 586.95 L129.2 587.37 L129.45 586.95 L129.7 586.4 L129.95 587.48 L130.2 587.4 L130.45 586.98 L130.7 587.68 L130.95 587.27 L131.2 587.15 L131.45 587.01 L131.7 587.64 L131.95 587.16 L132.2 587.14 L132.45 587.15 L132.7 587.05 L132.95 586.78 L133.2 587.07 L133.45 587.02 L133.7 587.5 L133.95 586.9 L134.2 587.5 L134.45 587.13 L134.7 587.05 L134.95 587.24 L135.2 587.3 L135.45 587.32 L135.7 587.47 L135.95 587.36 L136.2 586.83 L136.45 587.09 L136.7 587.78 L136.95 587.26 L137.2 586.59 L137.45 587.35 L137.7 587.81 L137.95 587.65 L138.2 587.32 L138.45 587.37 L138.7 587.5 L138.95 587.26 L139.2 587.16 L139.45 587.8 L139.7 587.19 L139.95 587.62 L140.2 586.84 L140.45 587.08 L140.7 586.97 L140.95 587.44 L141.2 587.13 L141.45 587.13 L141.7 587.05 L141.95 587.37 L142.2 587.62 L142.45 587.15 L142.7 587.52 L142.95 587.33 L143.2 587.15 L143.45 587.45 L143.7 587.74 L143.95 586.56 L144.2 587.56 L144.45 587.88 L144.7 587.3 L144.95 587.58 L145.2 587.65 L145.45 587.52 L145.7 587.44 L145.95 587.76 L146.2 587.7 L146.45 587.43 L146.7 587.57 L146.95 587.1 L147.2 587.33 L147.45 587.42 L147.7 587.37 L147.95 587.19 L148.2 587.77 L148.45 587.5 L148.7 587.62 L148.95 587.01 L149.2 587.25 L149.45 587.19 L149.7 587.35 L149.95 587.91 L150.2 588.17 L150.45 587.47 L150.7 587.53 L150.95 587.36 L151.2 587.26 L151.45 587.69 L151.7 587.3 L151.95 587.12 L152.2 587.62 L152.45 587.39 L152.7 587.54 L152.95 587.53 L153.2 587.74 L153.45 587.63 L153.7 587.73 L153.95 587.42 L154.2 587.43 L154.45 587.58 L154.7 587.54 L154.95 587.62 L155.2 587.58 L155.45 588.12 L155.7 587.42 L155.95 587.62 L156.2 587.52 L156.45 587.88 L156.7 587.26 L156.95 587.11 L157.2 587.85 L157.45 587.71 L157.7 587.55 L157.95 587.26 L158.2 587.87 L158.45 587.62 L158.7 587.32 L158.95 587.35 L159.2 587.3 L159.45 587.92 L159.7 587.45 L159.95 587.19 L160.2 587.33 L160.45 587.84 L160.7 587.69 L160.95 587.3 L161.2 587.16 L161.45 587.34 L161.7 587.6 L161.95 587.39 L162.2 587.35 L162.45 587.52 L162.7 587.35 L162.95 587.19 L163.2 587.1 L163.45 587.24 L163.7 587.31 L163.95 587.6 L164.2 587.55 L164.45 587.28 L164.7 587.86 L164.95 587.17 L165.2 587.83 L165.45 587.19 L165.7 587.44 L165.95 587.79 L166.2 587.81 L166.45 587.29 L166.7 587.57 L166.95 587.22 L167.2 587.49 L167.45 587.68 L167.7 587.39 L167.95 588.01 L168.2 587.71 L168.45 587.77 L168.7 587.4 L168.95 587.53 L169.2 587.66 L169.45 587.83 L169.7 587.79 L169.95 587.46 L170.2 587.33 L170.45 587.23 L170.7 588.23 L170.95 587.93 L171.2 588.02 L171.45 587.55 L171.7 588.2 L171.95 587.75 L172.2 587.67 L172.45 587.44 L172.7 587.18 L172.95 587.81 L173.2 587.63 L173.45 587.61 L173.7 587.2 L173.95 587.01 L174.2 587.28 L174.45 587.88 L174.7 588.19 L174.95 587.42 L175.2 587.52 L175.45 587.15 L175.7 587.32 L175.95 587.72 L176.2 587.4 L176.45 587.66 L176.7 588 L176.95 587.58 L177.2 587.29 L177.45 588.14 L177.7 587.82 L177.95 587.71 L178.2 587.74 L178.45 587.58 L178.7 587.86 L178.95 587.23 L179.2 587.65 L179.45 587.3 L179.7 587.64 L179.95 587.85 L180.2 587.61 L180.45 588.19 L180.7 587.66 L180.95 587.46 L181.2 587.77 L181.45 587.74 L181.7 587.78 L181.95 587.69 L182.2 587.65 L182.45 587.96 L182.7 587.2 L182.95 587.91 L183.2 587.51 L183.45 587.66 L183.7 587.42 L183.95 588.07 L184.2 587.08 L184.45 587.33 L184.7 587.57 L184.95 587.9 L185.2 587.31 L185.45 587.86 L185.7 588.03 L185.95 587.44 L186.2 586.94 L186.45 587.94 L186.7 587.66 L186.95 587.69 L187.2 588.04 L187.45 587.95 L187.7 587.55 L187.95 587.77 L188.2 587.46 L188.45 587.86 L188.7 587.71 L188.95 587.88 L189.2 587.54 L189.45 587.8 L189.7 587.83 L189.95 587.91 L190.2 587.76 L190.45 587.13 L190.7 587.89 L190.95 587.39 L191.2 588.05 L191.45 587.74 L191.7 587.75 L191.95 587.55 L192.2 588.28 L192.45 587.52 L192.7 588.17 L192.95 588.25 L193.2 588.71 L193.45 588.18 L193.7 587.74 L193.95 587.49 L194.2 587.55 L194.45 587.33 L194.7 588.19 L194.95 587.88 L195.2 587.45 L195.45 588.01 L195.7 587.82 L195.95 588.1 L196.2 587.9 L196.45 587.47 L196.7 587.85 L196.95 588.07 L197.2 587.83 L197.45 587.83 L197.7 587.43 L197.95 587.61 L198.2 587.83 L198.45 588.05 L198.7 587.64 L198.95 587.7 L199.2 588.46 L199.45 587.52 L199.7 587.74 L199.95 587.53 L200.2 587.81 L200.45 588.06 L200.7 588.07 L200.95 587.94 L201.2 588.2 L201.45 587.82 L201.7 588.02 L201.95 587.52 L202.2 588.13 L202.45 587.64 L202.7 588.21 L202.95 587.51 L203.2 587.92 L203.45 587.92 L203.7 587.92 L203.95 587.79 L204.2 588.3 L204.45 587.95 L204.7 587.49 L204.95 587.68 L205.2 588.21 L205.45 587.57 L205.7 588.39 L205.95 587.73 L206.2 587.29 L206.45 588.11 L206.7 587.57 L206.95 586.73 L207.2 587.85 L207.45 587.45 L207.7 587.9 L207.95 588.05 L208.2 588.09 L208.45 587.78 L208.7 587.37 L208.95 588.24 L209.2 587.88 L209.45 587.86 L209.7 587.39 L209.95 587.64 L210.2 587.9 L210.45 587.79 L210.7 587.9 L210.95 587.56 L211.2 587.34 L211.45 587.96 L211.7 587.81 L211.95 588.19 L212.2 588.27 L212.45 587.82 L212.7 587.76 L212.95 588.26 L213.2 588.14 L213.45 587.6 L213.7 588.43 L213.95 587.96 L214.2 587.83 L214.45 587.48 L214.7 587.77 L214.95 588.05 L215.2 587.99 L215.45 588.31 L215.7 588.18 L215.95 587.59 L216.2 587.82 L216.45 587.78 L216.7 587.67 L216.95 587.67 L217.2 587.61 L217.45 587.6 L217.7 587.86 L217.95 588 L218.2 588.26 L218.45 587.64 L218.7 587.73 L218.95 586.95 L219.2 587.84 L219.45 587.95 L219.7 587.73 L219.95 587.91 L220.2 587.65 L220.45 587.67 L220.7 587.47 L220.95 587.57 L221.2 587.34 L221.45 588.26 L221.7 588.15 L221.95 587.93 L222.2 587.87 L222.45 588.36 L222.7 588.07 L222.95 587.71 L223.2 587.94 L223.45 588.02 L223.7 588.01 L223.95 588.02 L224.2 587.42 L224.45 587.69 L224.7 587.32 L224.95 588.02 L225.2 587.81 L225.45 587.54 L225.7 588.59 L225.95 588.32 L226.2 587.78 L226.45 588.18 L226.7 587.75 L226.95 588.22 L227.2 588.18 L227.45 587.79 L227.7 588.12 L227.95 588.49 L228.2 588.25 L228.45 587.6 L228.7 588.08 L228.95 588.2 L229.2 588.04 L229.45 588.31 L229.7 587.77 L229.95 587.27 L230.2 588.44 L230.45 587.64 L230.7 587.95 L230.95 587.52 L231.2 588.24 L231.45 587.67 L231.7 588.03 L231.95 587.99 L232.2 588.43 L232.45 588.57 L232.7 588.23 L232.95 588.3 L233.2 588.07 L233.45 588.06 L233.7 587.73 L233.95 588.16 L234.2 587.38 L234.45 588.25 L234.7 588.02 L234.95 587.98 L235.2 588.33 L235.45 587.42 L235.7 587.69 L235.95 588.15 L236.2 587.88 L236.45 588.16 L236.7 587.91 L236.95 587.63 L237.2 588.11 L237.45 588.04 L237.7 588.15 L237.95 588.14 L238.2 588.59 L238.45 587.7 L238.7 587.81 L238.95 588.42 L239.2 587.73 L239.45 588.02 L239.7 588.32 L239.95 588.11 L240.2 588.14 L240.45 587.97 L240.7 587.44 L240.95 588.21 L241.2 588.25 L241.45 588.12 L241.7 587.87 L241.95 588.06 L242.2 588.21 L242.45 587.88 L242.7 587.84 L242.95 587.67 L243.2 588.13 L243.45 587.62 L243.7 587.85 L243.95 588.4 L244.2 587.38 L244.45 587.76 L244.7 588.27 L244.95 587.91 L245.2 588.35 L245.45 587.64 L245.7 587.72 L245.95 588.34 L246.2 587.7 L246.45 588.01 L246.7 587.92 L246.95 588.41 L247.2 587.67 L247.45 588.03 L247.7 588.26 L247.95 588.39 L248.2 588.05 L248.45 588.25 L248.7 587.82 L248.95 588.6 L249.2 588.17 L249.45 588.27 L249.7 588.58 L249.95 588.12 L250.2 588.05 L250.45 588.26 L250.7 588.45 L250.95 587.61 L251.2 587.52 L251.45 588.22 L251.7 587.97 L251.95 588.04 L252.2 588.64 L252.45 587.97 L252.7 588 L252.95 588.41 L253.2 587.78 L253.45 588.07 L253.7 587.97 L253.95 588.08 L254.2 588.09 L254.45 587.66 L254.7 587.88 L254.95 587.83 L255.2 587.61 L255.45 588.14 L255.7 587.81 L255.95 587.65 L256.2 587.52 L256.45 587.85 L256.7 587.65 L256.95 588.12 L257.2 588.29 L257.45 587.85 L257.7 587.78 L257.95 587.87 L258.2 588.21 L258.45 587.78 L258.7 588.17 L258.95 587.81 L259.2 587.28 L259.45 588.5 L259.7 588.26 L259.95 587.94 L260.2 588.05 L260.45 588.06 L260.7 588.51 L260.95 587.91 L261.2 588.1 L261.45 587.94 L261.7 587.84 L261.95 588.16 L262.2 588.16 L262.45 587.86 L262.7 588.75 L262.95 587.17 L263.2 588.47 L263.45 587.68 L263.7 587.79 L263.95 588.22 L264.2 588.31 L264.45 588.44 L264.7 587.6 L264.95 588.67 L265.2 587.73 L265.45 588.14 L265.7 588.44 L265.95 588.06 L266.2 588.02 L266.45 588.31 L266.7 588.05 L266.95 587.71 L267.2 588.39 L267.45 588.39 L267.7 588.24 L267.95 588.19 L268.2 588.41 L268.45 588.38 L268.7 588.44 L268.95 588.2 L269.2 587.49 L269.45 588.29 L269.7 588.28 L269.95 588.34 L270.2 588.53 L270.45 587.65 L270.7 587.18 L270.95 588.37 L271.2 588.28 L271.45 588.08 L271.7 587.69 L271.95 588.6 L272.2 587.96 L272.45 588.71 L272.7 588.17 L272.95 588.4 L273.2 587.27 L273.45 588.23 L273.7 587.83 L273.95 587.65 L274.2 587.95 L274.45 588.91 L274.7 587.86 L274.95 587.5 L275.2 588.4 L275.45 587.77 L275.7 588.02 L275.95 588.55 L276.2 588.37 L276.45 588.26 L276.7 588.39 L276.95 588.02 L277.2 587.66 L277.45 588 L277.7 587.9 L277.95 588.03 L278.2 588.01 L278.45 588.18 L278.7 588.33 L278.95 587.86 L279.2 587.94 L279.45 588.12 L279.7 588.4 L279.95 587.92 L280.2 587.42 L280.45 588.33 L280.7 587.63 L280.95 587.91 L281.2 587.88 L281.45 588.21 L281.7 587.48 L281.95 588.44 L282.2 587.91 L282.45 588.4 L282.7 587.95 L282.95 588.93 L283.2 588.09 L283.45 587.95 L283.7 587.83 L283.95 587.3 L284.2 588.56 L284.45 587.61 L284.7 588.11 L284.95 588.31 L285.2 588.27 L285.45 588.03 L285.7 587.83 L285.95 588.23 L286.2 588.02 L286.45 587.55 L286.7 587.74 L286.95 588.23 L287.2 588.32 L287.45 587.28 L287.7 588.13 L287.95 587.96 L288.2 588.32 L288.45 588.06 L288.7 587.96 L288.95 588.32 L289.2 588.38 L289.45 588.4 L289.7 588.05 L289.95 588.2 L290.2 588.59 L290.45 588.01 L290.7 587.82 L290.95 588.19 L291.2 587.76 L291.45 588.34 L291.7 587.8 L291.95 587.95 L292.2 588.4 L292.45 587.77 L292.7 587.95 L292.95 588.18 L293.2 588.16 L293.45 587.61 L293.7 588.34 L293.95 588 L294.2 588.09 L294.45 588.27 L294.7 588.3 L294.95 588.13 L295.2 588.32 L295.45 588.12 L295.7 587.65 L295.95 587.64 L296.2 587.76 L296.45 587.73 L296.7 587.92 L296.95 587.33 L297.2 588.05 L297.45 588.24 L297.7 588.25 L297.95 588.02 L298.2 587.67 L298.45 588.67 L298.7 587.79 L298.95 587.87 L299.2 588.03 L299.45 587.55 L299.7 587.6 L299.95 588.02 L300.2 588.34 L300.45 587.89 L300.7 588.15 L300.95 588.18 L301.2 588.1 L301.45 587.74 L301.7 588.33 L301.95 587.95 L302.2 587.71 L302.45 587.68 L302.7 588.32 L302.95 588.05 L303.2 587.81 L303.45 588.33 L303.7 588.25 L303.95 588.02 L304.2 587.65 L304.45 587.98 L304.7 588.11 L304.95 587.72 L305.2 588.79 L305.45 587.98 L305.7 587.69 L305.95 587.53 L306.2 588.34 L306.45 587.98 L306.7 588.01 L306.95 587.79 L307.2 588.22 L307.45 588.12 L307.7 587.68 L307.95 587.87 L308.2 587.61 L308.45 588.14 L308.7 588 L308.95 588.29 L309.2 588.18 L309.45 588.26 L309.7 587.46 L309.95 587.79 L310.2 587.66 L310.45 587.56 L310.7 587.75 L310.95 588.32 L311.2 588.25 L311.45 588.46 L311.7 588.17 L311.95 588.17 L312.2 587.9 L312.45 587.91 L312.7 587.89 L312.95 587.75 L313.2 587.6 L313.45 588.04 L313.7 588.41 L313.95 587.69 L314.2 587.63 L314.45 588.31 L314.7 587.96 L314.95 587.49 L315.2 587.94 L315.45 587.27 L315.7 588.07 L315.95 587.87 L316.2 587.61 L316.45 588.05 L316.7 587.85 L316.95 588.42 L317.2 587.79 L317.45 588.14 L317.7 587.7 L317.95 588.12 L318.2 588.22 L318.45 588.26 L318.7 588.3 L318.95 587.63 L319.2 588.57 L319.45 588.52 L319.7 587.99 L319.95 588.09 L320.2 588.3 L320.45 587.5 L320.7 587.94 L320.95 588.14" fill="none" stroke="#f2393d" stroke-width="1.6" stroke-linejoin="round" stroke-linecap="round" clip-path="url(#cc)"/>
<path d="M69.2 586.96 L69.82 587.23 L70.44 587.05 L71.07 587.13 L71.7 587.29 L72.33 587.11 L72.97 587.25 L73.61 587.14 L74.25 587.24 L74.89 586.72 L75.53 586.75 L76.17 586.64 L76.81 586.99 L77.45 586.81 L78.09 587.02 L78.72 586.88 L79.36 586.83 L79.99 587.21 L80.62 586.88 L81.24 586.74 L81.86 586.53 L82.47 586.94 L83.08 586.87 L83.69 586.44 L84.28 586.61 L84.87 586.66 L85.45 586.27 L86.03 586.52 L86.59 586.83 L87.15 586.2 L87.7 586.6 L88.41 586.85 L89.1 586.31 L89.8 586.31 L90.48 586.41 L91.16 586.44 L91.83 586.38 L92.5 585.97 L93.15 586.08 L93.8 586.22 L94.44 586.1 L95.06 586.36 L95.68 586.03 L96.29 585.98 L96.89 586.39 L97.48 585.96 L98.06 585.74 L98.63 585.89 L99.19 585.8 L99.74 585.94 L100.27 585.84 L100.79 585.64 L101.3 585.58 L101.8 585.49 L102.58 585.78 L103.31 585.82 L103.99 585.3 L104.64 585.32 L105.25 585.18 L105.83 584.89 L106.4 584.78 L106.95 584.67 L107.49 584.26 L108.03 584.37 L108.58 584.49 L109.13 584.45 L109.71 584.09 L110.3 583.92 L110.91 583.99 L111.51 584.12 L112.12 583.36 L112.73 583.22 L113.34 583.12 L113.94 583.14 L114.55 582.69 L115.16 582.78 L115.76 582.37 L116.37 582.46 L116.98 582.13 L117.59 581.97 L118.19 582.08 L118.8 581.56 L119.41 581.54 L120.01 581.75 L120.62 581.69 L121.23 581.51 L121.84 580.97 L122.44 581.5 L123.05 581.38 L123.66 581.19 L124.26 580.82 L124.87 581.33 L125.48 581.46 L126.09 581.15 L126.69 581.25 L127.3 580.77 L127.91 580.86 L128.54 580.62 L129.17 580.46 L129.81 580.55 L130.45 580.37 L131.09 580.34 L131.73 580.26 L132.35 580.24 L132.97 580.17 L133.58 580.13 L134.16 579.72 L134.73 579.87 L135.28 579.26 L135.8 579.41 L136.37 579.17 L136.91 578.48 L137.42 578.69 L137.91 578.78 L138.38 578.44 L138.83 577.98 L139.27 577.64 L139.71 577.38 L140.15 576.82 L140.59 576.29 L141.04 575.33 L141.5 574.48 L141.66 574.01 L141.82 573.39 L141.97 572.93 L142.13 572.62 L142.29 572.37 L142.45 571.67 L142.61 571.57 L142.78 570.61 L142.94 570.38 L143.1 569.75 L143.26 569.49 L143.42 568.93 L143.58 568.33 L143.75 567.57 L143.91 567.08 L144.07 566.55 L144.23 566.3 L144.39 565.38 L144.55 565 L144.71 564.47 L144.86 563.49 L145.02 562.91 L145.18 561.93 L145.33 561.63 L145.49 561.19 L145.64 560.18 L145.79 559.75 L145.94 559.14 L146.09 558.35 L146.24 557.47 L146.39 556.88 L146.54 555.97 L146.68 555.28 L146.82 555.1 L146.96 553.76 L147.1 552.96 L147.19 552.64 L147.27 552.17 L147.36 551.77 L147.44 550.96 L147.52 550.38 L147.61 549.88 L147.69 549.7 L147.77 549.23 L147.85 548.33 L147.93 547.83 L148.01 547.38 L148.09 546.64 L148.17 546.17 L148.25 545.9 L148.33 544.89 L148.4 544.64 L148.48 544.22 L148.56 543.19 L148.63 543.04 L148.71 542.23 L148.78 541.53 L148.86 541.21 L148.93 540.45 L149.01 539.78 L149.08 539.11 L149.15 538.44 L149.23 537.89 L149.3 537.34 L149.37 536.92 L149.45 536.09 L149.52 535.58 L149.59 534.82 L149.66 534.37 L149.74 533.63 L149.81 533.27 L149.88 532.43 L149.95 531.42 L150.02 531.09 L150.09 530.39 L150.17 530.04 L150.24 529.21 L150.31 528.75 L150.38 528.09 L150.45 527.17 L150.52 526.6 L150.6 526.04 L150.67 525.18 L150.74 525.44 L150.81 524.23 L150.89 523.24 L150.96 522.58 L151.03 522.25 L151.1 521.52 L151.18 520.66 L151.25 520 L151.33 519.73 L151.4 519.01 L151.47 518.6 L151.54 517.9 L151.61 517.55 L151.68 516.36 L151.75 516.24 L151.82 515.35 L151.89 514.71 L151.97 514.47 L152.04 513.26 L152.11 513 L152.18 512.31 L152.25 511.99 L152.32 510.82 L152.4 510.54 L152.47 509.92 L152.54 509.17 L152.61 508.55 L152.69 507.85 L152.76 506.93 L152.83 506.47 L152.9 505.53 L152.98 505.45 L153.05 504.8 L153.12 503.67 L153.19 503.54 L153.26 502.61 L153.34 501.69 L153.41 501.2 L153.48 500.81 L153.55 500.02 L153.62 499.18 L153.69 498.88 L153.77 498.06 L153.84 497.37 L153.91 496.58 L153.98 496.3 L154.05 495.74 L154.12 494.73 L154.19 494.26 L154.25 493.65 L154.32 493.13 L154.39 492.27 L154.46 492.29 L154.53 491.35 L154.59 490.88 L154.66 490.05 L154.73 489.96 L154.79 489.06 L154.86 488.05 L154.92 488.05 L154.99 487.29 L155.05 486.55 L155.11 486.22 L155.18 485.53 L155.24 485.33 L155.3 484.81 L155.36 483.91 L155.42 483.83 L155.48 483.43 L155.54 482.26 L155.6 482.56 L155.72 481.53 L155.83 480.68 L155.95 479.94 L156.06 478.81 L156.18 477.83 L156.29 477.28 L156.4 476.41 L156.51 475.78 L156.61 474.5 L156.72 474.18 L156.82 474.09 L156.93 472.98 L157.03 472.46 L157.13 471.71 L157.23 470.96 L157.32 470.61 L157.42 470.02 L157.51 469.25 L157.6 468.75 L157.69 468.41 L157.78 467.62 L157.87 467.12 L157.95 467.06 L158.04 466.61 L158.12 465.91 L158.2 465.84 L158.28 465.29 L158.35 464.82 L158.43 464.26 L158.5 464.15 L158.85 462.21 L159.1 461.38 L159.31 460.89 L159.55 461.22 L159.9 461.13 L160.17 461.16 L160.47 461.35 L160.78 461.84 L161.12 461.81 L161.48 461.75 L161.86 462.79 L162.27 463.86 L162.7 465.19 L162.79 465.47 L162.89 466.39 L162.99 466.61 L163.08 467.07 L163.18 467.41 L163.28 467.96 L163.38 468.37 L163.48 468.81 L163.59 469.25 L163.69 469.62 L163.8 470.21 L163.9 470.9 L164.01 471.3 L164.12 472.13 L164.23 472.48 L164.34 473.42 L164.45 473.6 L164.56 474.57 L164.67 475.4 L164.79 475.96 L164.9 476.33 L165.02 477.36 L165.14 477.77 L165.26 478.51 L165.37 479.1 L165.49 479.44 L165.62 480.58 L165.74 481.24 L165.86 481.99 L165.98 482.34 L166.11 483.38 L166.23 483.78 L166.36 484.36 L166.49 485.08 L166.61 486.01 L166.74 486.57 L166.87 487.63 L167 488.16 L167.1 488.76 L167.21 489.04 L167.31 489.41 L167.42 489.85 L167.53 490.68 L167.64 491.54 L167.75 492.11 L167.86 492.1 L167.97 493.05 L168.08 493.72 L168.19 493.96 L168.31 494.75 L168.42 495.19 L168.54 495.96 L168.65 496.57 L168.77 497.06 L168.88 497.7 L169 498.19 L169.12 498.95 L169.24 498.89 L169.35 500.24 L169.47 500.96 L169.59 501.1 L169.71 501.94 L169.83 502.7 L169.95 503.06 L170.07 503.67 L170.19 504.41 L170.31 505.18 L170.44 505.37 L170.56 506.3 L170.68 506.97 L170.8 507.2 L170.92 508.11 L171.04 508.98 L171.16 509.29 L171.28 509.86 L171.4 510.78 L171.53 510.97 L171.65 511.65 L171.77 512.54 L171.89 513.21 L172.01 513.23 L172.13 513.98 L172.24 514.69 L172.36 515.42 L172.48 515.83 L172.6 516.18 L172.73 517.09 L172.86 517.11 L172.99 518.21 L173.13 518.96 L173.26 519.67 L173.39 520.16 L173.52 520.42 L173.65 521.52 L173.79 521.86 L173.92 522.51 L174.05 523.46 L174.18 523.46 L174.32 524.93 L174.45 525.29 L174.58 525.92 L174.71 526.33 L174.85 527.13 L174.98 527.73 L175.11 528.27 L175.24 528.54 L175.38 529.54 L175.51 530.11 L175.64 530.86 L175.78 531.35 L175.91 531.92 L176.04 532.5 L176.17 532.76 L176.31 533.27 L176.44 534.21 L176.57 534.66 L176.71 535.47 L176.84 535.7 L176.97 536.4 L177.11 537.21 L177.24 537.62 L177.37 537.99 L177.5 538.82 L177.64 539.29 L177.77 539.56 L177.9 540.16 L178.03 540.84 L178.17 541.26 L178.3 541.75 L178.5 542.42 L178.69 542.7 L178.89 544.03 L179.09 544.68 L179.28 545.26 L179.48 545.58 L179.68 546.5 L179.88 547.22 L180.07 547.8 L180.27 548.44 L180.47 548.61 L180.66 549.77 L180.86 550.35 L181.06 550.94 L181.25 551.63 L181.45 551.98 L181.65 552.76 L181.85 552.79 L182.04 553.71 L182.24 554.07 L182.43 554.93 L182.63 555.08 L182.83 555.59 L183.02 556.09 L183.22 556.83 L183.41 557.09 L183.61 557.93 L183.81 558.42 L184 558.8 L184.25 559.46 L184.49 559.95 L184.74 561.09 L184.98 561.5 L185.23 561.73 L185.47 562.78 L185.72 562.98 L185.96 563.86 L186.21 564.52 L186.45 564.91 L186.7 565.44 L186.94 566.19 L187.18 566.79 L187.43 567.26 L187.67 567.83 L187.91 567.99 L188.16 568.76 L188.4 569.07 L188.64 569.76 L188.88 569.99 L189.12 570.48 L189.36 570.88 L189.6 571.39 L190.01 572.08 L190.4 572.71 L190.77 573.39 L191.13 573.58 L191.48 574.53 L191.84 574.54 L192.21 574.84 L192.6 575.41 L193.01 575.62 L193.44 575.95 L193.92 576.44 L194.43 576.52 L195 577.36 L195.43 577.18 L195.88 577.6 L196.34 578.24 L196.82 578.54 L197.31 578.68 L197.81 578.61 L198.32 579.1 L198.85 579.33 L199.4 579.6 L199.96 579.93 L200.54 580.34 L201.13 580.7 L201.73 580.83 L202.35 580.86 L202.99 581.28 L203.64 581.56 L204.31 581.92 L205 581.84 L205.5 582.02 L206.02 582.14 L206.54 582.19 L207.06 582.64 L207.6 582.59 L208.14 583.02 L208.7 583.15 L209.26 583.12 L209.82 583.29 L210.4 583.29 L210.98 583.54 L211.58 583.64 L212.18 583.97 L212.78 583.76 L213.4 584.18 L214.02 584.21 L214.66 584.26 L215.3 584.07 L215.94 584.2 L216.6 584.5 L217.26 584.63 L217.94 584.45 L218.62 585.14 L219.3 584.92 L220 584.96 L220.53 585.16 L221.06 584.96 L221.59 584.77 L222.13 585.22 L222.66 585.16 L223.2 585.36 L223.74 585.45 L224.28 585.16 L224.82 585.37 L225.37 585.76 L225.93 585.92 L226.48 585.67 L227.05 585.76 L227.62 585.85 L228.19 585.88 L228.77 586.39 L229.36 586.25 L229.95 585.83 L230.55 585.94 L231.16 586.27 L231.78 586.2 L232.41 586.31 L233.04 586.29 L233.69 586.03 L234.34 585.98 L235.01 585.97 L235.69 586.16 L236.38 586.42 L237.08 586.27 L237.79 586.81 L238.51 586.12 L239.25 586.42 L240 586.71 L240.5 586.9 L241 586.36 L241.5 586.63 L242 586.73 L242.5 586.21 L243 586.79 L243.51 586.68 L244.01 586.58 L244.52 586.88 L245.02 586.72 L245.53 586.57 L246.05 587 L246.56 586.63 L247.08 587.02 L247.6 586.31 L248.13 586.98 L248.66 586.75 L249.19 586.89 L249.73 586.88 L250.27 587.06 L250.82 586.71 L251.37 586.85 L251.93 586.84 L252.49 587.01 L253.06 586.93 L253.64 587 L254.22 587.03 L254.81 586.63 L255.4 586.94 L256.01 587.01 L256.62 587.05 L257.24 587.51 L257.86 587.19 L258.5 587.3 L259.14 586.97 L259.79 587.23 L260.45 587.44 L261.13 587 L261.81 586.97 L262.5 586.81 L263.2 586.86 L263.91 587.46 L264.63 586.84 L265.36 587.13 L266.1 587.31 L266.86 587.21 L267.63 587.23 L268.41 587.17 L269.2 587.4 L270 586.93 L270.48 587.14 L270.96 587.21 L271.46 586.85 L271.95 587.09 L272.45 587.2 L272.96 587.54 L273.47 587.12 L273.99 587.49 L274.51 587.11 L275.04 587.59 L275.57 587.18 L276.11 587.48 L276.65 587.86 L277.19 587.48 L277.74 587.58 L278.3 587.08 L278.86 587.41 L279.42 587.44 L279.98 587.26 L280.56 587.36 L281.13 587.09 L281.71 587.22 L282.29 587.07 L282.87 587.01 L283.46 587.47 L284.05 587.16 L284.65 587.39 L285.24 587.7 L285.85 587.55 L286.45 587.21 L287.05 587.29 L287.66 587.21 L288.27 587.35 L288.89 587.69 L289.5 587.68 L290.12 587.25 L290.74 587.09 L291.36 587.58 L291.99 586.91 L292.62 587.49 L293.24 586.92 L293.87 587.46 L294.5 587.42 L295.14 587.3 L295.77 587.16 L296.4 587.5 L297.04 587.48 L297.68 587.42 L298.31 587.87 L298.95 587.35 L299.59 587.3 L300.23 587.69 L300.87 588.03 L301.51 587.29 L302.15 587.38 L302.79 587.33 L303.44 587.48 L304.08 587.59 L304.72 587.28 L305.36 587.38 L306 587.24 L306.64 587.48 L307.28 587.38 L307.92 587.52 L308.56 587.4 L309.19 587.48 L309.83 587.12 L310.46 587.33 L311.1 587.37 L311.73 587.49 L312.36 587.24 L312.99 587.35 L313.62 587.66 L314.25 587.55 L314.87 587.34 L315.49 587.47 L316.12 587.41 L316.73 587.53 L317.35 587.42 L317.97 587.3 L318.58 587.51 L319.19 587.19 L319.79 587.63 L320.4 587.69 L321 587.68" fill="none" stroke="#1008f2" stroke-width="2.1" stroke-linejoin="round" stroke-linecap="round" clip-path="url(#cc)"/>
<path d="M69.2 575.12 L69.4 574.21 L69.6 574.13 L69.8 573.87 L70 572.71 L70.2 573.72 L70.4 572.71 L70.6 573.49 L70.8 572.94 L71 573.69 L71.2 572.87 L71.4 572.85 L71.6 572.13 L71.8 572.93 L72 572.35 L72.2 572.65 L72.4 572.63 L72.6 572.48 L72.8 571.8 L73 570.77 L73.2 571.04 L73.4 572.02 L73.6 572.01 L73.8 572.08 L74 570.97 L74.2 570.64 L74.4 571.63 L74.6 571.56 L74.8 571.03 L75 570.96 L75.2 570.15 L75.4 570.72 L75.6 571.47 L75.8 570.11 L76 570.17 L76.2 570.13 L76.4 569.7 L76.6 568.32 L76.8 568.25 L77 567.14 L77.2 566.15 L77.4 565.28 L77.6 565.11 L77.8 564.5 L78 566.65 L78.2 566.63 L78.4 568.68 L78.6 569.34 L78.8 569.04 L79 568.54 L79.2 568.18 L79.4 568.58 L79.6 569.32 L79.8 569.56 L80 568.96 L80.2 569.02 L80.4 570.76 L80.6 569.26 L80.8 568.29 L81 569.18 L81.2 568.15 L81.4 567.16 L81.6 568.49 L81.8 567.79 L82 568.1 L82.2 568.94 L82.4 567.79 L82.6 567.06 L82.8 568.34 L83 565.97 L83.2 566.35 L83.4 567.67 L83.6 567.57 L83.8 566.32 L84 565.87 L84.2 566.3 L84.4 566.1 L84.6 565.82 L84.8 565.26 L85 564.58 L85.2 564.74 L85.4 564.73 L85.6 564.55 L85.8 564.21 L86 564.34 L86.2 563.16 L86.4 564.61 L86.6 564.72 L86.8 563.34 L87 562.7 L87.2 563.58 L87.4 563.53 L87.6 562.96 L87.8 563.49 L88 562.39 L88.2 561.89 L88.4 563.35 L88.6 561.95 L88.8 561.83 L89 560.5 L89.2 561.54 L89.4 561.23 L89.6 561.45 L89.8 561.73 L90 561.26 L90.2 560.26 L90.4 561.49 L90.6 560.9 L90.8 560.86 L91 560.31 L91.2 560.25 L91.4 559.15 L91.6 558.9 L91.8 559.28 L92 559.09 L92.2 559.52 L92.4 557.09 L92.6 558.67 L92.8 558.34 L93 559.41 L93.2 558.17 L93.4 558.02 L93.6 558.23 L93.8 558.31 L94 556.57 L94.2 556.86 L94.4 557.9 L94.6 557.52 L94.8 557.14 L95 557.95 L95.2 555.75 L95.4 556.64 L95.6 556.07 L95.8 556.39 L96 555.54 L96.2 556 L96.4 557.34 L96.6 555.85 L96.8 555.39 L97 556.12 L97.2 555.31 L97.4 556.12 L97.6 553.89 L97.8 553.54 L98 552.68 L98.2 553.21 L98.4 552.33 L98.6 554.43 L98.8 553.27 L99 553.32 L99.2 552.84 L99.4 552.47 L99.6 552.06 L99.8 550.94 L100 552.75 L100.2 551.16 L100.4 552.36 L100.6 551.32 L100.8 549.59 L101 549.94 L101.2 549.6 L101.4 549.14 L101.6 548.78 L101.8 548.79 L102 548.03 L102.2 547.58 L102.4 547.79 L102.6 547.36 L102.8 546.59 L103 546.86 L103.2 545.84 L103.4 546.03 L103.6 545.32 L103.8 545.73 L104 543.16 L104.2 545.29 L104.4 543.27 L104.6 544.02 L104.8 542.24 L105 542.07 L105.2 542.06 L105.4 540.95 L105.6 540.37 L105.8 540.12 L106 540.91 L106.2 537.96 L106.4 538.73 L106.6 539.35 L106.8 537.54 L107 538.44 L107.2 535 L107.4 535.14 L107.6 535.26 L107.8 534.45 L108 533.98 L108.2 534.45 L108.4 532.51 L108.6 533.03 L108.8 532.4 L109 531.43 L109.2 532.68 L109.4 530.05 L109.6 531.42 L109.8 528.58 L110 528.87 L110.2 528.1 L110.4 526.55 L110.6 527.16 L110.8 526.96 L111 525.86 L111.2 524.7 L111.4 525.17 L111.6 524.02 L111.8 523.11 L112 519.7 L112.2 521.37 L112.4 521.66 L112.6 519.33 L112.8 517.14 L113 518.4 L113.2 518.41 L113.4 516.57 L113.6 517.05 L113.8 517.15 L114 515.48 L114.2 515.24 L114.4 516.39 L114.6 514.55 L114.8 513.1 L115 513.93 L115.2 513.55 L115.4 512.55 L115.6 511.87 L115.8 510.76 L116 513.38 L116.2 509.57 L116.4 510.03 L116.6 509.93 L116.8 509.96 L117 508.19 L117.2 508.32 L117.4 507.1 L117.6 507.53 L117.8 505.1 L118 507.5 L118.2 506.29 L118.4 506.28 L118.6 505.09 L118.8 503.04 L119 503.7 L119.2 504 L119.4 505.3 L119.6 503.64 L119.8 504.42 L120 503.3 L120.2 502.27 L120.4 502.4 L120.6 503.05 L120.8 503.01 L121 501.46 L121.2 502.15 L121.4 502.03 L121.6 502.45 L121.8 502.82 L122 500.32 L122.2 500.65 L122.4 499.57 L122.6 502.89 L122.8 501.23 L123 499.63 L123.2 502.95 L123.4 500.72 L123.6 500.95 L123.8 501.06 L124 501.44 L124.2 498.9 L124.4 500.5 L124.6 501.34 L124.8 500.94 L125 500.45 L125.2 499.99 L125.4 499.11 L125.6 497.68 L125.8 498.86 L126 500.94 L126.2 500.75 L126.4 500.04 L126.6 500.77 L126.8 502.41 L127 500.76 L127.2 500.38 L127.4 503.6 L127.6 501.07 L127.8 500.41 L128 502.3 L128.2 500.45 L128.4 501.23 L128.6 501.54 L128.8 502.68 L129 500.74 L129.2 502.17 L129.4 500.19 L129.6 501.49 L129.8 501.77 L130 502.06 L130.2 503.74 L130.4 501.74 L130.6 501.78 L130.8 501.67 L131 501.76 L131.2 502.58 L131.4 502.37 L131.6 503.32 L131.8 501.91 L132 503.05 L132.2 502.94 L132.4 502.68 L132.6 503.03 L132.8 502.95 L133 502.66 L133.2 502.78 L133.4 501.58 L133.6 502.09 L133.8 503.05 L134 503.73 L134.2 503.85 L134.4 503.28 L134.6 502.87 L134.8 503.92 L135 503.74 L135.2 502.92 L135.4 504.62 L135.6 505.03 L135.8 504.11 L136 502.87 L136.2 504.22 L136.4 504.38 L136.6 503.13 L136.8 504.8 L137 504.39 L137.2 505.17 L137.4 503.82 L137.6 504.26 L137.8 504.3 L138 505.15 L138.2 503.36 L138.4 504.23 L138.6 505.77 L138.8 503.97 L139 503.06 L139.2 505.11 L139.4 504.67 L139.6 502.28 L139.8 503.8 L140 502.29 L140.2 503.43 L140.4 504.24 L140.6 503.96 L140.8 502.05 L141 502.14 L141.2 504.22 L141.4 503.07 L141.6 502.21 L141.8 502.38 L142 501.04 L142.2 500.11 L142.4 500.07 L142.6 501.45 L142.8 499.9 L143 500.97 L143.2 500.79 L143.4 499.76 L143.6 498.29 L143.8 497.99 L144 497.24 L144.2 497.5 L144.4 497.87 L144.6 496.32 L144.8 497.25 L145 495.08 L145.2 493.42 L145.4 491.74 L145.6 491.46 L145.8 490.08 L146 490.98 L146.2 489.52 L146.4 490.46 L146.6 488.35 L146.8 487.39 L147 484.76 L147.2 483.91 L147.4 483.95 L147.6 482.4 L147.8 480.28 L148 479.29 L148.2 478.66 L148.4 477.74 L148.6 475.94 L148.8 473.64 L149 472.01 L149.2 471.16 L149.4 468.72 L149.6 465.21 L149.8 463.77 L150 463.13 L150.2 461.86 L150.4 458.73 L150.6 454.41 L150.8 451.22 L151 451.88 L151.2 446.91 L151.4 443.12 L151.6 440.67 L151.8 438.07 L152 434.4 L152.2 431.67 L152.4 430.5 L152.6 425.52 L152.8 423.24 L153 421.94 L153.2 419.5 L153.4 417.31 L153.6 415.96 L153.8 413.06 L154 412.6 L154.2 410.44 L154.4 411.5 L154.6 407.76 L154.8 407.3 L155 407.27 L155.2 404.42 L155.4 404.53 L155.6 402.42 L155.8 401.89 L156 401.26 L156.2 400.7 L156.4 400.56 L156.6 397.02 L156.8 399.25 L157 398.04 L157.2 395.81 L157.4 393.68 L157.6 392.77 L157.8 390.25 L158 391.51 L158.2 388.64 L158.4 386.1 L158.6 384.68 L158.8 385.09 L159 382.4 L159.2 382.26 L159.4 384.2 L159.6 380.71 L159.8 382.41 L160 381.51 L160.2 382.31 L160.4 382.48 L160.6 381.26 L160.8 382.47 L161 380.88 L161.2 382 L161.4 380.42 L161.6 381.94 L161.8 381.66 L162 379.16 L162.2 375.33 L162.4 377.2 L162.6 377.54 L162.8 375.5 L163 375.98 L163.2 377.93 L163.4 375.12 L163.6 375.35 L163.8 376.79 L164 373.07 L164.2 372.82 L164.4 374 L164.6 371.85 L164.8 373.34 L165 373.87 L165.2 373.44 L165.4 372.17 L165.6 371.85 L165.8 373.21 L166 373.01 L166.2 373.86 L166.4 376.25 L166.6 372.73 L166.8 377.01 L167 375.59 L167.2 378.18 L167.4 377.67 L167.6 378.03 L167.8 378.5 L168 380.73 L168.2 380.28 L168.4 381.49 L168.6 378.7 L168.8 379.88 L169 380.01 L169.2 380.88 L169.4 382.92 L169.6 383.37 L169.8 381.91 L170 380.42 L170.2 382.68 L170.4 381.84 L170.6 382.86 L170.8 384.86 L171 385.7 L171.2 388.6 L171.4 386.25 L171.6 387.35 L171.8 388.89 L172 395.34 L172.2 393.93 L172.4 397.73 L172.6 401.14 L172.8 399.84 L173 403.39 L173.2 402.98 L173.4 407.08 L173.6 405.7 L173.8 408.39 L174 410 L174.2 411.99 L174.4 415.11 L174.6 416.91 L174.8 418.83 L175 420.6 L175.2 418.97 L175.4 422.77 L175.6 426.43 L175.8 428.16 L176 429.45 L176.2 429.73 L176.4 432.8 L176.6 433.19 L176.8 434.05 L177 437.56 L177.2 438 L177.4 439.36 L177.6 441.41 L177.8 442.91 L178 442.9 L178.2 443.34 L178.4 445.56 L178.6 446.58 L178.8 448.64 L179 450.62 L179.2 451.04 L179.4 452.16 L179.6 452.22 L179.8 455.08 L180 455.62 L180.2 457.72 L180.4 459.41 L180.6 460.05 L180.8 460.57 L181 463.04 L181.2 465.81 L181.4 464.15 L181.6 467.74 L181.8 469.57 L182 471.35 L182.2 472.99 L182.4 473.96 L182.6 476.42 L182.8 479.87 L183 480.01 L183.2 482.56 L183.4 484.29 L183.6 488.03 L183.8 490.54 L184 490.4 L184.2 492.83 L184.4 492.88 L184.6 498.37 L184.8 500.61 L185 501.9 L185.2 502.13 L185.4 505.34 L185.6 508.44 L185.8 507.2 L186 509.21 L186.2 512.51 L186.4 512.49 L186.6 515.31 L186.8 515.41 L187 517.22 L187.2 517.42 L187.4 519.73 L187.6 521.83 L187.8 523.06 L188 525.19 L188.2 526.06 L188.4 526.41 L188.6 528.77 L188.8 529.97 L189 529.95 L189.2 531.41 L189.4 532.71 L189.6 533.3 L189.8 533.71 L190 535.44 L190.2 536.36 L190.4 536.23 L190.6 538.09 L190.8 539.38 L191 539.64 L191.2 539.6 L191.4 543.29 L191.6 543.66 L191.8 544.48 L192 544.66 L192.2 544.67 L192.4 543.53 L192.6 547.25 L192.8 548.39 L193 546.96 L193.2 548.73 L193.4 549.07 L193.6 550.86 L193.8 549.42 L194 552.06 L194.2 551.92 L194.4 551.18 L194.6 551.64 L194.8 553.67 L195 554.83 L195.2 553.85 L195.4 554.66 L195.6 555.13 L195.8 556.5 L196 556.36 L196.2 556.49 L196.4 556.82 L196.6 557.23 L196.8 558.62 L197 559.34 L197.2 558.95 L197.4 559.63 L197.6 559.09 L197.8 560.86 L198 560.83 L198.2 562.1 L198.4 560.54 L198.6 563.06 L198.8 562.54 L199 563.02 L199.2 563.55 L199.4 563.27 L199.6 564.39 L199.8 564.71 L200 564.56 L200.2 565.69 L200.4 565.62 L200.6 565.39 L200.8 565.97 L201 566.26 L201.2 567.09 L201.4 568.57 L201.6 567.31 L201.8 568.46 L202 566.9 L202.2 567.44 L202.4 567.91 L202.6 568.66 L202.8 568.86 L203 570 L203.2 569.45 L203.4 569.72 L203.6 570.56 L203.8 569.66 L204 570.51 L204.2 571.36 L204.4 570.79 L204.6 572.38 L204.8 571.9 L205 571.76 L205.2 572.13 L205.4 572.59 L205.6 570.99 L205.8 572.89 L206 572.23 L206.2 573.84 L206.4 572.3 L206.6 573.37 L206.8 574.25 L207 574.98 L207.2 574.04 L207.4 574.3 L207.6 574.45 L207.8 574.08 L208 574.2 L208.2 574.16 L208.4 574.95 L208.6 575.41 L208.8 574.81 L209 575.47 L209.2 575.44 L209.4 574.68 L209.6 575.97 L209.8 575.3 L210 576.3 L210.2 576.39 L210.4 576.28 L210.6 576.5 L210.8 576.22 L211 575.91 L211.2 577.18 L211.4 576.51 L211.6 577.73 L211.8 577.6 L212 576.31 L212.2 576.48 L212.4 577.6 L212.6 577.31 L212.8 577.17 L213 577.19 L213.2 577.59 L213.4 577.77 L213.6 577.42 L213.8 577.94 L214 577.83 L214.2 578.28 L214.4 577.98 L214.6 579.09 L214.8 578.7 L215 578.25 L215.2 578.31 L215.4 579.36 L215.6 579.68 L215.8 579.37 L216 578.57 L216.2 579.16 L216.4 579.46 L216.6 579.13 L216.8 579.81 L217 579.97 L217.2 579.96 L217.4 580.42 L217.6 579.95 L217.8 579.85 L218 579.58 L218.2 580.54 L218.4 579.41 L218.6 581.27 L218.8 580.97 L219 580.84 L219.2 580.23 L219.4 580.65 L219.6 580.22 L219.8 580.46 L220 580.95 L220.2 580.62 L220.4 580.54 L220.6 581.02 L220.8 580.83 L221 581.07 L221.2 581.34 L221.4 580.97 L221.6 581.42 L221.8 582.07 L222 582.34 L222.2 581.6 L222.4 581.97 L222.6 581.59 L222.8 582.01 L223 581.02 L223.2 581.98 L223.4 582.85 L223.6 581.66 L223.8 582.33 L224 581.89 L224.2 582.8 L224.4 581.91 L224.6 583.08 L224.8 582.44 L225 581.76 L225.2 582.43 L225.4 582 L225.6 582.21 L225.8 582.35 L226 583.21 L226.2 582.83 L226.4 583.46 L226.6 582.78 L226.8 582.92 L227 581.48 L227.2 582.47 L227.4 582.77 L227.6 582.56 L227.8 583.22 L228 582.2 L228.2 582.92 L228.4 582.89 L228.6 582.58 L228.8 582.85 L229 582.96 L229.2 583.49 L229.4 583.46 L229.6 583.72 L229.8 583.55 L230 582.76 L230.2 583.07 L230.4 582.65 L230.6 583.57 L230.8 584.13 L231 583.48 L231.2 583.63 L231.4 583.7 L231.6 583.26 L231.8 584.02 L232 583.38 L232.2 583.8 L232.4 583.04 L232.6 584.43 L232.8 584.07 L233 583.71 L233.2 583.81 L233.4 584.29 L233.6 583.37 L233.8 584.12 L234 584.38 L234.2 583.99 L234.4 584.39 L234.6 584.11 L234.8 583.96 L235 584.79 L235.2 584.19 L235.4 584.58 L235.6 584.26 L235.8 584.09 L236 584.45 L236.2 583.87 L236.4 583.96 L236.6 584.26 L236.8 584.58 L237 584.63 L237.2 585.11 L237.4 583.86 L237.6 584.25 L237.8 585.11 L238 584.19 L238.2 585.02 L238.4 584.63 L238.6 584.28 L238.8 584.77 L239 584.06 L239.2 585.67 L239.4 584.85 L239.6 584.58 L239.8 584.22 L240 584.67 L240.2 585.08 L240.4 584.58 L240.6 585.37 L240.8 584.55 L241 584.62 L241.2 584.29 L241.4 584.09 L241.6 585.5 L241.8 584.66 L242 584.4 L242.2 585.55 L242.4 584.33 L242.6 585.14 L242.8 585.28 L243 585.55 L243.2 585.39 L243.4 584.92 L243.6 585.8 L243.8 584.68 L244 584.53 L244.2 584.2 L244.4 585.39 L244.6 585.36 L244.8 585.58 L245 584.82 L245.2 584.41 L245.4 584.82 L245.6 585.71 L245.8 585.81 L246 584.23 L246.2 585.77 L246.4 585.66 L246.6 585.32 L246.8 585.2 L247 585.08 L247.2 584.99 L247.4 585.09 L247.6 585 L247.8 585.76 L248 585.54 L248.2 585.26 L248.4 585.57 L248.6 585.6 L248.8 585.74 L249 585.17 L249.2 585.52 L249.4 585.47 L249.6 585.18 L249.8 585.8 L250 584.97 L250.2 585.83 L250.4 584.88 L250.6 585.75 L250.8 586.26 L251 585.91 L251.2 585.63 L251.4 585.52 L251.6 585.93 L251.8 584.93 L252 585.41 L252.2 585.45 L252.4 585.39 L252.6 585.46 L252.8 585.66 L253 585.82 L253.2 585.36 L253.4 585.94 L253.6 585.64 L253.8 586.12 L254 585.83 L254.2 585.4 L254.4 585.36 L254.6 586.9 L254.8 585.84 L255 585 L255.2 585.02 L255.4 585.93 L255.6 585.43 L255.8 585.95 L256 585.42 L256.2 585.97 L256.4 585.95 L256.6 585.36 L256.8 585.75 L257 585.79 L257.2 586.36 L257.4 585.2 L257.6 585.66 L257.8 585.54 L258 585.9 L258.2 586.54 L258.4 586.05 L258.6 584.85 L258.8 586.02 L259 586.12 L259.2 585.54 L259.4 585.48 L259.6 586.28 L259.8 585.71 L260 585.83 L260.2 586.03 L260.4 585.53 L260.6 586.42 L260.8 585.95 L261 586.23 L261.2 585.82 L261.4 586.49 L261.6 586.36 L261.8 586.38 L262 586.43 L262.2 585.66 L262.4 585.96 L262.6 585.85 L262.8 586.68 L263 586.22 L263.2 586.09 L263.4 586.17 L263.6 586.46 L263.8 586.2 L264 586.31 L264.2 586.39 L264.4 585.72 L264.6 585.98 L264.8 586.31 L265 585.81 L265.2 586.57 L265.4 587.03 L265.6 586.17 L265.8 586.33 L266 586.14 L266.2 586.43 L266.4 586.57 L266.6 586.53 L266.8 586.52 L267 586.19 L267.2 586.66 L267.4 586.6 L267.6 586.75 L267.8 586.73 L268 586.06 L268.2 586.26 L268.4 586.44 L268.6 586.87 L268.8 586.21 L269 587.11 L269.2 586.64 L269.4 586.67 L269.6 587.15 L269.8 586.43 L270 586.42 L270.2 586.63 L270.4 586.47 L270.6 586.28 L270.8 586.38 L271 585.86 L271.2 587.34 L271.4 586.21 L271.6 586.01 L271.8 586.35 L272 586.45 L272.2 586.14 L272.4 586.2 L272.6 585.82 L272.8 586.53 L273 587.02 L273.2 586.88 L273.4 586.82 L273.6 586.36 L273.8 586.59 L274 586.98 L274.2 587.2 L274.4 586.37 L274.6 586.71 L274.8 587.22 L275 586.61 L275.2 586.35 L275.4 586.52 L275.6 586.45 L275.8 585.93 L276 586.46 L276.2 586.15 L276.4 586.25 L276.6 585.94 L276.8 586.08 L277 586.22 L277.2 586.35 L277.4 586.14 L277.6 587.12 L277.8 586.9 L278 587.49 L278.2 586.63 L278.4 587.11 L278.6 586.73 L278.8 586.3 L279 586.3 L279.2 586.7 L279.4 586.2 L279.6 586.63 L279.8 586.01 L280 587.03 L280.2 586.09 L280.4 586.81 L280.6 586.94 L280.8 586.65 L281 586.88 L281.2 587.52 L281.4 586.29 L281.6 586.11 L281.8 587.08 L282 586.91 L282.2 586.74 L282.4 587.07 L282.6 586.67 L282.8 587.13 L283 586.58 L283.2 586.27 L283.4 586.17 L283.6 586.95 L283.8 586.81 L284 587.06 L284.2 586.39 L284.4 587.01 L284.6 586.16 L284.8 586.94 L285 587.07 L285.2 586.5 L285.4 587.14 L285.6 586.9 L285.8 586.81 L286 586.51 L286.2 586.32 L286.4 587.62 L286.6 586.7 L286.8 586.28 L287 586.9 L287.2 586.27 L287.4 585.89 L287.6 586.5 L287.8 586.8 L288 586.78 L288.2 586.86 L288.4 586.81 L288.6 587.16 L288.8 587.01 L289 586.25 L289.2 587.05 L289.4 586.58 L289.6 586.13 L289.8 586.6 L290 586.58 L290.2 587.4 L290.4 586.9 L290.6 586.52 L290.8 587.04 L291 586.6 L291.2 586.58 L291.4 586.97 L291.6 586.79 L291.8 587.12 L292 586.63 L292.2 586.99 L292.4 587.22 L292.6 586.83 L292.8 587.08 L293 587.64 L293.2 586.91 L293.4 586.6 L293.6 586.58 L293.8 587.31 L294 587.06 L294.2 586.95 L294.4 586.48 L294.6 587.32 L294.8 586.84 L295 587.41 L295.2 586.81 L295.4 586.43 L295.6 587.22 L295.8 586.65 L296 586.57 L296.2 586.59 L296.4 586.26 L296.6 586.37 L296.8 586.14 L297 587.14 L297.2 586.58 L297.4 587.01 L297.6 587.1 L297.8 587.31 L298 586.77 L298.2 587.6 L298.4 586.12 L298.6 586.71 L298.8 586.97 L299 586.46 L299.2 587.46 L299.4 587.03 L299.6 586.33 L299.8 586.45 L300 587.1 L300.2 586.97 L300.4 587.51 L300.6 586.71 L300.8 586.11 L301 587.26 L301.2 586.94 L301.4 586.91 L301.6 586.66 L301.8 587.2 L302 586.15 L302.2 586.84 L302.4 586.96 L302.6 586.56 L302.8 587.12 L303 587.21 L303.2 587.09 L303.4 586.98 L303.6 586.9 L303.8 587.16 L304 587.13 L304.2 587.27 L304.4 586.78 L304.6 587.32 L304.8 586.75 L305 587.18 L305.2 587.01 L305.4 586.95 L305.6 586.8 L305.8 586.82 L306 586.24 L306.2 586.43 L306.4 586.65 L306.6 586.99 L306.8 586.24 L307 586.23 L307.2 586.26 L307.4 587.68 L307.6 586.74 L307.8 586.98 L308 587.19 L308.2 587.31 L308.4 586.9 L308.6 587.32 L308.8 586.94 L309 586.88 L309.2 586.77 L309.4 586.91 L309.6 586.98 L309.8 586.67 L310 587.09 L310.2 586.88 L310.4 587.35 L310.6 587.02 L310.8 586.54 L311 587.18 L311.2 586.83 L311.4 587.19 L311.6 587.12 L311.8 586.71 L312 586.7 L312.2 587.17 L312.4 587.31 L312.6 586.18 L312.8 587.16 L313 587.05 L313.2 586.54 L313.4 586.9 L313.6 587.55 L313.8 587.19 L314 587.39 L314.2 587.59 L314.4 586.91 L314.6 587.06 L314.8 587 L315 586.55 L315.2 587.68 L315.4 586.59 L315.6 586.93 L315.8 587.22 L316 587.09 L316.2 587.97 L316.4 586.74 L316.6 586.93 L316.8 587.14 L317 586.52 L317.2 587.38 L317.4 587.02 L317.6 586.97 L317.8 586.8 L318 587.35 L318.2 587.54 L318.4 586.8 L318.6 586.62 L318.8 586.72 L319 587.09 L319.2 586.82 L319.4 585.91 L319.6 586.63 L319.8 586.13 L320 587.14 L320.2 587.17 L320.4 586.94 L320.6 586.08 L320.8 586.4" fill="none" stroke="#000" stroke-width="1.9" stroke-linejoin="round" stroke-linecap="round" clip-path="url(#cc)"/>
<line x1="76.85" y1="594.6" x2="76.85" y2="591" stroke="#000" stroke-width="1.4"/>
<line x1="76.85" y1="339.4" x2="76.85" y2="343" stroke="#000" stroke-width="1.4"/>
<line x1="85.31" y1="594.6" x2="85.31" y2="591" stroke="#000" stroke-width="1.4"/>
<line x1="85.31" y1="339.4" x2="85.31" y2="343" stroke="#000" stroke-width="1.4"/>
<line x1="93.76" y1="594.6" x2="93.76" y2="591" stroke="#000" stroke-width="1.4"/>
<line x1="93.76" y1="339.4" x2="93.76" y2="343" stroke="#000" stroke-width="1.4"/>
<line x1="102.21" y1="594.6" x2="102.21" y2="591" stroke="#000" stroke-width="1.4"/>
<line x1="102.21" y1="339.4" x2="102.21" y2="343" stroke="#000" stroke-width="1.4"/>
<line x1="119.12" y1="594.6" x2="119.12" y2="591" stroke="#000" stroke-width="1.4"/>
<line x1="119.12" y1="339.4" x2="119.12" y2="343" stroke="#000" stroke-width="1.4"/>
<line x1="127.57" y1="594.6" x2="127.57" y2="591" stroke="#000" stroke-width="1.4"/>
<line x1="127.57" y1="339.4" x2="127.57" y2="343" stroke="#000" stroke-width="1.4"/>
<line x1="136.03" y1="594.6" x2="136.03" y2="591" stroke="#000" stroke-width="1.4"/>
<line x1="136.03" y1="339.4" x2="136.03" y2="343" stroke="#000" stroke-width="1.4"/>
<line x1="144.48" y1="594.6" x2="144.48" y2="591" stroke="#000" stroke-width="1.4"/>
<line x1="144.48" y1="339.4" x2="144.48" y2="343" stroke="#000" stroke-width="1.4"/>
<line x1="161.39" y1="594.6" x2="161.39" y2="591" stroke="#000" stroke-width="1.4"/>
<line x1="161.39" y1="339.4" x2="161.39" y2="343" stroke="#000" stroke-width="1.4"/>
<line x1="169.84" y1="594.6" x2="169.84" y2="591" stroke="#000" stroke-width="1.4"/>
<line x1="169.84" y1="339.4" x2="169.84" y2="343" stroke="#000" stroke-width="1.4"/>
<line x1="178.29" y1="594.6" x2="178.29" y2="591" stroke="#000" stroke-width="1.4"/>
<line x1="178.29" y1="339.4" x2="178.29" y2="343" stroke="#000" stroke-width="1.4"/>
<line x1="186.75" y1="594.6" x2="186.75" y2="591" stroke="#000" stroke-width="1.4"/>
<line x1="186.75" y1="339.4" x2="186.75" y2="343" stroke="#000" stroke-width="1.4"/>
<line x1="203.65" y1="594.6" x2="203.65" y2="591" stroke="#000" stroke-width="1.4"/>
<line x1="203.65" y1="339.4" x2="203.65" y2="343" stroke="#000" stroke-width="1.4"/>
<line x1="212.11" y1="594.6" x2="212.11" y2="591" stroke="#000" stroke-width="1.4"/>
<line x1="212.11" y1="339.4" x2="212.11" y2="343" stroke="#000" stroke-width="1.4"/>
<line x1="220.56" y1="594.6" x2="220.56" y2="591" stroke="#000" stroke-width="1.4"/>
<line x1="220.56" y1="339.4" x2="220.56" y2="343" stroke="#000" stroke-width="1.4"/>
<line x1="229.01" y1="594.6" x2="229.01" y2="591" stroke="#000" stroke-width="1.4"/>
<line x1="229.01" y1="339.4" x2="229.01" y2="343" stroke="#000" stroke-width="1.4"/>
<line x1="245.92" y1="594.6" x2="245.92" y2="591" stroke="#000" stroke-width="1.4"/>
<line x1="245.92" y1="339.4" x2="245.92" y2="343" stroke="#000" stroke-width="1.4"/>
<line x1="254.37" y1="594.6" x2="254.37" y2="591" stroke="#000" stroke-width="1.4"/>
<line x1="254.37" y1="339.4" x2="254.37" y2="343" stroke="#000" stroke-width="1.4"/>
<line x1="262.83" y1="594.6" x2="262.83" y2="591" stroke="#000" stroke-width="1.4"/>
<line x1="262.83" y1="339.4" x2="262.83" y2="343" stroke="#000" stroke-width="1.4"/>
<line x1="271.28" y1="594.6" x2="271.28" y2="591" stroke="#000" stroke-width="1.4"/>
<line x1="271.28" y1="339.4" x2="271.28" y2="343" stroke="#000" stroke-width="1.4"/>
<line x1="288.19" y1="594.6" x2="288.19" y2="591" stroke="#000" stroke-width="1.4"/>
<line x1="288.19" y1="339.4" x2="288.19" y2="343" stroke="#000" stroke-width="1.4"/>
<line x1="296.64" y1="594.6" x2="296.64" y2="591" stroke="#000" stroke-width="1.4"/>
<line x1="296.64" y1="339.4" x2="296.64" y2="343" stroke="#000" stroke-width="1.4"/>
<line x1="305.09" y1="594.6" x2="305.09" y2="591" stroke="#000" stroke-width="1.4"/>
<line x1="305.09" y1="339.4" x2="305.09" y2="343" stroke="#000" stroke-width="1.4"/>
<line x1="313.55" y1="594.6" x2="313.55" y2="591" stroke="#000" stroke-width="1.4"/>
<line x1="313.55" y1="339.4" x2="313.55" y2="343" stroke="#000" stroke-width="1.4"/>
<line x1="68.4" y1="594.6" x2="68.4" y2="588.6" stroke="#000" stroke-width="1.4"/>
<line x1="68.4" y1="339.4" x2="68.4" y2="345.4" stroke="#000" stroke-width="1.4"/>
<line x1="110.67" y1="594.6" x2="110.67" y2="588.6" stroke="#000" stroke-width="1.4"/>
<line x1="110.67" y1="339.4" x2="110.67" y2="345.4" stroke="#000" stroke-width="1.4"/>
<line x1="152.93" y1="594.6" x2="152.93" y2="588.6" stroke="#000" stroke-width="1.4"/>
<line x1="152.93" y1="339.4" x2="152.93" y2="345.4" stroke="#000" stroke-width="1.4"/>
<line x1="195.2" y1="594.6" x2="195.2" y2="588.6" stroke="#000" stroke-width="1.4"/>
<line x1="195.2" y1="339.4" x2="195.2" y2="345.4" stroke="#000" stroke-width="1.4"/>
<line x1="237.47" y1="594.6" x2="237.47" y2="588.6" stroke="#000" stroke-width="1.4"/>
<line x1="237.47" y1="339.4" x2="237.47" y2="345.4" stroke="#000" stroke-width="1.4"/>
<line x1="279.73" y1="594.6" x2="279.73" y2="588.6" stroke="#000" stroke-width="1.4"/>
<line x1="279.73" y1="339.4" x2="279.73" y2="345.4" stroke="#000" stroke-width="1.4"/>
<line x1="322" y1="594.6" x2="322" y2="588.6" stroke="#000" stroke-width="1.4"/>
<line x1="322" y1="339.4" x2="322" y2="345.4" stroke="#000" stroke-width="1.4"/>
<line x1="68.4" y1="591.39" x2="72" y2="591.39" stroke="#000" stroke-width="1.4"/>
<line x1="322" y1="591.39" x2="318.4" y2="591.39" stroke="#000" stroke-width="1.4"/>
<line x1="68.4" y1="567.4" x2="72" y2="567.4" stroke="#000" stroke-width="1.4"/>
<line x1="322" y1="567.4" x2="318.4" y2="567.4" stroke="#000" stroke-width="1.4"/>
<line x1="68.4" y1="555.41" x2="72" y2="555.41" stroke="#000" stroke-width="1.4"/>
<line x1="322" y1="555.41" x2="318.4" y2="555.41" stroke="#000" stroke-width="1.4"/>
<line x1="68.4" y1="543.41" x2="72" y2="543.41" stroke="#000" stroke-width="1.4"/>
<line x1="322" y1="543.41" x2="318.4" y2="543.41" stroke="#000" stroke-width="1.4"/>
<line x1="68.4" y1="519.42" x2="72" y2="519.42" stroke="#000" stroke-width="1.4"/>
<line x1="322" y1="519.42" x2="318.4" y2="519.42" stroke="#000" stroke-width="1.4"/>
<line x1="68.4" y1="507.43" x2="72" y2="507.43" stroke="#000" stroke-width="1.4"/>
<line x1="322" y1="507.43" x2="318.4" y2="507.43" stroke="#000" stroke-width="1.4"/>
<line x1="68.4" y1="495.44" x2="72" y2="495.44" stroke="#000" stroke-width="1.4"/>
<line x1="322" y1="495.44" x2="318.4" y2="495.44" stroke="#000" stroke-width="1.4"/>
<line x1="68.4" y1="471.44" x2="72" y2="471.44" stroke="#000" stroke-width="1.4"/>
<line x1="322" y1="471.44" x2="318.4" y2="471.44" stroke="#000" stroke-width="1.4"/>
<line x1="68.4" y1="459.45" x2="72" y2="459.45" stroke="#000" stroke-width="1.4"/>
<line x1="322" y1="459.45" x2="318.4" y2="459.45" stroke="#000" stroke-width="1.4"/>
<line x1="68.4" y1="447.45" x2="72" y2="447.45" stroke="#000" stroke-width="1.4"/>
<line x1="322" y1="447.45" x2="318.4" y2="447.45" stroke="#000" stroke-width="1.4"/>
<line x1="68.4" y1="423.47" x2="72" y2="423.47" stroke="#000" stroke-width="1.4"/>
<line x1="322" y1="423.47" x2="318.4" y2="423.47" stroke="#000" stroke-width="1.4"/>
<line x1="68.4" y1="411.47" x2="72" y2="411.47" stroke="#000" stroke-width="1.4"/>
<line x1="322" y1="411.47" x2="318.4" y2="411.47" stroke="#000" stroke-width="1.4"/>
<line x1="68.4" y1="399.48" x2="72" y2="399.48" stroke="#000" stroke-width="1.4"/>
<line x1="322" y1="399.48" x2="318.4" y2="399.48" stroke="#000" stroke-width="1.4"/>
<line x1="68.4" y1="375.49" x2="72" y2="375.49" stroke="#000" stroke-width="1.4"/>
<line x1="322" y1="375.49" x2="318.4" y2="375.49" stroke="#000" stroke-width="1.4"/>
<line x1="68.4" y1="363.49" x2="72" y2="363.49" stroke="#000" stroke-width="1.4"/>
<line x1="322" y1="363.49" x2="318.4" y2="363.49" stroke="#000" stroke-width="1.4"/>
<line x1="68.4" y1="351.5" x2="72" y2="351.5" stroke="#000" stroke-width="1.4"/>
<line x1="322" y1="351.5" x2="318.4" y2="351.5" stroke="#000" stroke-width="1.4"/>
<line x1="68.4" y1="579.4" x2="74.4" y2="579.4" stroke="#000" stroke-width="1.4"/>
<line x1="322" y1="579.4" x2="316" y2="579.4" stroke="#000" stroke-width="1.4"/>
<line x1="68.4" y1="531.42" x2="74.4" y2="531.42" stroke="#000" stroke-width="1.4"/>
<line x1="322" y1="531.42" x2="316" y2="531.42" stroke="#000" stroke-width="1.4"/>
<line x1="68.4" y1="483.44" x2="74.4" y2="483.44" stroke="#000" stroke-width="1.4"/>
<line x1="322" y1="483.44" x2="316" y2="483.44" stroke="#000" stroke-width="1.4"/>
<line x1="68.4" y1="435.46" x2="74.4" y2="435.46" stroke="#000" stroke-width="1.4"/>
<line x1="322" y1="435.46" x2="316" y2="435.46" stroke="#000" stroke-width="1.4"/>
<line x1="68.4" y1="387.48" x2="74.4" y2="387.48" stroke="#000" stroke-width="1.4"/>
<line x1="322" y1="387.48" x2="316" y2="387.48" stroke="#000" stroke-width="1.4"/>
<line x1="68.4" y1="339.5" x2="74.4" y2="339.5" stroke="#000" stroke-width="1.4"/>
<line x1="322" y1="339.5" x2="316" y2="339.5" stroke="#000" stroke-width="1.4"/>
<rect x="68.4" y="339.4" width="253.6" height="255.2" fill="none" stroke="#000" stroke-width="2"/>
<text x="68.4" y="609.4" font-family="Liberation Sans" font-size="11.8" font-weight="bold" text-anchor="middle" fill="#000">550</text>
<text x="110.67" y="609.4" font-family="Liberation Sans" font-size="11.8" font-weight="bold" text-anchor="middle" fill="#000">600</text>
<text x="152.93" y="609.4" font-family="Liberation Sans" font-size="11.8" font-weight="bold" text-anchor="middle" fill="#000">650</text>
<text x="195.2" y="609.4" font-family="Liberation Sans" font-size="11.8" font-weight="bold" text-anchor="middle" fill="#000">700</text>
<text x="237.47" y="609.4" font-family="Liberation Sans" font-size="11.8" font-weight="bold" text-anchor="middle" fill="#000">750</text>
<text x="279.73" y="609.4" font-family="Liberation Sans" font-size="11.8" font-weight="bold" text-anchor="middle" fill="#000">800</text>
<text x="322" y="609.4" font-family="Liberation Sans" font-size="11.8" font-weight="bold" text-anchor="middle" fill="#000">850</text>
<text x="61.8" y="583" font-family="Liberation Sans" font-size="11.8" font-weight="bold" text-anchor="end" fill="#000">600</text>
<text x="61.8" y="535.02" font-family="Liberation Sans" font-size="11.8" font-weight="bold" text-anchor="end" fill="#000">800</text>
<text x="61.8" y="487.04" font-family="Liberation Sans" font-size="11.8" font-weight="bold" text-anchor="end" fill="#000">1000</text>
<text x="61.8" y="439.06" font-family="Liberation Sans" font-size="11.8" font-weight="bold" text-anchor="end" fill="#000">1200</text>
<text x="61.8" y="391.08" font-family="Liberation Sans" font-size="11.8" font-weight="bold" text-anchor="end" fill="#000">1400</text>
<text x="61.8" y="343.1" font-family="Liberation Sans" font-size="11.8" font-weight="bold" text-anchor="end" fill="#000">1600</text>
<text x="195.2" y="631.8" font-family="Liberation Sans" font-size="14.3" font-weight="bold" text-anchor="middle" fill="#000" textLength="115.8" lengthAdjust="spacingAndGlyphs">Wavelength (nm)</text>
<text x="26.5" y="517.7" font-family="Liberation Sans" font-size="14" font-weight="bold" text-anchor="start" fill="#000" textLength="113.4" lengthAdjust="spacingAndGlyphs" transform="rotate(-90 26.5 517.7)">PL intensity (a.u.)</text>
<text x="0.3" y="346" font-family="Liberation Serif" font-size="22.8" font-weight="bold" text-anchor="start" fill="#000" textLength="26.5" lengthAdjust="spacingAndGlyphs">(c)</text>
<text x="78.1" y="357.8" font-family="Liberation Sans" font-size="13.8" font-weight="bold" text-anchor="start" fill="#000">P=25 <tspan font-family="Liberation Serif" font-size="14.5">μW</tspan></text>
<line x1="190.2" y1="351.6" x2="217" y2="351.6" stroke="#000" stroke-width="2"/>
<line x1="190.2" y1="368.6" x2="217" y2="368.6" stroke="#f2393d" stroke-width="2"/>
<line x1="190.2" y1="384.9" x2="217" y2="384.9" stroke="#1008f2" stroke-width="2"/>
<text x="220.2" y="355.9" font-family="Liberation Serif" font-size="12.1" font-weight="bold"><tspan>1L MoS</tspan><tspan font-size="7.8" dy="2.8">2</tspan></text>
<text x="220.2" y="372.8" font-family="Liberation Serif" font-size="12.1" font-weight="bold"><tspan>FL SnSe</tspan><tspan font-size="7.8" dy="2.8">2</tspan></text>
<text x="220.2" y="389.1" font-family="Liberation Serif" font-size="12.1" font-weight="bold"><tspan>1L MoS</tspan><tspan font-size="7.8" dy="2.8">2</tspan><tspan dy="-2.8">/FL SnSe</tspan><tspan font-size="7.8" dy="2.8">2</tspan></text>
<clipPath id="cd"><rect x="427.1" y="340.2" width="240.79999999999995" height="253.8"/></clipPath>
<path d="M427 496.6 L427.62 496.07 L428.24 495.53 L428.85 494.98 L429.46 494.43 L430.08 493.9 L430.71 493.39 L431.35 492.92 L432 492.5 L432.79 492.05 L433.62 491.6 L434.47 491.19 L435.32 490.84 L436.14 490.55 L436.91 490.37 L437.6 490.3 L438.43 490.41 L439.14 490.71 L439.78 491.18 L440.39 491.78 L441 492.5 L441.44 493.07 L441.86 493.7 L442.27 494.4 L442.67 495.16 L443.07 495.99 L443.48 496.91 L443.9 497.9 L444.15 498.51 L444.4 499.15 L444.66 499.81 L444.91 500.5 L445.17 501.21 L445.43 501.94 L445.69 502.71 L445.95 503.5 L446.21 504.33 L446.48 505.19 L446.74 506.08 L447 507 L447.18 507.66 L447.35 508.3 L447.5 508.94 L447.66 509.57 L447.8 510.21 L447.95 510.87 L448.1 511.54 L448.25 512.23 L448.4 512.95 L448.57 513.71 L448.75 514.51 L448.94 515.35 L449.15 516.25 L449.38 517.21 L449.63 518.23 L449.9 519.33 L450.2 520.5 L450.36 521.11 L450.52 521.75 L450.7 522.42 L450.88 523.12 L451.07 523.85 L451.27 524.61 L451.48 525.39 L451.69 526.19 L451.9 527.01 L452.12 527.84 L452.35 528.69 L452.58 529.56 L452.81 530.44 L453.04 531.32 L453.28 532.21 L453.52 533.11 L453.76 534.01 L454 534.91 L454.24 535.8 L454.48 536.7 L454.72 537.58 L454.96 538.46 L455.2 539.33 L455.43 540.19 L455.67 541.03 L455.89 541.86 L456.12 542.66 L456.34 543.45 L456.55 544.21 L456.76 544.95 L456.96 545.66 L457.16 546.35 L457.35 547 L457.53 547.62 L457.7 548.2 L458.08 549.45 L458.42 550.59 L458.74 551.61 L459.04 552.54 L459.31 553.39 L459.58 554.17 L459.83 554.89 L460.08 555.56 L460.33 556.2 L460.57 556.82 L460.83 557.43 L461.1 558.04 L461.38 558.66 L461.68 559.31 L462 560 L462.37 560.78 L462.76 561.6 L463.17 562.44 L463.59 563.29 L464.03 564.13 L464.46 564.96 L464.91 565.76 L465.35 566.52 L465.79 567.24 L466.22 567.88 L466.64 568.46 L467.04 568.94 L467.43 569.33 L467.8 569.6 L468.57 569.87 L469.26 569.72 L469.89 569.2 L470.53 568.37 L471.22 567.29 L472 566 L472.3 565.5 L472.59 564.96 L472.89 564.39 L473.18 563.78 L473.49 563.13 L473.79 562.46 L474.1 561.75 L474.42 561.01 L474.75 560.24 L475.09 559.45 L475.45 558.63 L475.81 557.78 L476.19 556.91 L476.59 556.01 L477.01 555.1 L477.44 554.16 L477.9 553.2 L478.19 552.6 L478.48 552 L478.78 551.37 L479.09 550.73 L479.4 550.08 L479.72 549.42 L480.05 548.75 L480.38 548.07 L480.72 547.37 L481.06 546.67 L481.41 545.95 L481.76 545.23 L482.12 544.5 L482.48 543.77 L482.85 543.03 L483.22 542.28 L483.59 541.53 L483.97 540.77 L484.35 540.01 L484.73 539.25 L485.12 538.48 L485.51 537.71 L485.9 536.94 L486.3 536.17 L486.7 535.4 L487.1 534.63 L487.5 533.87 L487.9 533.1 L488.26 532.42 L488.63 531.73 L489.01 531.02 L489.39 530.31 L489.79 529.58 L490.19 528.84 L490.6 528.09 L491.01 527.33 L491.43 526.57 L491.85 525.8 L492.28 525.03 L492.7 524.26 L493.13 523.49 L493.56 522.71 L493.99 521.94 L494.42 521.17 L494.85 520.41 L495.27 519.65 L495.69 518.9 L496.11 518.16 L496.52 517.43 L496.93 516.71 L497.33 516 L497.72 515.31 L498.1 514.63 L498.48 513.96 L498.84 513.32 L499.2 512.69 L499.54 512.08 L499.88 511.5 L500.19 510.94 L500.5 510.4 L501.11 509.33 L501.67 508.35 L502.18 507.45 L502.65 506.63 L503.09 505.86 L503.5 505.15 L503.89 504.48 L504.26 503.85 L504.63 503.24 L504.99 502.64 L505.36 502.04 L505.74 501.44 L506.14 500.82 L506.55 500.18 L507 499.5 L507.47 498.8 L507.96 498.09 L508.47 497.37 L508.99 496.66 L509.51 495.94 L510.04 495.23 L510.57 494.53 L511.09 493.83 L511.61 493.15 L512.12 492.48 L512.62 491.82 L513.1 491.18 L513.56 490.57 L513.99 489.97 L514.4 489.4 L515.01 488.51 L515.56 487.7 L516.05 486.94 L516.5 486.23 L516.93 485.55 L517.36 484.88 L517.81 484.21 L518.28 483.52 L518.8 482.8 L519.31 482.11 L519.85 481.39 L520.4 480.66 L520.97 479.91 L521.55 479.18 L522.13 478.46 L522.7 477.78 L523.25 477.15 L523.79 476.59 L524.3 476.1 L525.1 475.42 L525.85 474.87 L526.57 474.44 L527.27 474.14 L527.98 473.96 L528.7 473.9 L529.43 474 L530.17 474.26 L530.9 474.65 L531.63 475.11 L532.37 475.61 L533.1 476.1 L533.84 476.66 L534.59 477.36 L535.33 478.08 L536.07 478.74 L536.8 479.25 L537.5 479.5 L538.33 479.47 L539.15 479.2 L539.95 478.7 L540.7 478.03 L541.4 477.2 L541.8 476.59 L542.17 475.88 L542.52 475.09 L542.86 474.24 L543.18 473.34 L543.49 472.43 L543.79 471.51 L544.1 470.6 L544.34 469.88 L544.57 469.17 L544.8 468.44 L545.02 467.7 L545.23 466.96 L545.44 466.19 L545.66 465.41 L545.87 464.6 L546.08 463.76 L546.3 462.9 L546.48 462.15 L546.67 461.35 L546.86 460.53 L547.05 459.68 L547.24 458.82 L547.43 457.95 L547.62 457.08 L547.8 456.22 L547.99 455.37 L548.16 454.55 L548.33 453.75 L548.5 453 L548.71 452.04 L548.9 451.12 L549.09 450.23 L549.26 449.37 L549.44 448.53 L549.61 447.7 L549.8 446.89 L549.99 446.1 L550.2 445.3 L550.45 444.42 L550.7 443.57 L550.97 442.74 L551.24 441.93 L551.52 441.13 L551.8 440.32 L552.1 439.52 L552.4 438.7 L552.71 437.87 L553.03 437.04 L553.35 436.2 L553.68 435.36 L554.02 434.53 L554.37 433.71 L554.73 432.9 L555.1 432.1 L555.47 431.32 L555.83 430.55 L556.2 429.78 L556.58 429.03 L556.98 428.29 L557.41 427.55 L557.88 426.82 L558.4 426.1 L558.92 425.46 L559.48 424.82 L560.09 424.18 L560.72 423.54 L561.36 422.92 L562.01 422.31 L562.66 421.72 L563.29 421.15 L563.9 420.6 L564.56 420.01 L565.2 419.45 L565.84 418.91 L566.47 418.39 L567.1 417.9 L567.73 417.41 L568.36 416.95 L569 416.5 L569.72 416 L570.43 415.52 L571.14 415.06 L571.85 414.62 L572.59 414.22 L573.37 413.84 L574.2 413.5 L574.97 413.23 L575.77 412.99 L576.61 412.77 L577.46 412.58 L578.34 412.41 L579.22 412.26 L580.11 412.12 L581 412 L581.8 411.91 L582.62 411.83 L583.45 411.76 L584.29 411.71 L585.13 411.67 L585.97 411.65 L586.8 411.65 L587.61 411.67 L588.4 411.7 L589.26 411.77 L590.09 411.89 L590.89 412.03 L591.69 412.19 L592.49 412.36 L593.31 412.52 L594.14 412.67 L595 412.8 L595.8 412.9 L596.64 413.01 L597.51 413.11 L598.38 413.2 L599.25 413.29 L600.11 413.37 L600.95 413.43 L601.75 413.48 L602.5 413.5 L603.52 413.5 L604.45 413.45 L605.32 413.38 L606.18 413.27 L607.06 413.14 L608 413 L608.76 412.88 L609.56 412.75 L610.37 412.61 L611.2 412.46 L612.02 412.29 L612.82 412.11 L613.58 411.91 L614.3 411.7 L615.17 411.4 L615.98 411.09 L616.74 410.75 L617.49 410.38 L618.23 409.96 L619 409.5 L619.68 409.07 L620.35 408.63 L621.03 408.16 L621.71 407.65 L622.4 407.09 L623.09 406.48 L623.8 405.8 L624.3 405.28 L624.79 404.73 L625.29 404.15 L625.78 403.54 L626.29 402.91 L626.8 402.26 L627.32 401.59 L627.86 400.9 L628.42 400.21 L629 399.5 L629.5 398.89 L630.02 398.26 L630.56 397.6 L631.1 396.93 L631.66 396.25 L632.23 395.56 L632.79 394.87 L633.36 394.18 L633.93 393.51 L634.5 392.85 L635.05 392.21 L635.6 391.6 L636.18 390.96 L636.76 390.33 L637.32 389.72 L637.89 389.12 L638.45 388.53 L639.01 387.96 L639.59 387.39 L640.17 386.83 L640.76 386.28 L641.37 385.74 L642 385.2 L642.65 384.67 L643.31 384.15 L643.99 383.64 L644.68 383.15 L645.38 382.66 L646.09 382.17 L646.8 381.69 L647.52 381.22 L648.25 380.74 L648.97 380.27 L649.7 379.8 L650.37 379.37 L651.03 378.94 L651.69 378.51 L652.36 378.08 L653.03 377.66 L653.71 377.24 L654.39 376.82 L655.09 376.41 L655.79 376 L656.51 375.59 L657.25 375.19 L658 374.8 L658.71 374.44 L659.44 374.09 L660.19 373.74 L660.95 373.4 L661.72 373.06 L662.5 372.73 L663.29 372.4 L664.08 372.06 L664.87 371.73 L665.66 371.4 L666.44 371.07 L667.23 370.74 L668 370.4" fill="none" stroke="#43a57a" stroke-width="2.5" stroke-linejoin="round" stroke-linecap="butt" stroke-dasharray="5 3.6" clip-path="url(#cd)"/>
<path d="M427 401.5 L427.17 402.28 L427.35 403.06 L427.52 403.83 L427.7 404.59 L427.87 405.36 L428.04 406.13 L428.22 406.91 L428.39 407.7 L428.56 408.51 L428.73 409.35 L428.9 410.2 L429.04 410.93 L429.18 411.64 L429.32 412.34 L429.46 413.05 L429.6 413.76 L429.74 414.49 L429.88 415.24 L430.02 416.02 L430.16 416.84 L430.29 417.69 L430.43 418.6 L430.57 419.57 L430.7 420.6 L430.78 421.27 L430.87 421.96 L430.95 422.68 L431.03 423.41 L431.11 424.17 L431.19 424.94 L431.27 425.73 L431.35 426.53 L431.44 427.35 L431.52 428.19 L431.6 429.03 L431.68 429.89 L431.76 430.75 L431.84 431.63 L431.92 432.51 L432 433.4 L432.08 434.29 L432.16 435.19 L432.24 436.09 L432.32 437 L432.4 437.9 L432.47 438.68 L432.54 439.5 L432.61 440.35 L432.68 441.23 L432.75 442.14 L432.82 443.07 L432.89 444.01 L432.96 444.96 L433.03 445.92 L433.1 446.89 L433.18 447.85 L433.25 448.8 L433.32 449.75 L433.39 450.67 L433.46 451.58 L433.52 452.47 L433.59 453.32 L433.66 454.15 L433.73 454.93 L433.79 455.67 L433.86 456.37 L433.92 457.01 L433.98 457.6 L434.04 458.13 L434.1 458.6 L434.73 460.47 L435.3 459.5 L435.86 458.73 L436.5 457.5 L436.91 456.84 L437.36 456.11 L437.86 455.4 L438.4 454.8 L439.18 454.1 L440.04 453.55 L441 453.4 L441.64 453.57 L442.34 453.9 L443.06 454.37 L443.79 454.94 L444.5 455.6 L444.99 456.1 L445.48 456.61 L445.96 457.18 L446.44 457.8 L446.94 458.52 L447.46 459.34 L448 460.3 L448.31 460.89 L448.63 461.55 L448.97 462.26 L449.31 463.02 L449.66 463.81 L450.01 464.63 L450.36 465.45 L450.71 466.27 L451.05 467.09 L451.39 467.88 L451.71 468.63 L452.01 469.35 L452.3 470 L452.72 470.96 L453.1 471.84 L453.45 472.65 L453.78 473.42 L454.11 474.17 L454.44 474.91 L454.8 475.69 L455.2 476.5 L455.58 477.26 L455.96 478.03 L456.36 478.8 L456.76 479.59 L457.18 480.38 L457.61 481.16 L458.06 481.95 L458.52 482.73 L459 483.5 L459.45 484.2 L459.92 484.9 L460.41 485.61 L460.91 486.32 L461.43 487.02 L461.94 487.72 L462.46 488.4 L462.98 489.06 L463.49 489.69 L464 490.3 L464.62 491.02 L465.25 491.7 L465.87 492.36 L466.49 492.99 L467.12 493.59 L467.74 494.18 L468.37 494.74 L469 495.3 L469.73 495.92 L470.48 496.52 L471.24 497.1 L471.99 497.65 L472.73 498.17 L473.43 498.66 L474.1 499.1 L474.94 499.64 L475.7 500.11 L476.43 500.51 L477.18 500.86 L478 501.2 L478.76 501.46 L479.55 501.71 L480.37 501.93 L481.21 502.11 L482.06 502.27 L482.9 502.4 L483.74 502.49 L484.59 502.55 L485.44 502.58 L486.3 502.58 L487.15 502.55 L488 502.5 L488.84 502.43 L489.67 502.34 L490.51 502.22 L491.34 502.06 L492.17 501.86 L493 501.6 L493.71 501.33 L494.43 501.01 L495.14 500.66 L495.86 500.28 L496.57 499.87 L497.29 499.44 L498 499 L498.71 498.54 L499.43 498.05 L500.14 497.54 L500.86 497.01 L501.57 496.46 L502.29 495.89 L503 495.3 L503.65 494.75 L504.32 494.16 L505.01 493.54 L505.69 492.91 L506.34 492.29 L506.96 491.69 L507.52 491.12 L508 490.6 L508.63 489.86 L508.97 489.34 L509.32 488.67 L510 487.5 L510.31 486.99 L510.65 486.41 L511.03 485.78 L511.43 485.09 L511.86 484.37 L512.3 483.62 L512.76 482.84 L513.23 482.05 L513.69 481.26 L514.16 480.47 L514.62 479.69 L515.07 478.93 L515.5 478.2 L515.92 477.49 L516.35 476.78 L516.77 476.07 L517.19 475.36 L517.62 474.65 L518.04 473.94 L518.46 473.23 L518.88 472.52 L519.31 471.81 L519.73 471.11 L520.15 470.4 L520.58 469.7 L521 469 L521.42 468.31 L521.85 467.63 L522.27 466.95 L522.69 466.29 L523.12 465.62 L523.54 464.96 L523.96 464.29 L524.38 463.61 L524.81 462.92 L525.23 462.22 L525.65 461.5 L526.08 460.76 L526.5 460 L526.87 459.32 L527.23 458.63 L527.6 457.92 L527.97 457.2 L528.33 456.47 L528.7 455.73 L529.07 454.98 L529.43 454.23 L529.8 453.46 L530.17 452.7 L530.53 451.92 L530.9 451.15 L531.27 450.37 L531.63 449.58 L532 448.8 L532.34 448.06 L532.69 447.31 L533.03 446.54 L533.38 445.77 L533.72 444.99 L534.06 444.21 L534.41 443.42 L534.75 442.64 L535.09 441.85 L535.44 441.07 L535.78 440.28 L536.12 439.51 L536.47 438.74 L536.81 437.98 L537.16 437.24 L537.5 436.5 L537.87 435.73 L538.23 434.98 L538.59 434.23 L538.95 433.5 L539.31 432.77 L539.68 432.05 L540.04 431.34 L540.4 430.62 L540.76 429.91 L541.13 429.19 L541.5 428.47 L541.87 427.74 L542.24 427.01 L542.62 426.26 L543 425.5 L543.36 424.77 L543.72 424.03 L544.09 423.28 L544.46 422.53 L544.82 421.76 L545.2 420.99 L545.57 420.22 L545.94 419.44 L546.32 418.67 L546.7 417.9 L547.08 417.14 L547.46 416.39 L547.84 415.65 L548.23 414.92 L548.61 414.2 L549 413.5 L549.45 412.71 L549.9 411.94 L550.36 411.17 L550.82 410.41 L551.29 409.66 L551.76 408.92 L552.22 408.19 L552.69 407.47 L553.16 406.77 L553.62 406.07 L554.07 405.38 L554.52 404.71 L554.97 404.05 L555.4 403.4 L555.89 402.66 L556.37 401.94 L556.84 401.23 L557.3 400.54 L557.76 399.87 L558.21 399.21 L558.66 398.57 L559.12 397.93 L559.58 397.31 L560.04 396.7 L560.51 396.1 L561 395.5 L561.54 394.86 L562.1 394.23 L562.66 393.62 L563.23 393.01 L563.8 392.42 L564.38 391.85 L564.95 391.28 L565.52 390.74 L566.09 390.21 L566.65 389.7 L567.2 389.2 L567.86 388.62 L568.51 388.08 L569.16 387.57 L569.79 387.08 L570.43 386.61 L571.07 386.15 L571.71 385.7 L572.35 385.25 L573 384.8 L573.74 384.29 L574.49 383.79 L575.24 383.3 L575.99 382.82 L576.74 382.35 L577.5 381.89 L578.25 381.44 L579 381 L579.75 380.57 L580.5 380.15 L581.26 379.73 L582.01 379.33 L582.76 378.94 L583.51 378.55 L584.26 378.17 L585 377.8 L585.82 377.39 L586.6 377 L587.37 376.63 L588.16 376.26 L588.97 375.89 L589.85 375.5 L590.8 375.1 L591.52 374.8 L592.28 374.5 L593.08 374.19 L593.9 373.87 L594.74 373.56 L595.6 373.24 L596.46 372.92 L597.32 372.61 L598.17 372.3 L599 372 L599.82 371.71 L600.63 371.44 L601.44 371.17 L602.25 370.9 L603.06 370.64 L603.87 370.37 L604.7 370.1 L605.55 369.81 L606.41 369.52 L607.3 369.2 L608.05 368.92 L608.81 368.63 L609.58 368.33 L610.36 368.02 L611.15 367.71 L611.95 367.39 L612.76 367.07 L613.58 366.74 L614.42 366.43 L615.26 366.11 L616.12 365.8 L617 365.5 L617.77 365.25 L618.56 364.99 L619.36 364.74 L620.18 364.48 L621.02 364.23 L621.86 363.98 L622.7 363.73 L623.55 363.49 L624.39 363.24 L625.23 363 L626.07 362.77 L626.89 362.54 L627.71 362.32 L628.5 362.1 L629.34 361.87 L630.17 361.66 L630.99 361.45 L631.8 361.25 L632.6 361.05 L633.4 360.86 L634.2 360.67 L634.99 360.48 L635.79 360.29 L636.58 360.1 L637.38 359.9 L638.19 359.7 L639 359.5 L639.82 359.29 L640.65 359.07 L641.48 358.84 L642.32 358.62 L643.16 358.39 L644.01 358.16 L644.84 357.93 L645.68 357.71 L646.5 357.49 L647.32 357.28 L648.13 357.07 L648.92 356.88 L649.7 356.7 L650.6 356.5 L651.48 356.32 L652.35 356.15 L653.2 356 L654.04 355.85 L654.87 355.7 L655.7 355.56 L656.52 355.43 L657.35 355.29 L658.17 355.15 L659 355 L659.83 354.85 L660.65 354.7 L661.48 354.56 L662.29 354.41 L663.11 354.27 L663.93 354.12 L664.74 353.98 L665.55 353.83 L666.37 353.69 L667.18 353.55 L668 353.4" fill="none" stroke="#f2393d" stroke-width="2.1" stroke-linejoin="round" stroke-linecap="round" clip-path="url(#cd)"/>
<path d="M427 413.59 L427.26 414.28 L427.51 415.41 L427.77 416.1 L428.03 416.96 L428.3 417.88 L428.5 418.86 L428.71 419.39 L428.92 420.39 L429.13 421.09 L429.35 422.05 L429.57 422.96 L429.8 424.07 L429.95 424.79 L430.1 425.31 L430.25 426.35 L430.4 427.13 L430.56 428 L430.72 428.9 L430.87 429.38 L431.03 430.61 L431.19 431 L431.34 431.89 L431.5 432.74 L431.71 433.8 L431.9 434.71 L432.1 435.62 L432.29 436.55 L432.5 437.22 L432.71 438.17 L432.94 439.22 L433.2 439.3 L433.65 440.47 L434.13 441.2 L434.65 441.69 L435.21 442.35 L435.8 443.01 L436.33 443.53 L436.9 444.09 L437.49 444.51 L438.1 445.28 L438.71 445.74 L439.3 446.37 L439.8 447.38 L440.3 447.69 L440.81 448.37 L441.31 448.91 L441.81 449.96 L442.31 450.64 L442.8 451.62 L443.12 452.44 L443.44 453.11 L443.76 453.68 L444.08 454.6 L444.4 455.37 L444.71 456.11 L445.03 456.84 L445.33 457.84 L445.63 458.44 L445.92 459.51 L446.2 460.3 L446.44 460.93 L446.67 461.75 L446.89 462.99 L447.1 463.27 L447.31 464.36 L447.51 465.15 L447.71 466.08 L447.92 466.89 L448.13 467.78 L448.34 468.56 L448.56 469.25 L448.8 469.83 L449.1 470.83 L449.4 471.77 L449.72 472.57 L450.04 473.44 L450.36 474.06 L450.69 474.7 L451.02 475.55 L451.35 476.43 L451.68 477.31 L452 478.12 L452.29 478.83 L452.57 479.3 L452.86 480.1 L453.14 480.91 L453.42 481.59 L453.7 482.37 L453.99 482.87 L454.28 483.88 L454.58 484.31 L454.89 485.48 L455.2 486.51 L455.41 487.12 L455.62 487.97 L455.83 488.56 L456.05 489.35 L456.27 490.2 L456.5 490.81 L456.72 491.91 L456.95 492.47 L457.18 493.46 L457.41 494.25 L457.63 495.02 L457.86 495.93 L458.09 496.79 L458.32 497.53 L458.55 498.67 L458.78 499.09 L459 500 L459.24 500.97 L459.48 501.73 L459.72 502.65 L459.96 503.18 L460.21 504.19 L460.45 505.07 L460.69 506.06 L460.94 506.65 L461.18 507.58 L461.42 508.63 L461.66 509.26 L461.89 510.06 L462.12 510.78 L462.35 511.69 L462.58 512.06 L462.8 512.9 L463.09 513.86 L463.37 514.85 L463.64 515.72 L463.91 516.32 L464.18 517.42 L464.44 518.12 L464.7 519.34 L464.96 519.73 L465.22 520.62 L465.48 521.12 L465.74 521.83 L466 522.4 L466.45 523.66 L466.9 524.74 L467.35 525.38 L467.79 526.44 L468.23 527.19 L468.67 527.81 L469.1 527.94 L469.83 528.3 L470.54 527.56 L471.25 526.97 L472 525.96 L472.39 525.48 L472.79 525.09 L473.19 524.41 L473.6 524.03 L474.02 522.95 L474.44 522.1 L474.87 521.52 L475.3 520.55 L475.62 519.81 L475.93 519.32 L476.24 518.61 L476.55 517.5 L476.87 516.85 L477.19 516.24 L477.53 515.19 L477.87 514.67 L478.23 513.63 L478.61 512.88 L479 512.04 L479.35 511.19 L479.72 510.57 L480.11 509.75 L480.5 509.01 L480.91 508.41 L481.32 507.59 L481.74 506.71 L482.16 506.03 L482.58 505.47 L483 504.61 L483.41 503.94 L483.81 503.51 L484.2 502.85 L484.89 502.02 L485.55 501.84 L486.2 501.07 L486.84 500.9 L487.52 500.66 L488.23 500.3 L489 500.25 L489.74 499.96 L490.53 499.51 L491.36 499.02 L492.21 499.02 L493.06 498.52 L493.91 498.55 L494.72 498.32 L495.5 497.96 L496.34 497.71 L497.14 497.19 L497.91 496.65 L498.67 496.28 L499.44 496.04 L500.21 495.19 L501 495.04 L501.71 494.46 L502.44 494.52 L503.18 493.67 L503.92 493.19 L504.66 493.17 L505.39 492.72 L506.1 492.03 L506.8 491.57 L507.41 490.9 L508.01 490.48 L508.6 490.02 L509.19 489.33 L509.76 488.65 L510.33 487.93 L510.9 487.47 L511.45 486.89 L512 486.17 L512.53 485.15 L513.05 484.62 L513.54 483.77 L514.04 483.09 L514.53 482.43 L515.02 481.98 L515.53 480.95 L516.05 480.2 L516.6 479.45 L517.18 478.9 L517.78 477.94 L518.41 477.54 L519.04 476.88 L519.68 476 L520.31 475.69 L520.93 475.19 L521.53 474.28 L522.1 474.01 L522.9 473.25 L523.67 472.72 L524.4 472.5 L525.11 472.12 L525.81 471.69 L526.5 471.52 L527.33 471.76 L528.15 471.76 L528.95 472.09 L529.7 472.54 L530.4 472.75 L531.39 473.34 L532.24 473.98 L533.1 473.25 L533.45 473.17 L533.81 472.22 L534.17 471.69 L534.53 471.01 L534.89 470.31 L535.24 468.9 L535.58 468.41 L535.9 467.3 L536.14 466.63 L536.38 465.94 L536.6 465.36 L536.82 464.65 L537.04 463.62 L537.25 462.7 L537.46 461.88 L537.67 460.9 L537.88 460.19 L538.1 459.74 L538.32 458.62 L538.53 457.91 L538.74 457.23 L538.96 456.44 L539.17 455.65 L539.38 454.86 L539.6 454.14 L539.83 453.63 L540.06 452.77 L540.3 451.92 L540.55 451.02 L540.82 450.3 L541.09 449.46 L541.37 448.46 L541.65 447.57 L541.93 446.92 L542.21 446.02 L542.48 445.3 L542.75 444.75 L543 444.19 L543.75 442.82 L544.44 442.49 L545.2 442.04 L546.09 442.16 L547.05 442.82 L548 443.28 L548.94 443.22 L549.88 442.84 L550.7 442.45 L551.04 442.06 L551.34 441.43 L551.62 440.8 L551.88 439.78 L552.13 438.67 L552.4 437.71 L552.55 436.87 L552.7 436.36 L552.84 435.28 L552.98 434.88 L553.13 433.84 L553.27 433.13 L553.42 432.14 L553.56 431.13 L553.7 430.43 L553.85 429.62 L554 428.83 L554.15 428.03 L554.28 427.31 L554.42 426.45 L554.55 425.57 L554.68 424.98 L554.82 424.12 L554.97 423.49 L555.13 422.67 L555.3 421.87 L555.49 420.9 L555.7 420.08 L555.86 419.37 L556.03 418.62 L556.2 417.79 L556.39 417 L556.58 416.17 L556.77 415.19 L556.97 414.01 L557.18 413.32 L557.39 412.7 L557.6 411.36 L557.82 410.78 L558.04 409.86 L558.25 409.32 L558.47 408.42 L558.69 407.63 L558.9 407.01 L559.28 405.75 L559.65 405.27 L560.03 404.28 L560.41 403.31 L560.8 402.64 L561.2 402.1 L561.62 401.29 L562.05 400.6 L562.5 400.12 L562.97 399.29 L563.45 398.68 L563.94 398.08 L564.45 397.22 L564.98 396.88 L565.51 396.17 L566.06 395.31 L566.62 394.67 L567.2 394.23 L567.8 393.64 L568.41 392.91 L569.04 392.37 L569.69 391.78 L570.35 391.19 L571.01 390.7 L571.68 390.29 L572.34 389.78 L573 388.92 L573.66 388.49 L574.32 387.91 L574.99 387.47 L575.65 386.93 L576.32 386.67 L576.99 386.15 L577.66 385.51 L578.33 385.31 L579 384.63 L579.75 384.28 L580.5 383.9 L581.26 383.37 L582.01 382.92 L582.76 382.67 L583.51 382.35 L584.26 381.87 L585 381.73 L585.82 381.2 L586.6 380.66 L587.37 380.45 L588.16 379.95 L588.97 379.67 L589.85 379.31 L590.8 378.88 L591.45 378.73 L592.14 378.27 L592.86 378.01 L593.6 377.61 L594.36 377.15 L595.13 376.95 L595.91 376.72 L596.69 376.08 L597.47 376.13 L598.24 375.85 L599 375.65 L599.82 375.26 L600.63 375.07 L601.44 374.66 L602.25 374.35 L603.06 374.2 L603.87 373.75 L604.7 373.76 L605.55 373.18 L606.41 373.2 L607.3 372.64 L608.05 372.37 L608.81 372.01 L609.58 371.81 L610.36 371.55 L611.15 371.04 L611.95 370.69 L612.76 370.57 L613.58 370.07 L614.42 370.01 L615.26 369.76 L616.12 369.24 L617 369.39 L617.72 368.76 L618.45 368.39 L619.2 368.52 L619.96 368.11 L620.74 367.76 L621.52 367.58 L622.31 367.53 L623.1 367.32 L623.89 366.89 L624.67 366.53 L625.46 366.36 L626.24 366.28 L627 365.97 L627.76 365.78 L628.5 365.55 L629.34 365.42 L630.17 364.92 L630.99 364.68 L631.8 364.16 L632.6 364.13 L633.4 363.67 L634.2 363.52 L634.99 363.35 L635.79 363 L636.58 362.79 L637.38 362.26 L638.19 362.22 L639 362.02 L639.76 361.75 L640.53 361.55 L641.3 361.16 L642.08 361.07 L642.86 360.67 L643.65 360.45 L644.42 360.35 L645.2 360.16 L645.97 359.84 L646.74 359.36 L647.5 359.22 L648.24 358.98 L648.98 358.82 L649.7 358.8 L650.52 358.51 L651.33 357.99 L652.13 357.96 L652.91 357.74 L653.69 357.43 L654.46 357.26 L655.22 357.26 L655.97 356.91 L656.73 356.73 L657.48 356.51 L658.24 355.97 L659 356.22 L659.83 356.12 L660.65 356.08 L661.48 355.94 L662.29 355.36 L663.11 355.31 L663.93 355.08 L664.74 355.01 L665.55 354.68 L666.37 354.68 L667.18 354.56 L668 354.38" fill="none" stroke="#1008f2" stroke-width="2.3" stroke-linejoin="round" stroke-linecap="round" clip-path="url(#cd)"/>
<path d="M427 377.08 L427.12 375.93 L427.24 374.58 L427.36 373.62 L427.48 372.78 L427.6 372.37 L427.67 372.82 L427.75 373.48 L427.82 374.48 L427.89 375.99 L427.97 376.88 L428.04 378.01 L428.12 378.7 L428.2 379.01 L428.31 378.57 L428.43 377.62 L428.54 376.52 L428.66 375.34 L428.78 374.05 L428.9 373.89 L428.99 374.36 L429.07 375.31 L429.16 376.34 L429.25 377.6 L429.34 378.76 L429.43 379.7 L429.51 380.6 L429.6 381.15 L429.71 380.73 L429.81 379.59 L429.92 378.59 L430.03 377.19 L430.15 376.3 L430.3 376.24 L430.4 376.2 L430.5 376.65 L430.61 377.07 L430.72 378.16 L430.84 379.1 L430.96 380 L431.09 381.04 L431.22 382.21 L431.36 383.21 L431.5 384.25 L431.6 384.89 L431.7 385.64 L431.81 386.55 L431.91 387.22 L432.03 388.02 L432.14 388.86 L432.25 389.77 L432.37 390.68 L432.49 391.58 L432.61 392.39 L432.73 393.18 L432.85 393.84 L432.96 394.9 L433.08 395.46 L433.2 396.28 L433.35 397.37 L433.5 398.17 L433.64 398.91 L433.78 399.95 L433.92 400.65 L434.07 401.42 L434.22 402.39 L434.39 403.05 L434.57 404.06 L434.78 404.22 L435 405 L435.39 405.95 L435.83 406.8 L436.29 407.26 L436.79 408.11 L437.31 408.59 L437.85 409.22 L438.4 410.18 L438.73 410.79 L439.09 411.4 L439.45 412 L439.83 412.73 L440.21 413.57 L440.6 414.29 L440.99 415.15 L441.37 415.58 L441.75 416.32 L442.11 417.48 L442.47 418.06 L442.8 418.85 L443.1 419.44 L443.39 420.35 L443.67 421.08 L443.94 421.86 L444.21 422.8 L444.48 423.36 L444.73 424.29 L444.99 424.88 L445.24 425.97 L445.48 426.61 L445.73 427.78 L445.96 428.22 L446.2 429.4 L446.43 429.92 L446.66 430.64 L446.88 431.67 L447.1 432.48 L447.32 433.16 L447.53 433.94 L447.73 434.63 L447.94 435.7 L448.14 436.62 L448.33 437.17 L448.52 438.28 L448.71 439.32 L448.9 439.79 L449.06 440.82 L449.2 441.57 L449.34 442.19 L449.48 443.05 L449.61 443.63 L449.74 444.58 L449.87 445.48 L450 446.02 L450.12 446.78 L450.26 447.42 L450.39 448.71 L450.53 449.55 L450.68 450.13 L450.84 451.09 L451 451.99 L451.13 452.88 L451.26 453.27 L451.39 454.3 L451.53 454.74 L451.67 455.89 L451.81 456.54 L451.96 457.62 L452.1 458.37 L452.25 459.08 L452.4 459.91 L452.55 460.71 L452.71 461.9 L452.86 462.66 L453.02 463.3 L453.18 464.03 L453.34 465.05 L453.5 465.78 L453.67 466.49 L453.83 467.3 L454 468.08 L454.23 468.91 L454.46 469.87 L454.69 470.64 L454.93 471.49 L455.18 472.19 L455.42 473.14 L455.67 473.83 L455.93 474.53 L456.18 475.34 L456.43 476.05 L456.69 476.81 L456.94 477.66 L457.2 478.49 L457.45 478.98 L457.7 479.98 L457.93 480.8 L458.17 481.45 L458.41 482.44 L458.64 483.17 L458.88 483.94 L459.12 484.62 L459.36 485.48 L459.59 486.49 L459.83 487.52 L460.07 488.07 L460.31 488.7 L460.55 489.92 L460.79 490.61 L461.02 491.54 L461.26 492.13 L461.5 493.1 L461.74 493.83 L461.98 494.43 L462.23 495.32 L462.48 496.15 L462.72 496.81 L462.97 497.83 L463.22 498.41 L463.47 499.33 L463.71 499.96 L463.96 500.84 L464.19 501.6 L464.43 502.07 L464.66 503.04 L464.88 503.93 L465.09 504.58 L465.3 505.58 L465.5 506.35 L465.7 506.9 L465.89 507.83 L466.07 508.69 L466.26 509.37 L466.43 510.48 L466.61 511.2 L466.77 511.94 L466.94 512.65 L467.1 513.44 L467.26 514.25 L467.41 515.21 L467.57 515.77 L467.71 516.72 L467.86 517.6 L468 517.84 L468.2 518.92 L468.38 520.14 L468.56 521.05 L468.73 521.91 L468.88 522.96 L469.04 523.86 L469.19 524.78 L469.34 525.31 L469.49 525.99 L469.64 526.47 L469.8 526.84 L470.13 526.92 L470.44 526.31 L470.76 525.41 L471.1 524.51 L471.5 522.94 L471.69 522.41 L471.88 521.73 L472.09 521.05 L472.31 520.4 L472.53 519.43 L472.76 518.67 L472.99 517.76 L473.21 516.82 L473.44 515.73 L473.67 514.86 L473.89 514.07 L474.1 512.96 L474.26 512.23 L474.41 511.5 L474.56 510.63 L474.71 509.9 L474.86 509.24 L475.01 508.31 L475.15 507.46 L475.3 506.88 L475.45 506.07 L475.59 505.12 L475.74 504.17 L475.89 503.56 L476.04 502.64 L476.19 501.54 L476.34 500.75 L476.5 499.83 L476.64 498.98 L476.78 498.59 L476.92 497.81 L477.07 496.58 L477.21 496.09 L477.36 495.19 L477.51 494.41 L477.65 493.65 L477.8 492.83 L477.95 491.89 L478.09 490.99 L478.24 490.3 L478.39 489.61 L478.53 488.41 L478.68 487.65 L478.82 486.89 L478.96 486 L479.1 485.24 L479.24 484.59 L479.37 483.73 L479.51 482.85 L479.64 482.07 L479.77 481.17 L479.9 480.55 L480.03 479.6 L480.16 478.73 L480.29 477.99 L480.42 477.26 L480.55 476.64 L480.69 475.67 L480.82 474.83 L480.95 474.35 L481.08 473.31 L481.22 472.69 L481.36 471.82 L481.5 471.07 L481.65 470.05 L481.8 469.44 L481.95 468.56 L482.09 467.73 L482.24 467.15 L482.39 466.34 L482.54 465.62 L482.69 464.98 L482.85 463.85 L483 463.39 L483.16 462.4 L483.32 461.6 L483.49 461 L483.66 460.12 L483.83 459.07 L484.01 458.46 L484.2 457.6 L484.35 457 L484.51 456.22 L484.67 455.31 L484.84 454.33 L485.01 453.66 L485.19 452.9 L485.37 452.07 L485.55 451.24 L485.73 450.27 L485.92 449.43 L486.1 448.44 L486.28 447.6 L486.47 446.84 L486.65 446.04 L486.82 444.95 L486.99 444.22 L487.16 443.46 L487.32 442.8 L487.48 441.99 L487.63 441.57 L487.77 440.64 L487.9 439.91 L488.14 438.83 L488.35 437.78 L488.54 436.93 L488.71 436.17 L488.87 435.55 L489.02 434.83 L489.16 434.04 L489.31 433.16 L489.46 432.63 L489.62 431.72 L489.8 430.98 L489.97 430.25 L490.13 429.36 L490.3 428.78 L490.46 427.68 L490.63 426.79 L490.8 425.94 L490.98 425.22 L491.16 424.07 L491.35 423.36 L491.55 422.45 L491.77 421.74 L492 420.78 L492.27 420.11 L492.56 419.44 L492.86 418.44 L493.18 417.87 L493.5 416.88 L493.84 416.18 L494.17 415.3 L494.51 414.74 L494.85 413.97 L495.18 413.17 L495.5 412.49 L495.82 411.55 L496.13 411.04 L496.44 410.05 L496.75 409.15 L497.06 408.42 L497.38 407.67 L497.69 406.76 L498.01 406.02 L498.33 405.6 L498.66 404.74 L499 404.1 L499.42 403.45 L499.85 402.46 L500.28 401.53 L500.72 400.98 L501.16 400.07 L501.61 399.57 L502.07 398.8 L502.53 398.15 L503 397.2 L503.48 396.36 L503.96 395.89 L504.44 395.21 L504.94 394.41 L505.44 393.65 L505.94 392.95 L506.46 392.26 L506.98 391.71 L507.5 390.83 L508.1 390.26 L508.73 389.68 L509.36 388.94 L510 388.24 L510.64 387.62 L511.27 387.11 L511.9 386.56 L512.5 385.71 L513.17 385.52 L513.81 384.69 L514.44 384.05 L515.07 383.36 L515.7 382.86 L516.34 382.54 L517 382.04 L517.81 381.26 L518.67 380.88 L519.54 380.52 L520.39 380.05 L521.18 380.09 L521.9 379.82 L522.82 379.59 L523.6 379.63 L524.31 380.14 L525 380.44 L525.66 380.8 L526.26 381.15 L526.85 381.9 L527.5 382.48 L527.98 383.19 L528.48 383.83 L529 384.42 L529.52 385.22 L530.02 385.81 L530.5 386.5 L531.16 387.16 L531.78 388.08 L532.39 388.29 L533 388.82 L533.8 388.62 L534.6 388.1 L535.5 386.87 L535.89 386.48 L536.31 385.91 L536.74 385.12 L537.19 384.39 L537.64 383.6 L538.09 382.79 L538.51 382.07 L538.9 381.31 L539.48 380.58 L540.02 379.68 L540.53 379.05 L541.02 378.03 L541.5 377.67 L542.23 376.74 L542.9 375.68 L543.6 375.58 L544.38 375.81 L545.2 376.01 L546 376.38 L547.16 376.65 L548.3 376.2 L548.85 375.79 L549.39 374.94 L549.93 374.16 L550.5 372.71 L550.9 372.21 L551.31 371.32 L551.73 370.58 L552.16 369.77 L552.58 368.87 L553 367.98 L553.42 367.25 L553.84 366.21 L554.27 365.56 L554.69 364.62 L555.1 363.64 L555.5 363.02 L555.88 362.26 L556.23 361.48 L556.58 360.59 L556.93 360.01 L557.3 359.54 L557.7 358.82 L558.13 357.77 L558.58 357.14 L559.04 356.39 L559.52 355.59 L560.01 354.93 L560.5 354.47 L561.1 353.93 L561.73 353.23 L562.36 352.65 L562.99 352.19 L563.6 351.41 L564.58 350.9 L565.53 350.38 L566.5 350.25 L567.21 350.15 L567.94 350.15 L569.5 349.75 L570.06 349.76 L570.7 349.77 L571.4 349.71 L572.17 349.5 L572.98 349.69 L573.83 349.52 L574.7 349.46 L575.6 349.37 L576.5 349.37 L577.4 349.26 L578.29 349.26 L579.16 349.38 L580 349.18 L580.82 349.19 L581.64 349.1 L582.46 348.89 L583.29 348.8 L584.11 349.05 L584.94 348.86 L585.77 348.89 L586.6 348.8 L587.44 348.69 L588.27 348.97 L589.11 349.09 L589.96 348.89 L590.8 348.54 L591.59 348.59 L592.37 348.63 L593.15 348.41 L593.94 348.47 L594.73 348.48 L595.51 348.61 L596.31 348.15 L597.1 348.29 L597.9 348.09 L598.71 347.91 L599.52 348.2 L600.34 347.85 L601.17 347.99 L602 348.08 L602.79 347.97 L603.59 347.88 L604.4 348.01 L605.22 347.79 L606.04 347.73 L606.87 347.94 L607.7 347.77 L608.54 347.63 L609.37 347.55 L610.2 347.6 L611.03 347.76 L611.86 347.54 L612.68 347.58 L613.5 347.7 L614.3 347.66 L615.15 347.28 L616 347.55 L616.84 347.05 L617.68 347.38 L618.51 347.09 L619.35 347.12 L620.17 347.09 L621 347.02 L621.83 347.05 L622.66 346.94 L623.49 347.16 L624.32 346.86 L625.16 346.72 L626 346.81 L626.84 346.66 L627.67 346.69 L628.5 346.58 L629.32 346.59 L630.15 346.58 L630.97 346.59 L631.8 346.6 L632.64 346.47 L633.48 346.32 L634.33 346.22 L635.2 346.1 L636.08 346.36 L636.98 346.09 L637.9 346.05 L638.67 346.07 L639.45 346.11 L640.23 346.16 L641.03 346 L641.83 345.76 L642.64 345.93 L643.45 345.8 L644.28 345.72 L645.11 345.88 L645.95 345.7 L646.79 345.68 L647.65 345.74 L648.51 345.67 L649.37 345.65 L650.24 345.58 L651.12 345.45 L652 345.43 L652.76 345.45 L653.52 345.44 L654.3 345.53 L655.08 345.24 L655.87 345.39 L656.66 345.06 L657.46 345.48 L658.26 345.41 L659.07 345.22 L659.88 345.22 L660.69 345.24 L661.51 345.13 L662.32 345.24 L663.14 345.3 L663.96 345.05 L664.77 345.17 L665.58 345.04 L666.39 345.3 L667.2 344.92 L668 345.03" fill="none" stroke="#000" stroke-width="2.0" stroke-linejoin="round" stroke-linecap="round" clip-path="url(#cd)"/>
<line x1="607.6" y1="369.1" x2="607.6" y2="363.6" stroke="#f2393d" stroke-width="1.7"/>
<line x1="607.6" y1="372.6" x2="607.6" y2="368.1" stroke="#1008f2" stroke-width="1.7"/>
<line x1="628.6" y1="362" x2="628.6" y2="356.5" stroke="#f2393d" stroke-width="1.7"/>
<line x1="628.6" y1="365.4" x2="628.6" y2="360.9" stroke="#1008f2" stroke-width="1.7"/>
<line x1="443.44" y1="595" x2="443.44" y2="591.4" stroke="#000" stroke-width="1.4"/>
<line x1="443.44" y1="339.2" x2="443.44" y2="342.8" stroke="#000" stroke-width="1.4"/>
<line x1="478.13" y1="595" x2="478.13" y2="591.4" stroke="#000" stroke-width="1.4"/>
<line x1="478.13" y1="339.2" x2="478.13" y2="342.8" stroke="#000" stroke-width="1.4"/>
<line x1="512.81" y1="595" x2="512.81" y2="591.4" stroke="#000" stroke-width="1.4"/>
<line x1="512.81" y1="339.2" x2="512.81" y2="342.8" stroke="#000" stroke-width="1.4"/>
<line x1="547.5" y1="595" x2="547.5" y2="591.4" stroke="#000" stroke-width="1.4"/>
<line x1="547.5" y1="339.2" x2="547.5" y2="342.8" stroke="#000" stroke-width="1.4"/>
<line x1="582.19" y1="595" x2="582.19" y2="591.4" stroke="#000" stroke-width="1.4"/>
<line x1="582.19" y1="339.2" x2="582.19" y2="342.8" stroke="#000" stroke-width="1.4"/>
<line x1="616.87" y1="595" x2="616.87" y2="591.4" stroke="#000" stroke-width="1.4"/>
<line x1="616.87" y1="339.2" x2="616.87" y2="342.8" stroke="#000" stroke-width="1.4"/>
<line x1="651.56" y1="595" x2="651.56" y2="591.4" stroke="#000" stroke-width="1.4"/>
<line x1="651.56" y1="339.2" x2="651.56" y2="342.8" stroke="#000" stroke-width="1.4"/>
<line x1="426.1" y1="595" x2="426.1" y2="589" stroke="#000" stroke-width="1.4"/>
<line x1="426.1" y1="339.2" x2="426.1" y2="345.2" stroke="#000" stroke-width="1.4"/>
<line x1="460.79" y1="595" x2="460.79" y2="589" stroke="#000" stroke-width="1.4"/>
<line x1="460.79" y1="339.2" x2="460.79" y2="345.2" stroke="#000" stroke-width="1.4"/>
<line x1="495.47" y1="595" x2="495.47" y2="589" stroke="#000" stroke-width="1.4"/>
<line x1="495.47" y1="339.2" x2="495.47" y2="345.2" stroke="#000" stroke-width="1.4"/>
<line x1="530.16" y1="595" x2="530.16" y2="589" stroke="#000" stroke-width="1.4"/>
<line x1="530.16" y1="339.2" x2="530.16" y2="345.2" stroke="#000" stroke-width="1.4"/>
<line x1="564.84" y1="595" x2="564.84" y2="589" stroke="#000" stroke-width="1.4"/>
<line x1="564.84" y1="339.2" x2="564.84" y2="345.2" stroke="#000" stroke-width="1.4"/>
<line x1="599.53" y1="595" x2="599.53" y2="589" stroke="#000" stroke-width="1.4"/>
<line x1="599.53" y1="339.2" x2="599.53" y2="345.2" stroke="#000" stroke-width="1.4"/>
<line x1="634.21" y1="595" x2="634.21" y2="589" stroke="#000" stroke-width="1.4"/>
<line x1="634.21" y1="339.2" x2="634.21" y2="345.2" stroke="#000" stroke-width="1.4"/>
<line x1="668.9" y1="595" x2="668.9" y2="589" stroke="#000" stroke-width="1.4"/>
<line x1="668.9" y1="339.2" x2="668.9" y2="345.2" stroke="#000" stroke-width="1.4"/>
<line x1="426.1" y1="563.52" x2="429.7" y2="563.52" stroke="#000" stroke-width="1.4"/>
<line x1="668.9" y1="563.52" x2="665.3" y2="563.52" stroke="#000" stroke-width="1.4"/>
<line x1="426.1" y1="515.16" x2="429.7" y2="515.16" stroke="#000" stroke-width="1.4"/>
<line x1="668.9" y1="515.16" x2="665.3" y2="515.16" stroke="#000" stroke-width="1.4"/>
<line x1="426.1" y1="466.8" x2="429.7" y2="466.8" stroke="#000" stroke-width="1.4"/>
<line x1="668.9" y1="466.8" x2="665.3" y2="466.8" stroke="#000" stroke-width="1.4"/>
<line x1="426.1" y1="418.44" x2="429.7" y2="418.44" stroke="#000" stroke-width="1.4"/>
<line x1="668.9" y1="418.44" x2="665.3" y2="418.44" stroke="#000" stroke-width="1.4"/>
<line x1="426.1" y1="370.08" x2="429.7" y2="370.08" stroke="#000" stroke-width="1.4"/>
<line x1="668.9" y1="370.08" x2="665.3" y2="370.08" stroke="#000" stroke-width="1.4"/>
<line x1="426.1" y1="587.7" x2="432.1" y2="587.7" stroke="#000" stroke-width="1.4"/>
<line x1="668.9" y1="587.7" x2="662.9" y2="587.7" stroke="#000" stroke-width="1.4"/>
<line x1="426.1" y1="539.34" x2="432.1" y2="539.34" stroke="#000" stroke-width="1.4"/>
<line x1="668.9" y1="539.34" x2="662.9" y2="539.34" stroke="#000" stroke-width="1.4"/>
<line x1="426.1" y1="490.98" x2="432.1" y2="490.98" stroke="#000" stroke-width="1.4"/>
<line x1="668.9" y1="490.98" x2="662.9" y2="490.98" stroke="#000" stroke-width="1.4"/>
<line x1="426.1" y1="442.62" x2="432.1" y2="442.62" stroke="#000" stroke-width="1.4"/>
<line x1="668.9" y1="442.62" x2="662.9" y2="442.62" stroke="#000" stroke-width="1.4"/>
<line x1="426.1" y1="394.26" x2="432.1" y2="394.26" stroke="#000" stroke-width="1.4"/>
<line x1="668.9" y1="394.26" x2="662.9" y2="394.26" stroke="#000" stroke-width="1.4"/>
<line x1="426.1" y1="345.9" x2="432.1" y2="345.9" stroke="#000" stroke-width="1.4"/>
<line x1="668.9" y1="345.9" x2="662.9" y2="345.9" stroke="#000" stroke-width="1.4"/>
<rect x="426.1" y="339.2" width="242.8" height="255.8" fill="none" stroke="#000" stroke-width="2"/>
<text x="426.1" y="609.2" font-family="Liberation Sans" font-size="11.8" font-weight="bold" text-anchor="middle" fill="#000">300</text>
<text x="460.79" y="609.2" font-family="Liberation Sans" font-size="11.8" font-weight="bold" text-anchor="middle" fill="#000">400</text>
<text x="495.47" y="609.2" font-family="Liberation Sans" font-size="11.8" font-weight="bold" text-anchor="middle" fill="#000">500</text>
<text x="530.16" y="609.2" font-family="Liberation Sans" font-size="11.8" font-weight="bold" text-anchor="middle" fill="#000">600</text>
<text x="564.84" y="609.2" font-family="Liberation Sans" font-size="11.8" font-weight="bold" text-anchor="middle" fill="#000">700</text>
<text x="599.53" y="609.2" font-family="Liberation Sans" font-size="11.8" font-weight="bold" text-anchor="middle" fill="#000">800</text>
<text x="634.21" y="609.2" font-family="Liberation Sans" font-size="11.8" font-weight="bold" text-anchor="middle" fill="#000">900</text>
<text x="668.9" y="609.2" font-family="Liberation Sans" font-size="11.8" font-weight="bold" text-anchor="middle" fill="#000">1000</text>
<text x="419.5" y="591.4" font-family="Liberation Sans" font-size="11.8" font-weight="bold" text-anchor="end" fill="#000">0</text>
<text x="419.5" y="543.04" font-family="Liberation Sans" font-size="11.8" font-weight="bold" text-anchor="end" fill="#000">20</text>
<text x="419.5" y="494.68" font-family="Liberation Sans" font-size="11.8" font-weight="bold" text-anchor="end" fill="#000">40</text>
<text x="419.5" y="446.32" font-family="Liberation Sans" font-size="11.8" font-weight="bold" text-anchor="end" fill="#000">60</text>
<text x="419.5" y="397.96" font-family="Liberation Sans" font-size="11.8" font-weight="bold" text-anchor="end" fill="#000">80</text>
<text x="419.5" y="349.6" font-family="Liberation Sans" font-size="11.8" font-weight="bold" text-anchor="end" fill="#000">100</text>
<text x="547.6" y="631.8" font-family="Liberation Sans" font-size="13.8" font-weight="bold" text-anchor="middle" fill="#000" textLength="110.5" lengthAdjust="spacingAndGlyphs">Wavelength (nm)</text>
<text x="396.3" y="517.9" font-family="Liberation Sans" font-size="14" font-weight="bold" text-anchor="start" fill="#000" textLength="104" lengthAdjust="spacingAndGlyphs" transform="rotate(-90 396.3 517.9)">Reflectance (%)</text>
<text x="349.9" y="347.5" font-family="Liberation Serif" font-size="22.8" font-weight="bold" text-anchor="start" fill="#000" textLength="29" lengthAdjust="spacingAndGlyphs">(d)</text>
<line x1="543" y1="515.2" x2="570" y2="515.2" stroke="#000" stroke-width="2"/>
<line x1="543" y1="532" x2="570" y2="532" stroke="#f2393d" stroke-width="2"/>
<line x1="543" y1="548.6" x2="570" y2="548.6" stroke="#1008f2" stroke-width="2"/>
<line x1="543" y1="564.8" x2="570.5" y2="564.8" stroke="#43a57a" stroke-width="2.4" stroke-dasharray="5 3.6"/>
<text x="572.7" y="518.6" font-family="Liberation Serif" font-size="11.5" font-weight="bold"><tspan>1L MoS</tspan><tspan font-size="7.4" dy="2.8">2</tspan></text>
<text x="572.7" y="535.6" font-family="Liberation Serif" font-size="11.5" font-weight="bold"><tspan>FL SnSe</tspan><tspan font-size="7.4" dy="2.8">2</tspan></text>
<text x="572.7" y="552.5" font-family="Liberation Serif" font-size="11.5" font-weight="bold"><tspan>1L MoS</tspan><tspan font-size="7.4" dy="2.8">2</tspan><tspan dy="-2.8">/FL SnSe</tspan><tspan font-size="7.4" dy="2.8">2</tspan></text>
<text x="572.7" y="568.8" font-family="Liberation Serif" font-size="11.5" font-weight="bold"><tspan>Simulation</tspan></text>
<text x="572.7" y="584.7" font-family="Liberation Serif" font-size="11.5" font-weight="bold"><tspan>1LMoS</tspan><tspan font-size="7.4" dy="2.8">2</tspan><tspan dy="-2.8">/FL SnSe</tspan><tspan font-size="7.4" dy="2.8">2</tspan></text>
</svg>
</body></html>
